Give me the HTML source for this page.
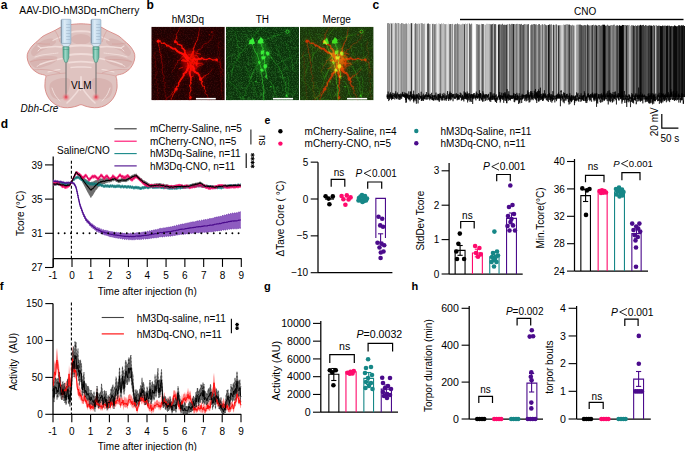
<!DOCTYPE html><html><head><meta charset="utf-8"><style>html,body{margin:0;padding:0;background:#fff;overflow:hidden}svg{display:block}text{font-family:"Liberation Sans", sans-serif}</style></head><body>
<svg width="685" height="451" viewBox="0 0 685 451">
<defs>
<radialGradient id="rglow"><stop offset="0" stop-color="#e8283c" stop-opacity="0.95"/><stop offset="0.35" stop-color="#ee5060" stop-opacity="0.6"/><stop offset="1" stop-color="#f0a0a0" stop-opacity="0"/></radialGradient>
<linearGradient id="barrel" x1="0" x2="1"><stop offset="0" stop-color="#a9c8e0"/><stop offset="0.35" stop-color="#dcebf6"/><stop offset="1" stop-color="#b4d0e6"/></linearGradient>
<linearGradient id="hub" x1="0" x2="1"><stop offset="0" stop-color="#4fa690"/><stop offset="0.4" stop-color="#9cd8c6"/><stop offset="1" stop-color="#56aa94"/></linearGradient>
<filter id="blur1" x="-20%" y="-20%" width="140%" height="140%"><feGaussianBlur stdDeviation="0.7"/></filter>
<filter id="blur2" x="-20%" y="-20%" width="140%" height="140%"><feGaussianBlur stdDeviation="1.4"/></filter>
<filter id="blur05"><feGaussianBlur stdDeviation="0.45"/></filter>
<clipPath id="cp1"><rect x="151.3" y="26.7" width="73.5" height="73.6"/></clipPath>
<clipPath id="cp2"><rect x="225.9" y="26.7" width="73.2" height="73.6"/></clipPath>
<clipPath id="cp3"><rect x="300.0" y="26.7" width="73.4" height="73.6"/></clipPath>
<clipPath id="cpc"><rect x="386" y="18" width="299" height="90"/></clipPath>
</defs>
<text x="0.8" y="8.7" font-size="12" text-anchor="start" font-weight="bold" font-style="normal" fill="#000">a</text>
<text x="146.6" y="8.7" font-size="12" text-anchor="start" font-weight="bold" font-style="normal" fill="#000">b</text>
<text x="372.6" y="8.7" font-size="12" text-anchor="start" font-weight="bold" font-style="normal" fill="#000">c</text>
<text x="0.8" y="127.6" font-size="12" text-anchor="start" font-weight="bold" font-style="normal" fill="#000">d</text>
<text x="264.4" y="124.0" font-size="10.5" text-anchor="start" font-weight="bold" font-style="normal" fill="#000">e</text>
<text x="-0.3" y="289.5" font-size="11.5" text-anchor="start" font-weight="bold" font-style="normal" fill="#000">f</text>
<text x="264.0" y="290.0" font-size="11" text-anchor="start" font-weight="bold" font-style="normal" fill="#000">g</text>
<text x="411.6" y="290.2" font-size="11" text-anchor="start" font-weight="bold" font-style="normal" fill="#000">h</text>
<text x="19.3" y="13.6" font-size="10.25" text-anchor="start" font-weight="normal" font-style="normal" fill="#000">AAV-DIO-hM3Dq-mCherry</text>
<g>
<path d="M81.00,23.80 C78.00,23.80 74.50,24.10 72.00,24.40 C69.50,24.70 68.00,25.07 66.00,25.60 C64.00,26.13 61.83,26.80 60.00,27.60 C58.17,28.40 56.83,29.47 55.00,30.40 C53.17,31.33 51.00,32.23 49.00,33.20 C47.00,34.17 44.83,34.97 43.00,36.20 C41.17,37.43 39.67,39.13 38.00,40.60 C36.33,42.07 34.42,43.52 33.00,45.00 C31.58,46.48 30.45,47.92 29.50,49.50 C28.55,51.08 27.62,52.75 27.30,54.50 C26.98,56.25 27.18,58.17 27.60,60.00 C28.02,61.83 28.82,63.83 29.80,65.50 C30.78,67.17 31.97,68.65 33.50,70.00 C35.03,71.35 37.00,72.67 39.00,73.60 C41.00,74.53 44.47,74.53 45.50,75.60 C46.53,76.67 45.28,77.93 45.20,80.00 C45.12,82.07 44.70,85.50 45.00,88.00 C45.30,90.50 46.00,92.83 47.00,95.00 C48.00,97.17 49.33,99.25 51.00,101.00 C52.67,102.75 54.83,104.40 57.00,105.50 C59.17,106.60 61.67,107.28 64.00,107.60 C66.33,107.92 68.83,107.67 71.00,107.40 C73.17,107.13 75.33,106.47 77.00,106.00 C78.67,105.53 79.67,104.60 81.00,104.60 C82.33,104.60 83.33,105.53 85.00,106.00 C86.67,106.47 88.83,107.13 91.00,107.40 C93.17,107.67 95.67,107.92 98.00,107.60 C100.33,107.28 102.83,106.60 105.00,105.50 C107.17,104.40 109.33,102.75 111.00,101.00 C112.67,99.25 114.00,97.17 115.00,95.00 C116.00,92.83 116.70,90.50 117.00,88.00 C117.30,85.50 116.88,82.07 116.80,80.00 C116.72,77.93 115.47,76.67 116.50,75.60 C117.53,74.53 121.00,74.53 123.00,73.60 C125.00,72.67 126.97,71.35 128.50,70.00 C130.03,68.65 131.22,67.17 132.20,65.50 C133.18,63.83 133.98,61.83 134.40,60.00 C134.82,58.17 135.02,56.25 134.70,54.50 C134.38,52.75 133.45,51.08 132.50,49.50 C131.55,47.92 130.42,46.48 129.00,45.00 C127.58,43.52 125.67,42.07 124.00,40.60 C122.33,39.13 120.83,37.43 119.00,36.20 C117.17,34.97 115.00,34.17 113.00,33.20 C111.00,32.23 108.83,31.33 107.00,30.40 C105.17,29.47 103.83,28.40 102.00,27.60 C100.17,26.80 98.00,26.13 96.00,25.60 C94.00,25.07 92.50,24.70 90.00,24.40 C87.50,24.10 84.00,23.80 81.00,23.80 Z" fill="#dfc3c0" stroke="#d7837e" stroke-width="0.85"/>
<g fill="#d8b5b2">
<ellipse cx="81" cy="39.3" rx="10" ry="5.2"/>
<path d="M31.00,52.00 C31.33,50.17 33.83,47.00 36.00,45.00 C38.17,43.00 41.33,41.08 44.00,40.00 C46.67,38.92 50.00,38.17 52.00,38.50 C54.00,38.83 56.33,40.58 56.00,42.00 C55.67,43.42 52.50,45.50 50.00,47.00 C47.50,48.50 43.67,49.50 41.00,51.00 C38.33,52.50 35.67,55.83 34.00,56.00 C32.33,56.17 30.67,53.83 31.00,52.00 Z"/>
<path d="M30.00,62.00 C30.17,60.33 34.17,59.00 37.00,58.00 C39.83,57.00 43.67,56.17 47.00,56.00 C50.33,55.83 55.67,56.00 57.00,57.00 C58.33,58.00 56.83,60.50 55.00,62.00 C53.17,63.50 49.17,65.00 46.00,66.00 C42.83,67.00 38.67,68.67 36.00,68.00 C33.33,67.33 29.83,63.67 30.00,62.00 Z"/>
<path d="M50.00,84.00 C50.83,82.00 52.83,81.00 55.00,80.00 C57.17,79.00 60.50,78.00 63.00,78.00 C65.50,78.00 69.17,77.67 70.00,80.00 C70.83,82.33 69.33,88.83 68.00,92.00 C66.67,95.17 64.33,98.00 62.00,99.00 C59.67,100.00 56.00,99.17 54.00,98.00 C52.00,96.83 50.67,94.33 50.00,92.00 C49.33,89.67 49.17,86.00 50.00,84.00 Z" fill="#d8b4b1"/>
<path d="M131.00,52.00 C130.67,50.17 128.17,47.00 126.00,45.00 C123.83,43.00 120.67,41.08 118.00,40.00 C115.33,38.92 112.00,38.17 110.00,38.50 C108.00,38.83 105.67,40.58 106.00,42.00 C106.33,43.42 109.50,45.50 112.00,47.00 C114.50,48.50 118.33,49.50 121.00,51.00 C123.67,52.50 126.33,55.83 128.00,56.00 C129.67,56.17 131.33,53.83 131.00,52.00 Z"/>
<path d="M132.00,62.00 C131.83,60.33 127.83,59.00 125.00,58.00 C122.17,57.00 118.33,56.17 115.00,56.00 C111.67,55.83 106.33,56.00 105.00,57.00 C103.67,58.00 105.17,60.50 107.00,62.00 C108.83,63.50 112.83,65.00 116.00,66.00 C119.17,67.00 123.33,68.67 126.00,68.00 C128.67,67.33 132.17,63.67 132.00,62.00 Z"/>
<path d="M112.00,84.00 C111.17,82.00 109.17,81.00 107.00,80.00 C104.83,79.00 101.50,78.00 99.00,78.00 C96.50,78.00 92.83,77.67 92.00,80.00 C91.17,82.33 92.67,88.83 94.00,92.00 C95.33,95.17 97.67,98.00 100.00,99.00 C102.33,100.00 106.00,99.17 108.00,98.00 C110.00,96.83 111.33,94.33 112.00,92.00 C112.67,89.67 112.83,86.00 112.00,84.00 Z" fill="#d8b4b1"/>
</g>
<g fill="none" stroke="#f0dcd9" stroke-linecap="round" stroke-linejoin="round">
<path d="M70.00,32.50 C71.00,32.32 73.33,31.58 76.00,31.40 C78.67,31.22 83.33,31.22 86.00,31.40 C88.67,31.58 91.00,32.32 92.00,32.50 " stroke-width="1.8"/>
<path d="M68.00,46.50 C69.17,46.35 71.83,45.75 75.00,45.60 C78.17,45.45 83.83,45.45 87.00,45.60 C90.17,45.75 92.83,46.35 94.00,46.50 " stroke-width="2.2"/>
<path d="M68.00,55.20 C69.17,55.03 71.83,54.37 75.00,54.20 C78.17,54.03 83.83,54.03 87.00,54.20 C90.17,54.37 92.83,55.03 94.00,55.20 " stroke-width="2.0"/>
<path d="M69.00,62.60 C70.17,62.47 73.17,61.93 76.00,61.80 C78.83,61.67 83.17,61.67 86.00,61.80 C88.83,61.93 91.83,62.47 93.00,62.60 " stroke-width="1.8"/>
<path d="M71.00,67.50 C72.00,67.42 74.67,67.08 77.00,67.00 C79.33,66.92 82.67,66.92 85.00,67.00 C87.33,67.08 90.00,67.42 91.00,67.50 " stroke-width="1.4"/>
<path d="M81.00,77.00 C81.00,78.17 81.08,81.83 81.00,84.00 C80.92,86.17 80.58,89.00 80.50,90.00 " stroke-width="1.8"/>
<path d="M81.00,86.00 C80.33,87.00 78.50,90.00 77.00,92.00 C75.50,94.00 73.67,96.17 72.00,98.00 C70.33,99.83 67.83,102.17 67.00,103.00 " stroke-width="1.5"/>
<path d="M81.00,86.00 C81.67,87.00 83.50,90.00 85.00,92.00 C86.50,94.00 88.33,96.17 90.00,98.00 C91.67,99.83 94.17,102.17 95.00,103.00 " stroke-width="1.5"/>
<path d="M41.00,48.00 C42.00,47.87 44.67,47.45 47.00,47.20 C49.33,46.95 52.50,46.53 55.00,46.50 C57.50,46.47 60.83,46.92 62.00,47.00 " stroke-width="1.6"/>
<path d="M41.00,48.00 C40.50,47.67 38.50,46.33 38.00,46.00 " stroke-width="1.2"/>
<path d="M41.00,48.00 C40.50,48.50 38.50,50.50 38.00,51.00 " stroke-width="1.0"/>
<path d="M40.00,64.50 C41.17,64.08 44.50,62.75 47.00,62.00 C49.50,61.25 52.50,60.58 55.00,60.00 C57.50,59.42 60.83,58.75 62.00,58.50 " stroke-width="1.4"/>
<path d="M40.00,64.50 C39.50,64.83 37.50,66.17 37.00,66.50 " stroke-width="1.0"/>
<path d="M35.00,57.00 C36.17,56.67 39.50,55.50 42.00,55.00 C44.50,54.50 47.33,54.33 50.00,54.00 C52.67,53.67 56.67,53.17 58.00,53.00 " stroke-width="1.0"/>
<path d="M53.00,40.50 C53.67,40.17 55.50,39.17 57.00,38.50 C58.50,37.83 61.17,36.83 62.00,36.50 " stroke-width="1.2"/>
<path d="M48.00,72.00 C49.00,71.75 52.00,70.92 54.00,70.50 C56.00,70.08 59.00,69.67 60.00,69.50 " stroke-width="1.2"/>
<path d="M52.00,88.00 C52.50,89.17 53.67,92.83 55.00,95.00 C56.33,97.17 59.17,100.00 60.00,101.00 " stroke-width="1.0"/>
<path d="M121.00,48.00 C120.00,47.87 117.33,47.45 115.00,47.20 C112.67,46.95 109.50,46.53 107.00,46.50 C104.50,46.47 101.17,46.92 100.00,47.00 " stroke-width="1.6"/>
<path d="M121.00,48.00 C121.50,47.67 123.50,46.33 124.00,46.00 " stroke-width="1.2"/>
<path d="M121.00,48.00 C121.50,48.50 123.50,50.50 124.00,51.00 " stroke-width="1.0"/>
<path d="M122.00,64.50 C120.83,64.08 117.50,62.75 115.00,62.00 C112.50,61.25 109.50,60.58 107.00,60.00 C104.50,59.42 101.17,58.75 100.00,58.50 " stroke-width="1.4"/>
<path d="M122.00,64.50 C122.50,64.83 124.50,66.17 125.00,66.50 " stroke-width="1.0"/>
<path d="M127.00,57.00 C125.83,56.67 122.50,55.50 120.00,55.00 C117.50,54.50 114.67,54.33 112.00,54.00 C109.33,53.67 105.33,53.17 104.00,53.00 " stroke-width="1.0"/>
<path d="M109.00,40.50 C108.33,40.17 106.50,39.17 105.00,38.50 C103.50,37.83 100.83,36.83 100.00,36.50 " stroke-width="1.2"/>
<path d="M114.00,72.00 C113.00,71.75 110.00,70.92 108.00,70.50 C106.00,70.08 103.00,69.67 102.00,69.50 " stroke-width="1.2"/>
<path d="M110.00,88.00 C109.50,89.17 108.33,92.83 107.00,95.00 C105.67,97.17 102.83,100.00 102.00,101.00 " stroke-width="1.0"/>
</g>
<g fill="none" stroke="#d39995" stroke-width="0.55">
<path d="M29.50,62.00 C30.92,61.67 34.92,60.42 38.00,60.00 C41.08,59.58 44.83,59.50 48.00,59.50 C51.17,59.50 55.50,59.92 57.00,60.00 "/>
<path d="M33.00,70.00 C34.50,69.92 38.83,69.42 42.00,69.50 C45.17,69.58 49.00,69.92 52.00,70.50 C55.00,71.08 58.67,72.58 60.00,73.00 "/>
<path d="M46.00,76.00 C47.67,75.67 52.67,74.50 56.00,74.00 C59.33,73.50 64.33,73.17 66.00,73.00 "/>
<path d="M36.00,43.00 C37.17,43.17 40.67,43.83 43.00,44.00 C45.33,44.17 48.83,44.00 50.00,44.00 "/>
<path d="M55.00,30.40 C55.50,31.33 57.17,34.07 58.00,36.00 C58.83,37.93 59.67,41.00 60.00,42.00 "/>
<path d="M132.50,62.00 C131.08,61.67 127.08,60.42 124.00,60.00 C120.92,59.58 117.17,59.50 114.00,59.50 C110.83,59.50 106.50,59.92 105.00,60.00 "/>
<path d="M129.00,70.00 C127.50,69.92 123.17,69.42 120.00,69.50 C116.83,69.58 113.00,69.92 110.00,70.50 C107.00,71.08 103.33,72.58 102.00,73.00 "/>
<path d="M116.00,76.00 C114.33,75.67 109.33,74.50 106.00,74.00 C102.67,73.50 97.67,73.17 96.00,73.00 "/>
<path d="M126.00,43.00 C124.83,43.17 121.33,43.83 119.00,44.00 C116.67,44.17 113.17,44.00 112.00,44.00 "/>
<path d="M107.00,30.40 C106.50,31.33 104.83,34.07 104.00,36.00 C103.17,37.93 102.33,41.00 102.00,42.00 "/>
</g>
</g>
<line x1="66.0" y1="61" x2="66.0" y2="97" stroke="#6e6e6e" stroke-width="1.0"/>
<circle cx="66.0" cy="97.2" r="4.4" fill="url(#rglow)"/>
<rect x="61.1" y="19.3" width="9.8" height="24.2" rx="0.8" fill="url(#barrel)" stroke="#8aa2b8" stroke-width="0.6"/>
<line x1="61.4" y1="20" x2="61.4" y2="43" stroke="#7b8a98" stroke-width="0.7"/>
<line x1="66.2" y1="24.5" x2="70.2" y2="24.5" stroke="#8aa2b8" stroke-width="0.4"/>
<line x1="66.2" y1="27.5" x2="70.2" y2="27.5" stroke="#8aa2b8" stroke-width="0.4"/>
<line x1="66.2" y1="30.5" x2="70.2" y2="30.5" stroke="#8aa2b8" stroke-width="0.4"/>
<line x1="66.2" y1="33.5" x2="70.2" y2="33.5" stroke="#8aa2b8" stroke-width="0.4"/>
<line x1="66.2" y1="36.5" x2="70.2" y2="36.5" stroke="#8aa2b8" stroke-width="0.4"/>
<line x1="66.2" y1="39.5" x2="70.2" y2="39.5" stroke="#8aa2b8" stroke-width="0.4"/>
<polygon points="61.1,43.4 70.9,43.4 68.3,46.6 63.7,46.6" fill="#d6e8f4" stroke="#8aa2b8" stroke-width="0.5"/>
<polygon points="62.9,46.8 69.1,46.8 68.9,57.5 67.2,62.2 64.8,62.2 63.1,57.5" fill="url(#hub)" stroke="#3a8874" stroke-width="0.5"/>
<line x1="63.0" y1="49.5" x2="69.0" y2="49.5" stroke="#3a8874" stroke-width="0.45"/>
<line x1="96.0" y1="61" x2="96.0" y2="97" stroke="#6e6e6e" stroke-width="1.0"/>
<circle cx="96.0" cy="97.2" r="4.4" fill="url(#rglow)"/>
<rect x="91.1" y="19.3" width="9.8" height="24.2" rx="0.8" fill="url(#barrel)" stroke="#8aa2b8" stroke-width="0.6"/>
<line x1="91.4" y1="20" x2="91.4" y2="43" stroke="#7b8a98" stroke-width="0.7"/>
<line x1="96.2" y1="24.5" x2="100.2" y2="24.5" stroke="#8aa2b8" stroke-width="0.4"/>
<line x1="96.2" y1="27.5" x2="100.2" y2="27.5" stroke="#8aa2b8" stroke-width="0.4"/>
<line x1="96.2" y1="30.5" x2="100.2" y2="30.5" stroke="#8aa2b8" stroke-width="0.4"/>
<line x1="96.2" y1="33.5" x2="100.2" y2="33.5" stroke="#8aa2b8" stroke-width="0.4"/>
<line x1="96.2" y1="36.5" x2="100.2" y2="36.5" stroke="#8aa2b8" stroke-width="0.4"/>
<line x1="96.2" y1="39.5" x2="100.2" y2="39.5" stroke="#8aa2b8" stroke-width="0.4"/>
<polygon points="91.1,43.4 100.9,43.4 98.3,46.6 93.7,46.6" fill="#d6e8f4" stroke="#8aa2b8" stroke-width="0.5"/>
<polygon points="92.9,46.8 99.1,46.8 98.9,57.5 97.2,62.2 94.8,62.2 93.1,57.5" fill="url(#hub)" stroke="#3a8874" stroke-width="0.5"/>
<line x1="93.0" y1="49.5" x2="99.0" y2="49.5" stroke="#3a8874" stroke-width="0.45"/>
<text x="81.3" y="88.5" font-size="10" text-anchor="middle" font-weight="normal" font-style="normal" fill="#000">VLM</text>
<text x="20.6" y="111.6" font-size="10" text-anchor="start" font-weight="normal" font-style="italic" fill="#000">Dbh-Cre</text>
<text x="187.9" y="23.2" font-size="10" text-anchor="middle" font-weight="normal" font-style="normal" fill="#000">hM3Dq</text>
<text x="262.4" y="23.2" font-size="10" text-anchor="middle" font-weight="normal" font-style="normal" fill="#000">TH</text>
<text x="336.6" y="23.2" font-size="10" text-anchor="middle" font-weight="normal" font-style="normal" fill="#000">Merge</text>
<defs>
<g id="redN"><line x1="36.4" y1="33.8" x2="35.0" y2="31.2" stroke="currentColor" stroke-opacity="1.00" stroke-width="2.40" stroke-linecap="round"/><line x1="35.0" y1="31.2" x2="34.8" y2="30.9" stroke="currentColor" stroke-opacity="0.99" stroke-width="2.33" stroke-linecap="round"/><line x1="34.8" y1="30.9" x2="32.9" y2="28.7" stroke="currentColor" stroke-opacity="0.98" stroke-width="2.26" stroke-linecap="round"/><line x1="32.9" y1="28.7" x2="32.9" y2="27.7" stroke="currentColor" stroke-opacity="0.97" stroke-width="2.19" stroke-linecap="round"/><line x1="32.9" y1="27.7" x2="31.2" y2="27.2" stroke="currentColor" stroke-opacity="0.96" stroke-width="2.12" stroke-linecap="round"/><line x1="31.2" y1="27.2" x2="29.4" y2="26.2" stroke="currentColor" stroke-opacity="0.95" stroke-width="2.05" stroke-linecap="round"/><line x1="29.4" y1="26.2" x2="28.0" y2="25.8" stroke="currentColor" stroke-opacity="0.94" stroke-width="1.98" stroke-linecap="round"/><line x1="28.0" y1="25.8" x2="26.0" y2="24.4" stroke="currentColor" stroke-opacity="0.93" stroke-width="1.91" stroke-linecap="round"/><line x1="26.0" y1="24.4" x2="24.5" y2="22.8" stroke="currentColor" stroke-opacity="0.92" stroke-width="1.84" stroke-linecap="round"/><line x1="24.5" y1="22.8" x2="23.8" y2="21.9" stroke="currentColor" stroke-opacity="0.91" stroke-width="1.77" stroke-linecap="round"/><line x1="23.8" y1="21.9" x2="21.7" y2="22.0" stroke="currentColor" stroke-opacity="0.90" stroke-width="1.70" stroke-linecap="round"/><line x1="21.7" y1="22.0" x2="19.7" y2="20.7" stroke="currentColor" stroke-opacity="0.89" stroke-width="1.63" stroke-linecap="round"/><line x1="19.7" y1="20.7" x2="19.9" y2="20.9" stroke="currentColor" stroke-opacity="0.88" stroke-width="1.56" stroke-linecap="round"/><line x1="19.9" y1="20.9" x2="16.7" y2="18.7" stroke="currentColor" stroke-opacity="0.87" stroke-width="1.49" stroke-linecap="round"/><line x1="16.7" y1="18.7" x2="15.6" y2="19.3" stroke="currentColor" stroke-opacity="0.86" stroke-width="1.42" stroke-linecap="round"/><line x1="15.6" y1="19.3" x2="15.2" y2="18.4" stroke="currentColor" stroke-opacity="0.85" stroke-width="1.35" stroke-linecap="round"/><line x1="15.2" y1="18.4" x2="12.8" y2="16.4" stroke="currentColor" stroke-opacity="0.84" stroke-width="1.28" stroke-linecap="round"/><line x1="12.8" y1="16.4" x2="12.1" y2="16.7" stroke="currentColor" stroke-opacity="0.83" stroke-width="1.21" stroke-linecap="round"/><line x1="12.1" y1="16.7" x2="10.2" y2="16.6" stroke="currentColor" stroke-opacity="0.82" stroke-width="1.14" stroke-linecap="round"/><line x1="10.2" y1="16.6" x2="8.8" y2="14.2" stroke="currentColor" stroke-opacity="0.81" stroke-width="1.07" stroke-linecap="round"/><line x1="8.8" y1="14.2" x2="7.0" y2="14.5" stroke="currentColor" stroke-opacity="0.80" stroke-width="1.00" stroke-linecap="round"/><line x1="37.6" y1="31.6" x2="36.5" y2="31.3" stroke="currentColor" stroke-opacity="1.00" stroke-width="2.00" stroke-linecap="round"/><line x1="36.5" y1="31.3" x2="34.8" y2="28.3" stroke="currentColor" stroke-opacity="0.98" stroke-width="1.93" stroke-linecap="round"/><line x1="34.8" y1="28.3" x2="34.0" y2="27.6" stroke="currentColor" stroke-opacity="0.96" stroke-width="1.85" stroke-linecap="round"/><line x1="34.0" y1="27.6" x2="33.6" y2="26.2" stroke="currentColor" stroke-opacity="0.95" stroke-width="1.78" stroke-linecap="round"/><line x1="33.6" y1="26.2" x2="33.4" y2="23.8" stroke="currentColor" stroke-opacity="0.93" stroke-width="1.71" stroke-linecap="round"/><line x1="33.4" y1="23.8" x2="32.2" y2="22.2" stroke="currentColor" stroke-opacity="0.91" stroke-width="1.64" stroke-linecap="round"/><line x1="32.2" y1="22.2" x2="31.0" y2="21.7" stroke="currentColor" stroke-opacity="0.89" stroke-width="1.56" stroke-linecap="round"/><line x1="31.0" y1="21.7" x2="30.3" y2="18.9" stroke="currentColor" stroke-opacity="0.87" stroke-width="1.49" stroke-linecap="round"/><line x1="30.3" y1="18.9" x2="28.2" y2="17.9" stroke="currentColor" stroke-opacity="0.85" stroke-width="1.42" stroke-linecap="round"/><line x1="28.2" y1="17.9" x2="26.1" y2="17.5" stroke="currentColor" stroke-opacity="0.84" stroke-width="1.35" stroke-linecap="round"/><line x1="26.1" y1="17.5" x2="25.7" y2="15.6" stroke="currentColor" stroke-opacity="0.82" stroke-width="1.27" stroke-linecap="round"/><line x1="25.7" y1="15.6" x2="24.0" y2="15.0" stroke="currentColor" stroke-opacity="0.80" stroke-width="1.20" stroke-linecap="round"/><line x1="41.4" y1="33.1" x2="42.9" y2="31.8" stroke="currentColor" stroke-opacity="1.00" stroke-width="2.00" stroke-linecap="round"/><line x1="42.9" y1="31.8" x2="44.2" y2="33.0" stroke="currentColor" stroke-opacity="0.98" stroke-width="1.91" stroke-linecap="round"/><line x1="44.2" y1="33.0" x2="47.7" y2="32.1" stroke="currentColor" stroke-opacity="0.95" stroke-width="1.82" stroke-linecap="round"/><line x1="47.7" y1="32.1" x2="49.6" y2="32.1" stroke="currentColor" stroke-opacity="0.93" stroke-width="1.73" stroke-linecap="round"/><line x1="49.6" y1="32.1" x2="50.4" y2="31.3" stroke="currentColor" stroke-opacity="0.91" stroke-width="1.64" stroke-linecap="round"/><line x1="50.4" y1="31.3" x2="52.7" y2="32.7" stroke="currentColor" stroke-opacity="0.89" stroke-width="1.55" stroke-linecap="round"/><line x1="52.7" y1="32.7" x2="55.5" y2="32.8" stroke="currentColor" stroke-opacity="0.86" stroke-width="1.45" stroke-linecap="round"/><line x1="55.5" y1="32.8" x2="57.7" y2="31.8" stroke="currentColor" stroke-opacity="0.84" stroke-width="1.36" stroke-linecap="round"/><line x1="57.7" y1="31.8" x2="58.5" y2="31.8" stroke="currentColor" stroke-opacity="0.82" stroke-width="1.27" stroke-linecap="round"/><line x1="58.5" y1="31.8" x2="61.6" y2="33.4" stroke="currentColor" stroke-opacity="0.80" stroke-width="1.18" stroke-linecap="round"/><line x1="61.6" y1="33.4" x2="63.0" y2="33.1" stroke="currentColor" stroke-opacity="0.77" stroke-width="1.09" stroke-linecap="round"/><line x1="63.0" y1="33.1" x2="65.3" y2="33.0" stroke="currentColor" stroke-opacity="0.75" stroke-width="1.00" stroke-linecap="round"/><line x1="39.4" y1="38.8" x2="41.7" y2="40.5" stroke="currentColor" stroke-opacity="1.00" stroke-width="2.40" stroke-linecap="round"/><line x1="41.7" y1="40.5" x2="42.6" y2="42.0" stroke="currentColor" stroke-opacity="0.98" stroke-width="2.30" stroke-linecap="round"/><line x1="42.6" y1="42.0" x2="42.1" y2="43.4" stroke="currentColor" stroke-opacity="0.96" stroke-width="2.20" stroke-linecap="round"/><line x1="42.1" y1="43.4" x2="43.7" y2="45.1" stroke="currentColor" stroke-opacity="0.94" stroke-width="2.10" stroke-linecap="round"/><line x1="43.7" y1="45.1" x2="45.5" y2="46.3" stroke="currentColor" stroke-opacity="0.91" stroke-width="2.00" stroke-linecap="round"/><line x1="45.5" y1="46.3" x2="46.6" y2="46.6" stroke="currentColor" stroke-opacity="0.89" stroke-width="1.90" stroke-linecap="round"/><line x1="46.6" y1="46.6" x2="47.6" y2="48.1" stroke="currentColor" stroke-opacity="0.87" stroke-width="1.80" stroke-linecap="round"/><line x1="47.6" y1="48.1" x2="48.9" y2="51.2" stroke="currentColor" stroke-opacity="0.85" stroke-width="1.70" stroke-linecap="round"/><line x1="48.9" y1="51.2" x2="48.8" y2="52.9" stroke="currentColor" stroke-opacity="0.83" stroke-width="1.60" stroke-linecap="round"/><line x1="48.8" y1="52.9" x2="49.8" y2="53.5" stroke="currentColor" stroke-opacity="0.81" stroke-width="1.50" stroke-linecap="round"/><line x1="49.8" y1="53.5" x2="51.0" y2="54.9" stroke="currentColor" stroke-opacity="0.79" stroke-width="1.40" stroke-linecap="round"/><line x1="51.0" y1="54.9" x2="50.1" y2="56.4" stroke="currentColor" stroke-opacity="0.76" stroke-width="1.30" stroke-linecap="round"/><line x1="50.1" y1="56.4" x2="51.4" y2="59.3" stroke="currentColor" stroke-opacity="0.74" stroke-width="1.20" stroke-linecap="round"/><line x1="51.4" y1="59.3" x2="53.2" y2="59.9" stroke="currentColor" stroke-opacity="0.72" stroke-width="1.10" stroke-linecap="round"/><line x1="53.2" y1="59.9" x2="53.0" y2="62.0" stroke="currentColor" stroke-opacity="0.70" stroke-width="1.00" stroke-linecap="round"/><line x1="37.3" y1="38.8" x2="37.2" y2="40.7" stroke="currentColor" stroke-opacity="1.00" stroke-width="2.20" stroke-linecap="round"/><line x1="37.2" y1="40.7" x2="36.5" y2="41.6" stroke="currentColor" stroke-opacity="0.98" stroke-width="2.13" stroke-linecap="round"/><line x1="36.5" y1="41.6" x2="35.8" y2="43.4" stroke="currentColor" stroke-opacity="0.95" stroke-width="2.05" stroke-linecap="round"/><line x1="35.8" y1="43.4" x2="34.8" y2="45.2" stroke="currentColor" stroke-opacity="0.93" stroke-width="1.98" stroke-linecap="round"/><line x1="34.8" y1="45.2" x2="32.3" y2="47.2" stroke="currentColor" stroke-opacity="0.91" stroke-width="1.91" stroke-linecap="round"/><line x1="32.3" y1="47.2" x2="32.4" y2="48.7" stroke="currentColor" stroke-opacity="0.88" stroke-width="1.83" stroke-linecap="round"/><line x1="32.4" y1="48.7" x2="31.2" y2="50.7" stroke="currentColor" stroke-opacity="0.86" stroke-width="1.76" stroke-linecap="round"/><line x1="31.2" y1="50.7" x2="29.8" y2="52.5" stroke="currentColor" stroke-opacity="0.83" stroke-width="1.68" stroke-linecap="round"/><line x1="29.8" y1="52.5" x2="28.6" y2="54.4" stroke="currentColor" stroke-opacity="0.81" stroke-width="1.61" stroke-linecap="round"/><line x1="28.6" y1="54.4" x2="27.3" y2="56.4" stroke="currentColor" stroke-opacity="0.79" stroke-width="1.54" stroke-linecap="round"/><line x1="27.3" y1="56.4" x2="27.4" y2="57.7" stroke="currentColor" stroke-opacity="0.76" stroke-width="1.46" stroke-linecap="round"/><line x1="27.4" y1="57.7" x2="26.9" y2="59.3" stroke="currentColor" stroke-opacity="0.74" stroke-width="1.39" stroke-linecap="round"/><line x1="26.9" y1="59.3" x2="25.4" y2="59.9" stroke="currentColor" stroke-opacity="0.72" stroke-width="1.32" stroke-linecap="round"/><line x1="25.4" y1="59.9" x2="25.1" y2="62.1" stroke="currentColor" stroke-opacity="0.69" stroke-width="1.24" stroke-linecap="round"/><line x1="25.1" y1="62.1" x2="23.5" y2="64.9" stroke="currentColor" stroke-opacity="0.67" stroke-width="1.17" stroke-linecap="round"/><line x1="23.5" y1="64.9" x2="23.3" y2="65.8" stroke="currentColor" stroke-opacity="0.64" stroke-width="1.09" stroke-linecap="round"/><line x1="23.3" y1="65.8" x2="21.7" y2="67.8" stroke="currentColor" stroke-opacity="0.62" stroke-width="1.02" stroke-linecap="round"/><line x1="21.7" y1="67.8" x2="21.2" y2="69.6" stroke="currentColor" stroke-opacity="0.60" stroke-width="0.95" stroke-linecap="round"/><line x1="21.2" y1="69.6" x2="20.0" y2="71.9" stroke="currentColor" stroke-opacity="0.57" stroke-width="0.87" stroke-linecap="round"/><line x1="20.0" y1="71.9" x2="20.0" y2="74.0" stroke="currentColor" stroke-opacity="0.55" stroke-width="0.80" stroke-linecap="round"/><line x1="39.8" y1="41.3" x2="39.7" y2="43.2" stroke="currentColor" stroke-opacity="0.90" stroke-width="1.60" stroke-linecap="round"/><line x1="39.7" y1="43.2" x2="38.6" y2="45.1" stroke="currentColor" stroke-opacity="0.88" stroke-width="1.55" stroke-linecap="round"/><line x1="38.6" y1="45.1" x2="38.1" y2="46.6" stroke="currentColor" stroke-opacity="0.85" stroke-width="1.50" stroke-linecap="round"/><line x1="38.1" y1="46.6" x2="39.0" y2="49.1" stroke="currentColor" stroke-opacity="0.82" stroke-width="1.45" stroke-linecap="round"/><line x1="39.0" y1="49.1" x2="39.6" y2="50.9" stroke="currentColor" stroke-opacity="0.80" stroke-width="1.40" stroke-linecap="round"/><line x1="39.6" y1="50.9" x2="39.4" y2="52.5" stroke="currentColor" stroke-opacity="0.78" stroke-width="1.35" stroke-linecap="round"/><line x1="39.4" y1="52.5" x2="39.3" y2="55.7" stroke="currentColor" stroke-opacity="0.75" stroke-width="1.30" stroke-linecap="round"/><line x1="39.3" y1="55.7" x2="39.7" y2="56.4" stroke="currentColor" stroke-opacity="0.72" stroke-width="1.25" stroke-linecap="round"/><line x1="39.7" y1="56.4" x2="38.3" y2="59.0" stroke="currentColor" stroke-opacity="0.70" stroke-width="1.20" stroke-linecap="round"/><line x1="38.3" y1="59.0" x2="39.2" y2="60.7" stroke="currentColor" stroke-opacity="0.68" stroke-width="1.15" stroke-linecap="round"/><line x1="39.2" y1="60.7" x2="39.6" y2="63.5" stroke="currentColor" stroke-opacity="0.65" stroke-width="1.10" stroke-linecap="round"/><line x1="39.6" y1="63.5" x2="39.3" y2="64.5" stroke="currentColor" stroke-opacity="0.62" stroke-width="1.05" stroke-linecap="round"/><line x1="39.3" y1="64.5" x2="38.5" y2="66.1" stroke="currentColor" stroke-opacity="0.60" stroke-width="1.00" stroke-linecap="round"/><line x1="38.5" y1="66.1" x2="38.5" y2="69.0" stroke="currentColor" stroke-opacity="0.57" stroke-width="0.95" stroke-linecap="round"/><line x1="38.5" y1="69.0" x2="39.6" y2="70.2" stroke="currentColor" stroke-opacity="0.55" stroke-width="0.90" stroke-linecap="round"/><line x1="39.6" y1="70.2" x2="38.6" y2="73.2" stroke="currentColor" stroke-opacity="0.53" stroke-width="0.85" stroke-linecap="round"/><line x1="38.6" y1="73.2" x2="38.5" y2="75.0" stroke="currentColor" stroke-opacity="0.50" stroke-width="0.80" stroke-linecap="round"/><line x1="39.4" y1="30.4" x2="40.7" y2="27.5" stroke="currentColor" stroke-opacity="0.80" stroke-width="1.40" stroke-linecap="round"/><line x1="40.7" y1="27.5" x2="41.6" y2="25.1" stroke="currentColor" stroke-opacity="0.77" stroke-width="1.34" stroke-linecap="round"/><line x1="41.6" y1="25.1" x2="42.5" y2="24.5" stroke="currentColor" stroke-opacity="0.74" stroke-width="1.29" stroke-linecap="round"/><line x1="42.5" y1="24.5" x2="42.0" y2="21.9" stroke="currentColor" stroke-opacity="0.70" stroke-width="1.23" stroke-linecap="round"/><line x1="42.0" y1="21.9" x2="42.7" y2="20.8" stroke="currentColor" stroke-opacity="0.67" stroke-width="1.17" stroke-linecap="round"/><line x1="42.7" y1="20.8" x2="44.0" y2="17.2" stroke="currentColor" stroke-opacity="0.64" stroke-width="1.11" stroke-linecap="round"/><line x1="44.0" y1="17.2" x2="44.2" y2="16.6" stroke="currentColor" stroke-opacity="0.61" stroke-width="1.06" stroke-linecap="round"/><line x1="44.2" y1="16.6" x2="45.3" y2="14.5" stroke="currentColor" stroke-opacity="0.57" stroke-width="1.00" stroke-linecap="round"/><line x1="45.3" y1="14.5" x2="46.3" y2="12.9" stroke="currentColor" stroke-opacity="0.54" stroke-width="0.94" stroke-linecap="round"/><line x1="46.3" y1="12.9" x2="46.5" y2="10.8" stroke="currentColor" stroke-opacity="0.51" stroke-width="0.89" stroke-linecap="round"/><line x1="46.5" y1="10.8" x2="47.4" y2="8.2" stroke="currentColor" stroke-opacity="0.48" stroke-width="0.83" stroke-linecap="round"/><line x1="47.4" y1="8.2" x2="47.4" y2="6.0" stroke="currentColor" stroke-opacity="0.45" stroke-width="0.77" stroke-linecap="round"/><line x1="47.4" y1="6.0" x2="47.9" y2="4.1" stroke="currentColor" stroke-opacity="0.41" stroke-width="0.71" stroke-linecap="round"/><line x1="47.9" y1="4.1" x2="48.4" y2="2.4" stroke="currentColor" stroke-opacity="0.38" stroke-width="0.66" stroke-linecap="round"/><line x1="48.4" y1="2.4" x2="48.0" y2="0.0" stroke="currentColor" stroke-opacity="0.35" stroke-width="0.60" stroke-linecap="round"/><line x1="24.0" y1="14.6" x2="23.9" y2="13.6" stroke="currentColor" stroke-opacity="0.60" stroke-width="1.00" stroke-linecap="round"/><line x1="23.9" y1="13.6" x2="25.1" y2="11.7" stroke="currentColor" stroke-opacity="0.56" stroke-width="0.95" stroke-linecap="round"/><line x1="25.1" y1="11.7" x2="25.2" y2="9.6" stroke="currentColor" stroke-opacity="0.53" stroke-width="0.90" stroke-linecap="round"/><line x1="25.2" y1="9.6" x2="24.9" y2="7.9" stroke="currentColor" stroke-opacity="0.49" stroke-width="0.85" stroke-linecap="round"/><line x1="24.9" y1="7.9" x2="25.9" y2="6.3" stroke="currentColor" stroke-opacity="0.45" stroke-width="0.80" stroke-linecap="round"/><line x1="25.9" y1="6.3" x2="27.1" y2="4.3" stroke="currentColor" stroke-opacity="0.41" stroke-width="0.75" stroke-linecap="round"/><line x1="27.1" y1="4.3" x2="27.2" y2="3.7" stroke="currentColor" stroke-opacity="0.38" stroke-width="0.70" stroke-linecap="round"/><line x1="27.2" y1="3.7" x2="28.7" y2="0.9" stroke="currentColor" stroke-opacity="0.34" stroke-width="0.65" stroke-linecap="round"/><line x1="28.7" y1="0.9" x2="29.0" y2="0.0" stroke="currentColor" stroke-opacity="0.30" stroke-width="0.60" stroke-linecap="round"/><line x1="6.8" y1="14.6" x2="7.1" y2="15.8" stroke="currentColor" stroke-opacity="0.45" stroke-width="0.90" stroke-linecap="round"/><line x1="7.1" y1="15.8" x2="7.4" y2="19.0" stroke="currentColor" stroke-opacity="0.44" stroke-width="0.89" stroke-linecap="round"/><line x1="7.4" y1="19.0" x2="7.9" y2="20.5" stroke="currentColor" stroke-opacity="0.44" stroke-width="0.88" stroke-linecap="round"/><line x1="7.9" y1="20.5" x2="8.6" y2="22.5" stroke="currentColor" stroke-opacity="0.43" stroke-width="0.88" stroke-linecap="round"/><line x1="8.6" y1="22.5" x2="8.2" y2="22.7" stroke="currentColor" stroke-opacity="0.42" stroke-width="0.87" stroke-linecap="round"/><line x1="8.2" y1="22.7" x2="8.5" y2="25.7" stroke="currentColor" stroke-opacity="0.42" stroke-width="0.86" stroke-linecap="round"/><line x1="8.5" y1="25.7" x2="9.8" y2="27.6" stroke="currentColor" stroke-opacity="0.41" stroke-width="0.85" stroke-linecap="round"/><line x1="9.8" y1="27.6" x2="9.5" y2="28.8" stroke="currentColor" stroke-opacity="0.40" stroke-width="0.84" stroke-linecap="round"/><line x1="9.5" y1="28.8" x2="10.1" y2="30.2" stroke="currentColor" stroke-opacity="0.39" stroke-width="0.83" stroke-linecap="round"/><line x1="10.1" y1="30.2" x2="9.7" y2="31.1" stroke="currentColor" stroke-opacity="0.39" stroke-width="0.82" stroke-linecap="round"/><line x1="9.7" y1="31.1" x2="10.3" y2="32.4" stroke="currentColor" stroke-opacity="0.38" stroke-width="0.82" stroke-linecap="round"/><line x1="10.3" y1="32.4" x2="10.3" y2="35.1" stroke="currentColor" stroke-opacity="0.37" stroke-width="0.81" stroke-linecap="round"/><line x1="10.3" y1="35.1" x2="10.6" y2="35.8" stroke="currentColor" stroke-opacity="0.37" stroke-width="0.80" stroke-linecap="round"/><line x1="10.6" y1="35.8" x2="10.9" y2="37.3" stroke="currentColor" stroke-opacity="0.36" stroke-width="0.79" stroke-linecap="round"/><line x1="10.9" y1="37.3" x2="11.4" y2="38.7" stroke="currentColor" stroke-opacity="0.35" stroke-width="0.78" stroke-linecap="round"/><line x1="11.4" y1="38.7" x2="11.2" y2="41.3" stroke="currentColor" stroke-opacity="0.35" stroke-width="0.78" stroke-linecap="round"/><line x1="11.2" y1="41.3" x2="10.7" y2="43.1" stroke="currentColor" stroke-opacity="0.34" stroke-width="0.77" stroke-linecap="round"/><line x1="10.7" y1="43.1" x2="11.1" y2="44.3" stroke="currentColor" stroke-opacity="0.33" stroke-width="0.76" stroke-linecap="round"/><line x1="11.1" y1="44.3" x2="11.2" y2="45.8" stroke="currentColor" stroke-opacity="0.33" stroke-width="0.75" stroke-linecap="round"/><line x1="11.2" y1="45.8" x2="11.6" y2="47.4" stroke="currentColor" stroke-opacity="0.32" stroke-width="0.74" stroke-linecap="round"/><line x1="11.6" y1="47.4" x2="12.8" y2="49.1" stroke="currentColor" stroke-opacity="0.31" stroke-width="0.73" stroke-linecap="round"/><line x1="12.8" y1="49.1" x2="13.0" y2="51.6" stroke="currentColor" stroke-opacity="0.30" stroke-width="0.72" stroke-linecap="round"/><line x1="13.0" y1="51.6" x2="12.2" y2="51.9" stroke="currentColor" stroke-opacity="0.30" stroke-width="0.72" stroke-linecap="round"/><line x1="12.2" y1="51.9" x2="12.0" y2="54.4" stroke="currentColor" stroke-opacity="0.29" stroke-width="0.71" stroke-linecap="round"/><line x1="12.0" y1="54.4" x2="13.9" y2="55.7" stroke="currentColor" stroke-opacity="0.28" stroke-width="0.70" stroke-linecap="round"/><line x1="13.9" y1="55.7" x2="13.4" y2="58.2" stroke="currentColor" stroke-opacity="0.28" stroke-width="0.69" stroke-linecap="round"/><line x1="13.4" y1="58.2" x2="13.6" y2="59.8" stroke="currentColor" stroke-opacity="0.27" stroke-width="0.68" stroke-linecap="round"/><line x1="13.6" y1="59.8" x2="14.3" y2="60.5" stroke="currentColor" stroke-opacity="0.26" stroke-width="0.68" stroke-linecap="round"/><line x1="14.3" y1="60.5" x2="12.8" y2="62.0" stroke="currentColor" stroke-opacity="0.26" stroke-width="0.67" stroke-linecap="round"/><line x1="12.8" y1="62.0" x2="13.2" y2="64.6" stroke="currentColor" stroke-opacity="0.25" stroke-width="0.66" stroke-linecap="round"/><line x1="13.2" y1="64.6" x2="14.1" y2="65.5" stroke="currentColor" stroke-opacity="0.24" stroke-width="0.65" stroke-linecap="round"/><line x1="14.1" y1="65.5" x2="14.5" y2="68.1" stroke="currentColor" stroke-opacity="0.23" stroke-width="0.64" stroke-linecap="round"/><line x1="14.5" y1="68.1" x2="13.7" y2="69.5" stroke="currentColor" stroke-opacity="0.23" stroke-width="0.63" stroke-linecap="round"/><line x1="13.7" y1="69.5" x2="14.9" y2="70.3" stroke="currentColor" stroke-opacity="0.22" stroke-width="0.62" stroke-linecap="round"/><line x1="14.9" y1="70.3" x2="15.2" y2="73.5" stroke="currentColor" stroke-opacity="0.21" stroke-width="0.62" stroke-linecap="round"/><line x1="15.2" y1="73.5" x2="14.1" y2="73.5" stroke="currentColor" stroke-opacity="0.21" stroke-width="0.61" stroke-linecap="round"/><line x1="14.1" y1="73.5" x2="15.0" y2="76.0" stroke="currentColor" stroke-opacity="0.20" stroke-width="0.60" stroke-linecap="round"/><line x1="49.0" y1="52.6" x2="51.7" y2="51.0" stroke="currentColor" stroke-opacity="0.60" stroke-width="1.10" stroke-linecap="round"/><line x1="51.7" y1="51.0" x2="52.8" y2="49.3" stroke="currentColor" stroke-opacity="0.56" stroke-width="1.04" stroke-linecap="round"/><line x1="52.8" y1="49.3" x2="54.3" y2="49.2" stroke="currentColor" stroke-opacity="0.53" stroke-width="0.98" stroke-linecap="round"/><line x1="54.3" y1="49.2" x2="54.6" y2="48.5" stroke="currentColor" stroke-opacity="0.49" stroke-width="0.91" stroke-linecap="round"/><line x1="54.6" y1="48.5" x2="57.3" y2="47.2" stroke="currentColor" stroke-opacity="0.45" stroke-width="0.85" stroke-linecap="round"/><line x1="57.3" y1="47.2" x2="57.3" y2="46.9" stroke="currentColor" stroke-opacity="0.41" stroke-width="0.79" stroke-linecap="round"/><line x1="57.3" y1="46.9" x2="59.8" y2="44.4" stroke="currentColor" stroke-opacity="0.38" stroke-width="0.72" stroke-linecap="round"/><line x1="59.8" y1="44.4" x2="60.5" y2="43.1" stroke="currentColor" stroke-opacity="0.34" stroke-width="0.66" stroke-linecap="round"/><line x1="60.5" y1="43.1" x2="62.0" y2="42.0" stroke="currentColor" stroke-opacity="0.30" stroke-width="0.60" stroke-linecap="round"/><line x1="53.0" y1="61.7" x2="54.3" y2="64.2" stroke="currentColor" stroke-opacity="0.50" stroke-width="1.00" stroke-linecap="round"/><line x1="54.3" y1="64.2" x2="53.6" y2="66.2" stroke="currentColor" stroke-opacity="0.47" stroke-width="0.94" stroke-linecap="round"/><line x1="53.6" y1="66.2" x2="55.2" y2="67.6" stroke="currentColor" stroke-opacity="0.44" stroke-width="0.89" stroke-linecap="round"/><line x1="55.2" y1="67.6" x2="56.0" y2="68.6" stroke="currentColor" stroke-opacity="0.41" stroke-width="0.83" stroke-linecap="round"/><line x1="56.0" y1="68.6" x2="56.8" y2="71.2" stroke="currentColor" stroke-opacity="0.39" stroke-width="0.77" stroke-linecap="round"/><line x1="56.8" y1="71.2" x2="56.6" y2="72.6" stroke="currentColor" stroke-opacity="0.36" stroke-width="0.71" stroke-linecap="round"/><line x1="56.6" y1="72.6" x2="57.6" y2="74.0" stroke="currentColor" stroke-opacity="0.33" stroke-width="0.66" stroke-linecap="round"/><line x1="57.6" y1="74.0" x2="58.0" y2="76.0" stroke="currentColor" stroke-opacity="0.30" stroke-width="0.60" stroke-linecap="round"/><line x1="65.2" y1="33.4" x2="66.2" y2="35.1" stroke="currentColor" stroke-opacity="0.40" stroke-width="0.80" stroke-linecap="round"/><line x1="66.2" y1="35.1" x2="68.6" y2="35.3" stroke="currentColor" stroke-opacity="0.38" stroke-width="0.77" stroke-linecap="round"/><line x1="68.6" y1="35.3" x2="69.4" y2="37.5" stroke="currentColor" stroke-opacity="0.36" stroke-width="0.73" stroke-linecap="round"/><line x1="69.4" y1="37.5" x2="69.3" y2="40.2" stroke="currentColor" stroke-opacity="0.33" stroke-width="0.70" stroke-linecap="round"/><line x1="69.3" y1="40.2" x2="69.8" y2="41.2" stroke="currentColor" stroke-opacity="0.31" stroke-width="0.67" stroke-linecap="round"/><line x1="69.8" y1="41.2" x2="71.0" y2="43.0" stroke="currentColor" stroke-opacity="0.29" stroke-width="0.63" stroke-linecap="round"/><line x1="71.0" y1="43.0" x2="70.3" y2="45.7" stroke="currentColor" stroke-opacity="0.27" stroke-width="0.60" stroke-linecap="round"/><line x1="70.3" y1="45.7" x2="70.9" y2="47.5" stroke="currentColor" stroke-opacity="0.24" stroke-width="0.57" stroke-linecap="round"/><line x1="70.9" y1="47.5" x2="72.0" y2="48.0" stroke="currentColor" stroke-opacity="0.22" stroke-width="0.53" stroke-linecap="round"/><line x1="72.0" y1="48.0" x2="72.0" y2="50.0" stroke="currentColor" stroke-opacity="0.20" stroke-width="0.50" stroke-linecap="round"/><line x1="32.1" y1="28.8" x2="31.0" y2="29.6" stroke="currentColor" stroke-opacity="0.50" stroke-width="1.00" stroke-linecap="round"/><line x1="31.0" y1="29.6" x2="30.5" y2="31.0" stroke="currentColor" stroke-opacity="0.48" stroke-width="0.96" stroke-linecap="round"/><line x1="30.5" y1="31.0" x2="29.6" y2="32.0" stroke="currentColor" stroke-opacity="0.45" stroke-width="0.93" stroke-linecap="round"/><line x1="29.6" y1="32.0" x2="28.0" y2="33.5" stroke="currentColor" stroke-opacity="0.43" stroke-width="0.89" stroke-linecap="round"/><line x1="28.0" y1="33.5" x2="26.3" y2="34.0" stroke="currentColor" stroke-opacity="0.41" stroke-width="0.85" stroke-linecap="round"/><line x1="26.3" y1="34.0" x2="26.3" y2="35.7" stroke="currentColor" stroke-opacity="0.39" stroke-width="0.82" stroke-linecap="round"/><line x1="26.3" y1="35.7" x2="25.1" y2="37.5" stroke="currentColor" stroke-opacity="0.36" stroke-width="0.78" stroke-linecap="round"/><line x1="25.1" y1="37.5" x2="24.1" y2="38.9" stroke="currentColor" stroke-opacity="0.34" stroke-width="0.75" stroke-linecap="round"/><line x1="24.1" y1="38.9" x2="23.7" y2="40.4" stroke="currentColor" stroke-opacity="0.32" stroke-width="0.71" stroke-linecap="round"/><line x1="23.7" y1="40.4" x2="22.9" y2="42.1" stroke="currentColor" stroke-opacity="0.30" stroke-width="0.67" stroke-linecap="round"/><line x1="22.9" y1="42.1" x2="21.3" y2="43.6" stroke="currentColor" stroke-opacity="0.27" stroke-width="0.64" stroke-linecap="round"/><line x1="21.3" y1="43.6" x2="21.0" y2="46.0" stroke="currentColor" stroke-opacity="0.25" stroke-width="0.60" stroke-linecap="round"/><line x1="44.4" y1="25.3" x2="46.3" y2="25.2" stroke="currentColor" stroke-opacity="0.45" stroke-width="0.90" stroke-linecap="round"/><line x1="46.3" y1="25.2" x2="46.9" y2="23.0" stroke="currentColor" stroke-opacity="0.44" stroke-width="0.87" stroke-linecap="round"/><line x1="46.9" y1="23.0" x2="48.7" y2="22.7" stroke="currentColor" stroke-opacity="0.42" stroke-width="0.84" stroke-linecap="round"/><line x1="48.7" y1="22.7" x2="50.9" y2="21.0" stroke="currentColor" stroke-opacity="0.41" stroke-width="0.81" stroke-linecap="round"/><line x1="50.9" y1="21.0" x2="50.9" y2="19.3" stroke="currentColor" stroke-opacity="0.39" stroke-width="0.79" stroke-linecap="round"/><line x1="50.9" y1="19.3" x2="51.9" y2="18.5" stroke="currentColor" stroke-opacity="0.38" stroke-width="0.76" stroke-linecap="round"/><line x1="51.9" y1="18.5" x2="53.2" y2="17.1" stroke="currentColor" stroke-opacity="0.36" stroke-width="0.73" stroke-linecap="round"/><line x1="53.2" y1="17.1" x2="55.1" y2="16.6" stroke="currentColor" stroke-opacity="0.35" stroke-width="0.70" stroke-linecap="round"/><line x1="55.1" y1="16.6" x2="57.1" y2="15.8" stroke="currentColor" stroke-opacity="0.34" stroke-width="0.67" stroke-linecap="round"/><line x1="57.1" y1="15.8" x2="57.9" y2="13.8" stroke="currentColor" stroke-opacity="0.32" stroke-width="0.64" stroke-linecap="round"/><line x1="57.9" y1="13.8" x2="59.4" y2="13.2" stroke="currentColor" stroke-opacity="0.31" stroke-width="0.61" stroke-linecap="round"/><line x1="59.4" y1="13.2" x2="60.7" y2="12.1" stroke="currentColor" stroke-opacity="0.29" stroke-width="0.59" stroke-linecap="round"/><line x1="60.7" y1="12.1" x2="60.9" y2="10.6" stroke="currentColor" stroke-opacity="0.28" stroke-width="0.56" stroke-linecap="round"/><line x1="60.9" y1="10.6" x2="61.4" y2="8.5" stroke="currentColor" stroke-opacity="0.26" stroke-width="0.53" stroke-linecap="round"/><line x1="61.4" y1="8.5" x2="63.0" y2="8.0" stroke="currentColor" stroke-opacity="0.25" stroke-width="0.50" stroke-linecap="round"/><line x1="3.8" y1="25.0" x2="3.7" y2="26.4" stroke="currentColor" stroke-opacity="0.22" stroke-width="0.70" stroke-linecap="round"/><line x1="3.7" y1="26.4" x2="2.5" y2="28.5" stroke="currentColor" stroke-opacity="0.22" stroke-width="0.70" stroke-linecap="round"/><line x1="2.5" y1="28.5" x2="2.6" y2="29.2" stroke="currentColor" stroke-opacity="0.22" stroke-width="0.69" stroke-linecap="round"/><line x1="2.6" y1="29.2" x2="3.6" y2="31.1" stroke="currentColor" stroke-opacity="0.22" stroke-width="0.69" stroke-linecap="round"/><line x1="3.6" y1="31.1" x2="4.5" y2="32.4" stroke="currentColor" stroke-opacity="0.21" stroke-width="0.69" stroke-linecap="round"/><line x1="4.5" y1="32.4" x2="4.2" y2="34.9" stroke="currentColor" stroke-opacity="0.21" stroke-width="0.68" stroke-linecap="round"/><line x1="4.2" y1="34.9" x2="4.4" y2="35.9" stroke="currentColor" stroke-opacity="0.21" stroke-width="0.68" stroke-linecap="round"/><line x1="4.4" y1="35.9" x2="4.0" y2="37.9" stroke="currentColor" stroke-opacity="0.21" stroke-width="0.67" stroke-linecap="round"/><line x1="4.0" y1="37.9" x2="4.0" y2="40.4" stroke="currentColor" stroke-opacity="0.21" stroke-width="0.67" stroke-linecap="round"/><line x1="4.0" y1="40.4" x2="5.2" y2="41.1" stroke="currentColor" stroke-opacity="0.21" stroke-width="0.67" stroke-linecap="round"/><line x1="5.2" y1="41.1" x2="4.6" y2="43.3" stroke="currentColor" stroke-opacity="0.21" stroke-width="0.66" stroke-linecap="round"/><line x1="4.6" y1="43.3" x2="5.0" y2="45.7" stroke="currentColor" stroke-opacity="0.20" stroke-width="0.66" stroke-linecap="round"/><line x1="5.0" y1="45.7" x2="4.2" y2="46.1" stroke="currentColor" stroke-opacity="0.20" stroke-width="0.66" stroke-linecap="round"/><line x1="4.2" y1="46.1" x2="5.1" y2="47.7" stroke="currentColor" stroke-opacity="0.20" stroke-width="0.65" stroke-linecap="round"/><line x1="5.1" y1="47.7" x2="4.4" y2="49.2" stroke="currentColor" stroke-opacity="0.20" stroke-width="0.65" stroke-linecap="round"/><line x1="4.4" y1="49.2" x2="4.2" y2="51.6" stroke="currentColor" stroke-opacity="0.20" stroke-width="0.65" stroke-linecap="round"/><line x1="4.2" y1="51.6" x2="5.5" y2="53.1" stroke="currentColor" stroke-opacity="0.20" stroke-width="0.64" stroke-linecap="round"/><line x1="5.5" y1="53.1" x2="4.9" y2="55.5" stroke="currentColor" stroke-opacity="0.20" stroke-width="0.64" stroke-linecap="round"/><line x1="4.9" y1="55.5" x2="5.9" y2="56.8" stroke="currentColor" stroke-opacity="0.19" stroke-width="0.64" stroke-linecap="round"/><line x1="5.9" y1="56.8" x2="6.1" y2="59.3" stroke="currentColor" stroke-opacity="0.19" stroke-width="0.63" stroke-linecap="round"/><line x1="6.1" y1="59.3" x2="6.4" y2="60.5" stroke="currentColor" stroke-opacity="0.19" stroke-width="0.63" stroke-linecap="round"/><line x1="6.4" y1="60.5" x2="6.3" y2="62.8" stroke="currentColor" stroke-opacity="0.19" stroke-width="0.62" stroke-linecap="round"/><line x1="6.3" y1="62.8" x2="6.0" y2="63.8" stroke="currentColor" stroke-opacity="0.19" stroke-width="0.62" stroke-linecap="round"/><line x1="6.0" y1="63.8" x2="6.6" y2="66.2" stroke="currentColor" stroke-opacity="0.19" stroke-width="0.62" stroke-linecap="round"/><line x1="6.6" y1="66.2" x2="7.0" y2="66.4" stroke="currentColor" stroke-opacity="0.19" stroke-width="0.61" stroke-linecap="round"/><line x1="7.0" y1="66.4" x2="6.0" y2="68.5" stroke="currentColor" stroke-opacity="0.18" stroke-width="0.61" stroke-linecap="round"/><line x1="6.0" y1="68.5" x2="7.2" y2="70.7" stroke="currentColor" stroke-opacity="0.18" stroke-width="0.61" stroke-linecap="round"/><line x1="7.2" y1="70.7" x2="6.5" y2="71.6" stroke="currentColor" stroke-opacity="0.18" stroke-width="0.60" stroke-linecap="round"/><line x1="6.5" y1="71.6" x2="7.0" y2="74.0" stroke="currentColor" stroke-opacity="0.18" stroke-width="0.60" stroke-linecap="round"/><line x1="67.3" y1="14.4" x2="67.9" y2="15.8" stroke="currentColor" stroke-opacity="0.20" stroke-width="0.70" stroke-linecap="round"/><line x1="67.9" y1="15.8" x2="67.2" y2="16.7" stroke="currentColor" stroke-opacity="0.20" stroke-width="0.70" stroke-linecap="round"/><line x1="67.2" y1="16.7" x2="66.5" y2="19.1" stroke="currentColor" stroke-opacity="0.20" stroke-width="0.69" stroke-linecap="round"/><line x1="66.5" y1="19.1" x2="67.2" y2="20.6" stroke="currentColor" stroke-opacity="0.20" stroke-width="0.69" stroke-linecap="round"/><line x1="67.2" y1="20.6" x2="66.9" y2="23.6" stroke="currentColor" stroke-opacity="0.19" stroke-width="0.69" stroke-linecap="round"/><line x1="66.9" y1="23.6" x2="68.4" y2="24.6" stroke="currentColor" stroke-opacity="0.19" stroke-width="0.69" stroke-linecap="round"/><line x1="68.4" y1="24.6" x2="68.7" y2="27.1" stroke="currentColor" stroke-opacity="0.19" stroke-width="0.68" stroke-linecap="round"/><line x1="68.7" y1="27.1" x2="68.3" y2="27.6" stroke="currentColor" stroke-opacity="0.19" stroke-width="0.68" stroke-linecap="round"/><line x1="68.3" y1="27.6" x2="67.3" y2="30.2" stroke="currentColor" stroke-opacity="0.19" stroke-width="0.68" stroke-linecap="round"/><line x1="67.3" y1="30.2" x2="68.2" y2="31.8" stroke="currentColor" stroke-opacity="0.19" stroke-width="0.67" stroke-linecap="round"/><line x1="68.2" y1="31.8" x2="69.1" y2="32.7" stroke="currentColor" stroke-opacity="0.19" stroke-width="0.67" stroke-linecap="round"/><line x1="69.1" y1="32.7" x2="68.7" y2="35.2" stroke="currentColor" stroke-opacity="0.18" stroke-width="0.67" stroke-linecap="round"/><line x1="68.7" y1="35.2" x2="68.6" y2="36.0" stroke="currentColor" stroke-opacity="0.18" stroke-width="0.67" stroke-linecap="round"/><line x1="68.6" y1="36.0" x2="68.5" y2="38.2" stroke="currentColor" stroke-opacity="0.18" stroke-width="0.66" stroke-linecap="round"/><line x1="68.5" y1="38.2" x2="69.2" y2="40.9" stroke="currentColor" stroke-opacity="0.18" stroke-width="0.66" stroke-linecap="round"/><line x1="69.2" y1="40.9" x2="68.7" y2="42.3" stroke="currentColor" stroke-opacity="0.18" stroke-width="0.66" stroke-linecap="round"/><line x1="68.7" y1="42.3" x2="68.7" y2="44.4" stroke="currentColor" stroke-opacity="0.18" stroke-width="0.65" stroke-linecap="round"/><line x1="68.7" y1="44.4" x2="69.8" y2="45.3" stroke="currentColor" stroke-opacity="0.18" stroke-width="0.65" stroke-linecap="round"/><line x1="69.8" y1="45.3" x2="69.2" y2="46.5" stroke="currentColor" stroke-opacity="0.17" stroke-width="0.65" stroke-linecap="round"/><line x1="69.2" y1="46.5" x2="69.1" y2="49.2" stroke="currentColor" stroke-opacity="0.17" stroke-width="0.65" stroke-linecap="round"/><line x1="69.1" y1="49.2" x2="69.3" y2="50.0" stroke="currentColor" stroke-opacity="0.17" stroke-width="0.64" stroke-linecap="round"/><line x1="69.3" y1="50.0" x2="70.5" y2="51.9" stroke="currentColor" stroke-opacity="0.17" stroke-width="0.64" stroke-linecap="round"/><line x1="70.5" y1="51.9" x2="69.8" y2="53.0" stroke="currentColor" stroke-opacity="0.17" stroke-width="0.64" stroke-linecap="round"/><line x1="69.8" y1="53.0" x2="69.2" y2="54.6" stroke="currentColor" stroke-opacity="0.17" stroke-width="0.63" stroke-linecap="round"/><line x1="69.2" y1="54.6" x2="70.4" y2="56.6" stroke="currentColor" stroke-opacity="0.17" stroke-width="0.63" stroke-linecap="round"/><line x1="70.4" y1="56.6" x2="70.5" y2="57.5" stroke="currentColor" stroke-opacity="0.16" stroke-width="0.63" stroke-linecap="round"/><line x1="70.5" y1="57.5" x2="70.2" y2="60.4" stroke="currentColor" stroke-opacity="0.16" stroke-width="0.63" stroke-linecap="round"/><line x1="70.2" y1="60.4" x2="70.1" y2="61.6" stroke="currentColor" stroke-opacity="0.16" stroke-width="0.62" stroke-linecap="round"/><line x1="70.1" y1="61.6" x2="69.6" y2="63.7" stroke="currentColor" stroke-opacity="0.16" stroke-width="0.62" stroke-linecap="round"/><line x1="69.6" y1="63.7" x2="70.6" y2="63.9" stroke="currentColor" stroke-opacity="0.16" stroke-width="0.62" stroke-linecap="round"/><line x1="70.6" y1="63.9" x2="69.9" y2="66.1" stroke="currentColor" stroke-opacity="0.16" stroke-width="0.61" stroke-linecap="round"/><line x1="69.9" y1="66.1" x2="70.7" y2="66.9" stroke="currentColor" stroke-opacity="0.16" stroke-width="0.61" stroke-linecap="round"/><line x1="70.7" y1="66.9" x2="71.6" y2="69.9" stroke="currentColor" stroke-opacity="0.15" stroke-width="0.61" stroke-linecap="round"/><line x1="71.6" y1="69.9" x2="70.7" y2="70.1" stroke="currentColor" stroke-opacity="0.15" stroke-width="0.61" stroke-linecap="round"/><line x1="70.7" y1="70.1" x2="71.5" y2="72.4" stroke="currentColor" stroke-opacity="0.15" stroke-width="0.60" stroke-linecap="round"/><line x1="71.5" y1="72.4" x2="71.0" y2="74.0" stroke="currentColor" stroke-opacity="0.15" stroke-width="0.60" stroke-linecap="round"/><line x1="25.2" y1="62.4" x2="23.1" y2="64.2" stroke="currentColor" stroke-opacity="0.50" stroke-width="1.00" stroke-linecap="round"/><line x1="23.1" y1="64.2" x2="23.1" y2="64.3" stroke="currentColor" stroke-opacity="0.47" stroke-width="0.95" stroke-linecap="round"/><line x1="23.1" y1="64.3" x2="21.1" y2="65.8" stroke="currentColor" stroke-opacity="0.44" stroke-width="0.90" stroke-linecap="round"/><line x1="21.1" y1="65.8" x2="20.4" y2="67.3" stroke="currentColor" stroke-opacity="0.41" stroke-width="0.85" stroke-linecap="round"/><line x1="20.4" y1="67.3" x2="19.0" y2="69.3" stroke="currentColor" stroke-opacity="0.38" stroke-width="0.80" stroke-linecap="round"/><line x1="19.0" y1="69.3" x2="16.6" y2="70.5" stroke="currentColor" stroke-opacity="0.34" stroke-width="0.75" stroke-linecap="round"/><line x1="16.6" y1="70.5" x2="15.5" y2="72.1" stroke="currentColor" stroke-opacity="0.31" stroke-width="0.70" stroke-linecap="round"/><line x1="15.5" y1="72.1" x2="14.3" y2="73.2" stroke="currentColor" stroke-opacity="0.28" stroke-width="0.65" stroke-linecap="round"/><line x1="14.3" y1="73.2" x2="13.0" y2="74.0" stroke="currentColor" stroke-opacity="0.25" stroke-width="0.60" stroke-linecap="round"/><line x1="37.8" y1="34.6" x2="40.0" y2="37.3" stroke="currentColor" stroke-opacity="0.80" stroke-width="1.32" stroke-linecap="round"/><line x1="40.6" y1="34.1" x2="41.2" y2="36.7" stroke="currentColor" stroke-opacity="0.73" stroke-width="0.95" stroke-linecap="round"/><line x1="43.4" y1="35.5" x2="41.1" y2="39.9" stroke="currentColor" stroke-opacity="0.77" stroke-width="0.95" stroke-linecap="round"/><line x1="42.0" y1="34.7" x2="37.4" y2="38.0" stroke="currentColor" stroke-opacity="0.57" stroke-width="1.04" stroke-linecap="round"/><line x1="41.8" y1="35.1" x2="44.6" y2="36.0" stroke="currentColor" stroke-opacity="0.77" stroke-width="1.39" stroke-linecap="round"/><line x1="42.3" y1="24.5" x2="41.5" y2="31.3" stroke="currentColor" stroke-opacity="0.75" stroke-width="1.06" stroke-linecap="round"/><line x1="44.6" y1="28.6" x2="40.0" y2="30.8" stroke="currentColor" stroke-opacity="0.52" stroke-width="1.29" stroke-linecap="round"/><line x1="38.3" y1="41.5" x2="41.7" y2="42.4" stroke="currentColor" stroke-opacity="0.63" stroke-width="0.87" stroke-linecap="round"/><line x1="36.2" y1="31.1" x2="37.5" y2="34.3" stroke="currentColor" stroke-opacity="0.92" stroke-width="0.99" stroke-linecap="round"/><line x1="33.6" y1="28.9" x2="38.5" y2="31.9" stroke="currentColor" stroke-opacity="0.67" stroke-width="0.91" stroke-linecap="round"/><line x1="46.0" y1="33.7" x2="45.0" y2="39.2" stroke="currentColor" stroke-opacity="0.85" stroke-width="1.39" stroke-linecap="round"/><line x1="38.6" y1="37.0" x2="40.7" y2="40.1" stroke="currentColor" stroke-opacity="0.92" stroke-width="0.95" stroke-linecap="round"/><line x1="43.1" y1="31.5" x2="41.1" y2="35.2" stroke="currentColor" stroke-opacity="0.71" stroke-width="1.44" stroke-linecap="round"/><line x1="39.6" y1="39.7" x2="38.9" y2="43.3" stroke="currentColor" stroke-opacity="0.90" stroke-width="1.21" stroke-linecap="round"/><line x1="39.5" y1="39.5" x2="34.7" y2="39.5" stroke="currentColor" stroke-opacity="0.52" stroke-width="0.86" stroke-linecap="round"/><line x1="45.8" y1="41.0" x2="42.3" y2="43.7" stroke="currentColor" stroke-opacity="0.67" stroke-width="0.84" stroke-linecap="round"/><line x1="47.8" y1="36.5" x2="41.5" y2="37.1" stroke="currentColor" stroke-opacity="0.82" stroke-width="0.81" stroke-linecap="round"/><line x1="35.5" y1="28.2" x2="39.1" y2="32.2" stroke="currentColor" stroke-opacity="0.70" stroke-width="0.88" stroke-linecap="round"/><line x1="31.2" y1="40.6" x2="27.8" y2="42.0" stroke="currentColor" stroke-opacity="0.58" stroke-width="1.15" stroke-linecap="round"/><line x1="45.2" y1="28.5" x2="48.3" y2="32.8" stroke="currentColor" stroke-opacity="0.57" stroke-width="1.23" stroke-linecap="round"/><line x1="41.8" y1="28.0" x2="38.0" y2="31.1" stroke="currentColor" stroke-opacity="0.65" stroke-width="0.80" stroke-linecap="round"/><line x1="52.0" y1="37.5" x2="46.2" y2="39.8" stroke="currentColor" stroke-opacity="0.53" stroke-width="1.02" stroke-linecap="round"/><line x1="44.6" y1="26.3" x2="49.1" y2="27.5" stroke="currentColor" stroke-opacity="0.84" stroke-width="0.85" stroke-linecap="round"/><line x1="39.5" y1="31.4" x2="39.9" y2="36.3" stroke="currentColor" stroke-opacity="0.89" stroke-width="0.99" stroke-linecap="round"/><line x1="37.3" y1="36.1" x2="36.6" y2="41.8" stroke="currentColor" stroke-opacity="0.64" stroke-width="0.94" stroke-linecap="round"/><line x1="45.1" y1="34.4" x2="46.0" y2="39.1" stroke="currentColor" stroke-opacity="0.60" stroke-width="0.88" stroke-linecap="round"/><line x1="35.2" y1="42.6" x2="37.9" y2="45.0" stroke="currentColor" stroke-opacity="0.78" stroke-width="0.85" stroke-linecap="round"/><line x1="42.0" y1="49.3" x2="39.4" y2="50.5" stroke="currentColor" stroke-opacity="0.80" stroke-width="0.97" stroke-linecap="round"/><line x1="42.5" y1="39.6" x2="37.5" y2="40.6" stroke="currentColor" stroke-opacity="0.85" stroke-width="1.13" stroke-linecap="round"/><line x1="38.3" y1="32.7" x2="42.6" y2="34.0" stroke="currentColor" stroke-opacity="0.71" stroke-width="1.10" stroke-linecap="round"/><line x1="40.1" y1="28.0" x2="37.2" y2="28.2" stroke="currentColor" stroke-opacity="0.65" stroke-width="1.08" stroke-linecap="round"/><line x1="39.7" y1="32.3" x2="43.4" y2="34.8" stroke="currentColor" stroke-opacity="0.63" stroke-width="1.10" stroke-linecap="round"/><line x1="38.9" y1="47.5" x2="40.1" y2="53.7" stroke="currentColor" stroke-opacity="0.52" stroke-width="1.19" stroke-linecap="round"/><line x1="50.8" y1="36.6" x2="44.2" y2="37.3" stroke="currentColor" stroke-opacity="0.57" stroke-width="1.39" stroke-linecap="round"/><line x1="36.2" y1="36.1" x2="37.0" y2="38.7" stroke="currentColor" stroke-opacity="0.94" stroke-width="1.07" stroke-linecap="round"/><line x1="38.5" y1="45.3" x2="39.1" y2="49.6" stroke="currentColor" stroke-opacity="0.95" stroke-width="1.47" stroke-linecap="round"/><line x1="31.5" y1="32.8" x2="34.9" y2="34.6" stroke="currentColor" stroke-opacity="0.76" stroke-width="1.48" stroke-linecap="round"/><line x1="30.2" y1="33.9" x2="35.3" y2="34.8" stroke="currentColor" stroke-opacity="0.88" stroke-width="1.15" stroke-linecap="round"/><circle cx="7" cy="14.5" r="1.6" fill="currentColor" fill-opacity="1.0"/><circle cx="24" cy="15" r="1.5" fill="currentColor" fill-opacity="0.9"/><circle cx="65.3" cy="33" r="1.5" fill="currentColor" fill-opacity="0.9"/><circle cx="49.3" cy="52.3" r="1.8" fill="currentColor" fill-opacity="0.9"/><circle cx="24.8" cy="62.4" r="1.7" fill="currentColor" fill-opacity="0.9"/><circle cx="39" cy="71" r="1.4" fill="currentColor" fill-opacity="0.8"/><circle cx="58" cy="8" r="0.8" fill="currentColor" fill-opacity="0.4"/><circle cx="60.5" cy="5.5" r="1.1" fill="currentColor" fill-opacity="0.35"/></g>
<g id="greenN"><path d="M25.7,15.8 L26.6,18.1 L27.0,18.6 L27.5,20.3 L28.1,22.1 L28.7,23.3 L29.1,25.2 L30.3,26.2 L31.3,27.5 L31.8,29.7 L32.4,30.9 L32.7,32.9 L33.6,34.0 L32.8,35.6 L33.9,37.6 L34.6,38.7 L34.6,40.3 L35.3,41.9 L35.4,43.2 L35.4,45.8 L35.4,47.0 L36.0,48.8 L36.4,50.4 L36.1,51.4 L36.7,53.5 L37.0,54.2 L36.3,56.6 L37.5,58.6 L37.5,59.5 L36.9,61.4 L38.0,62.7 L38.0,64.9 L37.5,66.4 L37.8,67.5 L37.6,69.4 L38.1,71.4 L37.6,72.2 L38.4,74.5 L38.0,76.0" fill="none" stroke="currentColor" stroke-opacity="0.6" stroke-width="0.9" stroke-linecap="round" stroke-linejoin="round"/><path d="M34.7,15.5 L35.1,16.5 L35.7,17.7 L35.9,19.9 L37.5,21.2 L36.8,22.4 L37.3,24.1 L37.9,25.4 L37.7,27.4 L37.6,28.4 L38.0,29.7 L38.1,31.6 L38.6,32.8 L38.8,34.9 L38.2,36.6 L39.0,38.5 L38.5,40.1 L39.2,42.0 L39.2,43.4 L39.9,44.3 L40.2,46.1 L40.5,47.8 L40.7,49.4 L40.9,51.0 L41.0,52.0" fill="none" stroke="currentColor" stroke-opacity="0.7" stroke-width="1.0" stroke-linecap="round" stroke-linejoin="round"/><path d="M25.2,14.8 L23.7,16.3 L22.8,17.0 L21.0,19.0 L19.6,19.6 L19.0,21.8 L18.0,22.9 L17.4,23.3 L16.4,24.8 L15.4,26.3 L13.8,27.0 L13.6,28.6 L12.6,30.9 L11.3,32.6 L10.8,33.9 L9.3,35.3 L8.2,36.5 L7.9,38.2 L7.8,39.7 L7.6,41.7 L6.3,42.5 L5.8,44.9 L6.0,46.0" fill="none" stroke="currentColor" stroke-opacity="0.35" stroke-width="0.6" stroke-linecap="round" stroke-linejoin="round"/><path d="M42.1,27.5 L42.9,27.7 L44.9,30.0 L45.5,30.6 L46.6,32.5 L47.8,33.5 L48.5,35.5 L49.6,36.4 L51.2,38.3 L52.3,39.3 L52.9,40.4 L53.3,41.7 L54.2,43.5 L55.5,44.4 L55.4,46.3 L56.7,48.2 L56.3,49.4 L57.5,51.2 L57.8,51.9 L58.0,53.1 L59.2,55.1 L59.4,57.0 L59.7,57.8 L60.3,59.7 L59.7,61.7 L59.8,63.7 L60.1,64.7 L61.1,66.5 L60.4,68.8 L61.0,70.0" fill="none" stroke="currentColor" stroke-opacity="0.45" stroke-width="0.7" stroke-linecap="round" stroke-linejoin="round"/><path d="M24.4,15.4 L25.6,12.9 L26.7,11.3 L28.2,9.4 L28.4,9.0 L29.7,7.1 L30.6,5.5 L32.3,4.4 L33.3,2.6 L34.0,1.0" fill="none" stroke="currentColor" stroke-opacity="0.35" stroke-width="0.6" stroke-linecap="round" stroke-linejoin="round"/><path d="M35.3,14.0 L36.3,13.5 L39.0,12.5 L40.6,12.9 L42.0,11.9 L44.1,11.0 L45.0,10.9 L46.7,10.5 L48.5,9.5 L49.1,9.5 L50.7,8.5 L53.0,8.3 L54.2,8.2 L56.0,7.0" fill="none" stroke="currentColor" stroke-opacity="0.35" stroke-width="0.6" stroke-linecap="round" stroke-linejoin="round"/><path d="M37.0,31.9 L36.1,32.9 L35.2,35.1 L34.2,36.3 L33.3,37.0 L31.9,38.3 L30.8,39.9 L30.1,40.8 L29.2,42.9 L28.3,43.6 L28.2,44.8 L27.2,46.2 L25.5,48.3 L25.9,49.6 L25.1,51.1 L24.3,52.0 L23.8,54.2 L23.8,55.9 L23.3,57.6 L22.5,58.2 L21.9,59.5 L21.4,60.9 L20.1,63.0 L19.8,64.3 L19.5,66.0 L19.2,67.8 L18.6,68.9 L17.8,69.8 L17.0,72.0" fill="none" stroke="currentColor" stroke-opacity="0.4" stroke-width="0.6" stroke-linecap="round" stroke-linejoin="round"/><path d="M9.5,4.4 L9.1,5.3 L9.9,7.1 L9.8,8.4 L10.8,10.7 L10.5,11.9 L11.2,13.4 L11.6,15.3 L11.6,17.1 L11.8,19.3 L12.7,20.7 L12.2,21.8 L12.6,24.1 L13.0,25.4 L12.9,27.3 L12.4,28.7 L12.6,30.2 L12.1,32.1 L12.0,34.0" fill="none" stroke="currentColor" stroke-opacity="0.3" stroke-width="0.5" stroke-linecap="round" stroke-linejoin="round"/><path d="M50.2,20.0 L51.0,21.1 L51.5,23.3 L51.8,24.6 L52.9,26.0 L53.7,27.8 L54.2,29.9 L55.2,31.1 L56.6,32.8 L57.6,34.8 L57.5,36.4 L58.3,37.0 L60.1,39.6 L60.5,40.9 L61.5,42.3 L62.0,44.0" fill="none" stroke="currentColor" stroke-opacity="0.3" stroke-width="0.5" stroke-linecap="round" stroke-linejoin="round"/><path d="M44.5,54.4 L45.4,56.8 L46.3,58.2 L47.3,58.7 L47.8,60.3 L48.1,62.0 L48.4,63.3 L48.8,64.8 L49.1,66.5 L49.5,68.0 L51.0,69.3 L51.3,71.4 L51.9,72.2 L52.0,74.0" fill="none" stroke="currentColor" stroke-opacity="0.4" stroke-width="0.6" stroke-linecap="round" stroke-linejoin="round"/><path d="M3.6,54.6 L5.4,56.6 L6.7,57.1 L8.1,58.7 L9.3,60.3 L9.9,61.7 L11.1,62.6 L12.1,64.0 L13.2,64.4 L13.5,65.9 L14.8,67.2 L15.5,69.0 L16.8,70.4 L18.0,72.0" fill="none" stroke="currentColor" stroke-opacity="0.3" stroke-width="0.5" stroke-linecap="round" stroke-linejoin="round"/><path d="M59.5,15.4 L60.0,17.1 L61.4,18.5 L61.5,20.0 L62.1,22.0 L63.0,23.3 L63.4,25.2 L63.3,26.6 L63.6,27.8 L64.0,30.5 L64.8,31.9 L65.5,32.9 L65.7,34.9 L66.3,36.7 L66.3,38.2 L66.7,39.9 L67.1,41.8 L68.0,43.5 L68.0,45.0" fill="none" stroke="currentColor" stroke-opacity="0.25" stroke-width="0.5" stroke-linecap="round" stroke-linejoin="round"/><path d="M61.5,49.5 L62.4,51.3 L62.7,53.4 L63.1,55.2 L62.6,56.5 L62.6,57.8 L63.4,59.8 L62.5,61.3 L62.9,62.6 L62.1,64.7 L62.4,66.2 L62.1,67.8 L61.7,69.0 L61.4,70.4 L61.0,72.0" fill="none" stroke="currentColor" stroke-opacity="0.4" stroke-width="0.6" stroke-linecap="round" stroke-linejoin="round"/><path d="M19.8,39.8 L20.2,41.1 L21.7,42.8 L21.4,43.9 L21.8,46.1 L22.4,47.5 L23.8,49.0 L23.4,49.8 L24.9,51.0 L25.0,52.5 L26.1,54.6 L26.7,55.3 L26.8,57.0 L27.6,58.3 L27.9,59.7 L28.8,61.6 L29.0,63.1 L29.9,65.0 L30.4,66.5 L31.0,68.9 L31.0,70.0" fill="none" stroke="currentColor" stroke-opacity="0.3" stroke-width="0.5" stroke-linecap="round" stroke-linejoin="round"/><polygon points="23.3,15.7 23.5,13.8 25.3,12.7 28.0,13.0 28.4,15.8 26.7,18.0 24.6,16.8" fill="currentColor" fill-opacity="1.0"/><polygon points="34.6,17.1 32.1,16.3 32.1,13.7 33.9,12.8 36.0,11.4 37.7,13.6 36.2,15.6" fill="currentColor" fill-opacity="1.0"/><polygon points="36.6,23.8 38.8,23.9 37.9,25.9 37.2,27.3 35.0,28.0 34.9,25.7 35.0,24.1" fill="currentColor" fill-opacity="1.0"/><polygon points="36.1,32.7 35.5,31.6 35.4,29.6 37.3,29.6 40.1,29.8 39.0,32.4 37.4,32.9" fill="currentColor" fill-opacity="1.0"/><polygon points="43.7,26.0 43.4,28.0 42.0,29.3 40.7,28.0 39.9,27.0 40.0,25.1 42.0,24.8" fill="currentColor" fill-opacity="0.95"/><polygon points="40.5,41.6 38.4,41.7 37.6,40.2 37.5,39.0 38.4,37.8 40.6,37.3 41.2,39.5" fill="currentColor" fill-opacity="0.95"/><polygon points="36.0,41.9 37.2,42.9 37.9,43.9 37.2,45.1 35.9,44.9 34.6,44.4 34.3,42.6" fill="currentColor" fill-opacity="0.9"/><polygon points="32.5,36.3 31.8,34.8 33.4,34.4 34.2,35.4 35.0,36.3 34.1,37.0 33.1,37.0" fill="currentColor" fill-opacity="0.8"/><polygon points="59.6,69.5 59.9,68.6 60.5,68.0 61.5,68.0 61.4,69.0 61.7,70.3 60.5,69.7" fill="currentColor" fill-opacity="0.8"/><polygon points="38.9,49.8 39.2,48.6 40.4,48.9 41.0,49.7 40.9,50.6 40.1,51.3 38.8,51.1" fill="currentColor" fill-opacity="0.6"/><polygon points="30.0,55.6 29.1,55.7 29.2,54.8 29.5,54.0 30.5,54.1 31.1,54.8 30.9,55.7" fill="currentColor" fill-opacity="0.5"/><polygon points="44.7,60.5 44.0,60.2 44.1,59.2 45.0,59.3 46.0,59.3 45.9,60.3 45.4,61.0" fill="currentColor" fill-opacity="0.5"/><polygon points="22.5,17.5 27,10.5 29,17" fill="currentColor"/><polygon points="31.5,16.5 35,10 38,16.5" fill="currentColor"/><circle cx="61.5" cy="5" r="1.6" fill="none" stroke="currentColor" stroke-opacity="0.7" stroke-width="0.9"/></g>
<g id="texN"><line x1="46.7" y1="60.1" x2="55.0" y2="61.7" stroke="currentColor" stroke-opacity="0.29" stroke-width="0.65"/><line x1="21.7" y1="3.2" x2="24.4" y2="5.2" stroke="currentColor" stroke-opacity="0.43" stroke-width="0.65"/><line x1="38.1" y1="73.2" x2="37.5" y2="77.9" stroke="currentColor" stroke-opacity="0.38" stroke-width="0.65"/><line x1="14.1" y1="26.4" x2="7.1" y2="32.2" stroke="currentColor" stroke-opacity="0.25" stroke-width="0.65"/><line x1="9.2" y1="27.2" x2="1.5" y2="30.0" stroke="currentColor" stroke-opacity="0.42" stroke-width="0.65"/><line x1="28.6" y1="72.1" x2="28.7" y2="78.5" stroke="currentColor" stroke-opacity="0.43" stroke-width="0.65"/><line x1="38.4" y1="59.3" x2="36.1" y2="62.0" stroke="currentColor" stroke-opacity="0.33" stroke-width="0.65"/><line x1="60.9" y1="40.4" x2="62.7" y2="43.4" stroke="currentColor" stroke-opacity="0.35" stroke-width="0.65"/><line x1="22.7" y1="44.6" x2="24.5" y2="52.2" stroke="currentColor" stroke-opacity="0.26" stroke-width="0.65"/><line x1="3.1" y1="64.4" x2="7.6" y2="73.3" stroke="currentColor" stroke-opacity="0.23" stroke-width="0.65"/><line x1="72.5" y1="70.1" x2="79.8" y2="71.9" stroke="currentColor" stroke-opacity="0.26" stroke-width="0.65"/><line x1="59.3" y1="50.3" x2="55.3" y2="50.9" stroke="currentColor" stroke-opacity="0.33" stroke-width="0.65"/><line x1="57.8" y1="2.6" x2="66.1" y2="4.3" stroke="currentColor" stroke-opacity="0.26" stroke-width="0.65"/><line x1="28.3" y1="42.0" x2="25.8" y2="49.3" stroke="currentColor" stroke-opacity="0.43" stroke-width="0.65"/><line x1="27.5" y1="56.5" x2="26.0" y2="63.0" stroke="currentColor" stroke-opacity="0.27" stroke-width="0.65"/><line x1="48.1" y1="18.5" x2="55.7" y2="21.3" stroke="currentColor" stroke-opacity="0.30" stroke-width="0.65"/><line x1="28.6" y1="41.6" x2="31.9" y2="45.1" stroke="currentColor" stroke-opacity="0.28" stroke-width="0.65"/><line x1="73.7" y1="21.1" x2="67.5" y2="22.8" stroke="currentColor" stroke-opacity="0.19" stroke-width="0.65"/><line x1="63.1" y1="33.5" x2="57.3" y2="35.4" stroke="currentColor" stroke-opacity="0.18" stroke-width="0.65"/><line x1="50.5" y1="62.6" x2="53.4" y2="67.2" stroke="currentColor" stroke-opacity="0.17" stroke-width="0.65"/><line x1="40.1" y1="66.0" x2="33.0" y2="69.6" stroke="currentColor" stroke-opacity="0.43" stroke-width="0.65"/><line x1="47.2" y1="58.7" x2="47.1" y2="62.6" stroke="currentColor" stroke-opacity="0.21" stroke-width="0.65"/><line x1="10.3" y1="58.5" x2="17.1" y2="59.1" stroke="currentColor" stroke-opacity="0.26" stroke-width="0.65"/><line x1="59.5" y1="40.8" x2="58.2" y2="44.2" stroke="currentColor" stroke-opacity="0.24" stroke-width="0.65"/><line x1="74.0" y1="53.2" x2="73.3" y2="61.6" stroke="currentColor" stroke-opacity="0.40" stroke-width="0.65"/><line x1="5.5" y1="72.0" x2="2.8" y2="77.5" stroke="currentColor" stroke-opacity="0.35" stroke-width="0.65"/><line x1="25.5" y1="65.0" x2="19.7" y2="69.7" stroke="currentColor" stroke-opacity="0.20" stroke-width="0.65"/><line x1="71.5" y1="32.0" x2="68.2" y2="33.0" stroke="currentColor" stroke-opacity="0.19" stroke-width="0.65"/><line x1="11.3" y1="12.2" x2="15.5" y2="18.9" stroke="currentColor" stroke-opacity="0.25" stroke-width="0.65"/><line x1="69.6" y1="66.2" x2="65.4" y2="68.4" stroke="currentColor" stroke-opacity="0.34" stroke-width="0.65"/><line x1="40.8" y1="9.3" x2="44.7" y2="14.7" stroke="currentColor" stroke-opacity="0.30" stroke-width="0.65"/><line x1="12.5" y1="69.7" x2="19.2" y2="73.2" stroke="currentColor" stroke-opacity="0.37" stroke-width="0.65"/><line x1="44.8" y1="62.3" x2="43.0" y2="70.9" stroke="currentColor" stroke-opacity="0.16" stroke-width="0.65"/><line x1="3.4" y1="47.5" x2="1.6" y2="54.8" stroke="currentColor" stroke-opacity="0.38" stroke-width="0.65"/><line x1="30.8" y1="47.3" x2="30.9" y2="54.7" stroke="currentColor" stroke-opacity="0.24" stroke-width="0.65"/><line x1="70.8" y1="35.7" x2="64.4" y2="40.2" stroke="currentColor" stroke-opacity="0.24" stroke-width="0.65"/><line x1="5.4" y1="4.4" x2="6.6" y2="10.7" stroke="currentColor" stroke-opacity="0.21" stroke-width="0.65"/><line x1="44.9" y1="23.1" x2="39.7" y2="29.4" stroke="currentColor" stroke-opacity="0.41" stroke-width="0.65"/><line x1="72.2" y1="9.7" x2="74.9" y2="16.0" stroke="currentColor" stroke-opacity="0.25" stroke-width="0.65"/><line x1="34.5" y1="19.8" x2="37.1" y2="22.4" stroke="currentColor" stroke-opacity="0.24" stroke-width="0.65"/><line x1="28.4" y1="45.5" x2="34.9" y2="51.9" stroke="currentColor" stroke-opacity="0.20" stroke-width="0.65"/><line x1="24.2" y1="42.7" x2="28.9" y2="49.7" stroke="currentColor" stroke-opacity="0.30" stroke-width="0.65"/><line x1="38.1" y1="36.9" x2="39.9" y2="39.5" stroke="currentColor" stroke-opacity="0.43" stroke-width="0.65"/><line x1="37.4" y1="71.5" x2="41.7" y2="75.0" stroke="currentColor" stroke-opacity="0.17" stroke-width="0.65"/><line x1="36.6" y1="65.3" x2="33.7" y2="70.9" stroke="currentColor" stroke-opacity="0.31" stroke-width="0.65"/><line x1="62.7" y1="31.9" x2="55.1" y2="34.8" stroke="currentColor" stroke-opacity="0.38" stroke-width="0.65"/><line x1="27.1" y1="29.6" x2="26.1" y2="33.9" stroke="currentColor" stroke-opacity="0.32" stroke-width="0.65"/><line x1="5.4" y1="37.3" x2="1.8" y2="40.7" stroke="currentColor" stroke-opacity="0.45" stroke-width="0.65"/><line x1="50.3" y1="8.8" x2="44.6" y2="9.2" stroke="currentColor" stroke-opacity="0.39" stroke-width="0.65"/><line x1="25.1" y1="69.5" x2="21.9" y2="72.5" stroke="currentColor" stroke-opacity="0.30" stroke-width="0.65"/><line x1="37.0" y1="3.4" x2="41.9" y2="5.6" stroke="currentColor" stroke-opacity="0.29" stroke-width="0.65"/><line x1="33.8" y1="44.9" x2="33.6" y2="50.2" stroke="currentColor" stroke-opacity="0.33" stroke-width="0.65"/><line x1="12.0" y1="73.3" x2="8.5" y2="77.0" stroke="currentColor" stroke-opacity="0.25" stroke-width="0.65"/><line x1="61.3" y1="39.4" x2="58.2" y2="43.4" stroke="currentColor" stroke-opacity="0.39" stroke-width="0.65"/><line x1="27.3" y1="49.9" x2="20.2" y2="50.3" stroke="currentColor" stroke-opacity="0.39" stroke-width="0.65"/><line x1="53.7" y1="50.9" x2="60.0" y2="51.4" stroke="currentColor" stroke-opacity="0.44" stroke-width="0.65"/><line x1="57.9" y1="57.4" x2="56.0" y2="65.2" stroke="currentColor" stroke-opacity="0.33" stroke-width="0.65"/><line x1="12.6" y1="46.5" x2="9.4" y2="54.8" stroke="currentColor" stroke-opacity="0.19" stroke-width="0.65"/><line x1="50.4" y1="2.3" x2="46.7" y2="2.9" stroke="currentColor" stroke-opacity="0.16" stroke-width="0.65"/><line x1="23.2" y1="11.2" x2="19.9" y2="16.1" stroke="currentColor" stroke-opacity="0.38" stroke-width="0.65"/><line x1="68.1" y1="64.6" x2="65.8" y2="67.1" stroke="currentColor" stroke-opacity="0.19" stroke-width="0.65"/><line x1="15.3" y1="24.1" x2="12.1" y2="29.9" stroke="currentColor" stroke-opacity="0.24" stroke-width="0.65"/><line x1="12.8" y1="67.5" x2="15.4" y2="72.3" stroke="currentColor" stroke-opacity="0.38" stroke-width="0.65"/><line x1="53.3" y1="47.6" x2="49.2" y2="53.6" stroke="currentColor" stroke-opacity="0.21" stroke-width="0.65"/><line x1="18.2" y1="41.3" x2="25.7" y2="47.7" stroke="currentColor" stroke-opacity="0.24" stroke-width="0.65"/><line x1="21.4" y1="15.3" x2="18.3" y2="19.5" stroke="currentColor" stroke-opacity="0.25" stroke-width="0.65"/><line x1="69.1" y1="58.9" x2="71.6" y2="61.8" stroke="currentColor" stroke-opacity="0.35" stroke-width="0.65"/><line x1="28.1" y1="72.5" x2="19.9" y2="77.8" stroke="currentColor" stroke-opacity="0.39" stroke-width="0.65"/><line x1="21.5" y1="21.3" x2="18.1" y2="25.5" stroke="currentColor" stroke-opacity="0.28" stroke-width="0.65"/><line x1="19.0" y1="35.5" x2="24.4" y2="39.5" stroke="currentColor" stroke-opacity="0.43" stroke-width="0.65"/><line x1="51.5" y1="10.2" x2="49.0" y2="16.8" stroke="currentColor" stroke-opacity="0.22" stroke-width="0.65"/><line x1="49.6" y1="39.3" x2="48.2" y2="42.4" stroke="currentColor" stroke-opacity="0.27" stroke-width="0.65"/><line x1="53.1" y1="7.4" x2="50.8" y2="9.4" stroke="currentColor" stroke-opacity="0.32" stroke-width="0.65"/><line x1="68.8" y1="30.1" x2="59.8" y2="32.0" stroke="currentColor" stroke-opacity="0.29" stroke-width="0.65"/><line x1="14.8" y1="71.3" x2="18.8" y2="77.7" stroke="currentColor" stroke-opacity="0.42" stroke-width="0.65"/><line x1="6.6" y1="42.5" x2="5.7" y2="50.5" stroke="currentColor" stroke-opacity="0.43" stroke-width="0.65"/><line x1="67.6" y1="13.0" x2="63.6" y2="14.5" stroke="currentColor" stroke-opacity="0.43" stroke-width="0.65"/><line x1="73.8" y1="29.4" x2="73.9" y2="38.9" stroke="currentColor" stroke-opacity="0.44" stroke-width="0.65"/><line x1="68.5" y1="64.9" x2="75.5" y2="65.1" stroke="currentColor" stroke-opacity="0.18" stroke-width="0.65"/><line x1="72.7" y1="21.1" x2="65.9" y2="21.3" stroke="currentColor" stroke-opacity="0.30" stroke-width="0.65"/><line x1="69.5" y1="63.0" x2="69.9" y2="67.3" stroke="currentColor" stroke-opacity="0.18" stroke-width="0.65"/><line x1="12.0" y1="34.0" x2="15.0" y2="37.1" stroke="currentColor" stroke-opacity="0.37" stroke-width="0.65"/><line x1="58.5" y1="42.0" x2="55.5" y2="44.9" stroke="currentColor" stroke-opacity="0.41" stroke-width="0.65"/><line x1="66.4" y1="61.2" x2="66.2" y2="64.8" stroke="currentColor" stroke-opacity="0.35" stroke-width="0.65"/><line x1="13.7" y1="10.4" x2="16.2" y2="14.4" stroke="currentColor" stroke-opacity="0.23" stroke-width="0.65"/><line x1="17.4" y1="55.8" x2="12.4" y2="56.5" stroke="currentColor" stroke-opacity="0.37" stroke-width="0.65"/><line x1="0.8" y1="48.4" x2="-1.1" y2="51.2" stroke="currentColor" stroke-opacity="0.19" stroke-width="0.65"/><line x1="22.7" y1="30.0" x2="22.6" y2="39.3" stroke="currentColor" stroke-opacity="0.36" stroke-width="0.65"/><line x1="23.0" y1="8.7" x2="18.1" y2="10.0" stroke="currentColor" stroke-opacity="0.33" stroke-width="0.65"/><line x1="16.2" y1="9.9" x2="23.5" y2="13.7" stroke="currentColor" stroke-opacity="0.33" stroke-width="0.65"/><line x1="30.8" y1="40.6" x2="31.4" y2="47.4" stroke="currentColor" stroke-opacity="0.35" stroke-width="0.65"/><line x1="16.2" y1="18.3" x2="9.6" y2="24.7" stroke="currentColor" stroke-opacity="0.17" stroke-width="0.65"/><line x1="33.1" y1="52.1" x2="39.8" y2="53.8" stroke="currentColor" stroke-opacity="0.17" stroke-width="0.65"/><line x1="40.5" y1="37.4" x2="39.6" y2="41.3" stroke="currentColor" stroke-opacity="0.25" stroke-width="0.65"/><line x1="38.5" y1="8.6" x2="44.2" y2="12.9" stroke="currentColor" stroke-opacity="0.18" stroke-width="0.65"/><line x1="37.8" y1="59.8" x2="38.7" y2="66.4" stroke="currentColor" stroke-opacity="0.29" stroke-width="0.65"/><line x1="4.3" y1="34.2" x2="-2.4" y2="38.8" stroke="currentColor" stroke-opacity="0.27" stroke-width="0.65"/><line x1="60.4" y1="55.2" x2="59.6" y2="58.4" stroke="currentColor" stroke-opacity="0.25" stroke-width="0.65"/><line x1="4.7" y1="73.6" x2="1.3" y2="74.3" stroke="currentColor" stroke-opacity="0.43" stroke-width="0.65"/><line x1="2.3" y1="30.3" x2="-3.9" y2="35.8" stroke="currentColor" stroke-opacity="0.44" stroke-width="0.65"/><line x1="47.8" y1="31.1" x2="42.1" y2="31.2" stroke="currentColor" stroke-opacity="0.41" stroke-width="0.65"/><line x1="67.1" y1="27.8" x2="63.0" y2="34.2" stroke="currentColor" stroke-opacity="0.31" stroke-width="0.65"/><line x1="48.4" y1="25.7" x2="54.1" y2="29.3" stroke="currentColor" stroke-opacity="0.31" stroke-width="0.65"/><line x1="53.9" y1="16.5" x2="57.0" y2="16.5" stroke="currentColor" stroke-opacity="0.24" stroke-width="0.65"/><line x1="49.8" y1="40.3" x2="49.0" y2="49.0" stroke="currentColor" stroke-opacity="0.22" stroke-width="0.65"/><line x1="25.6" y1="20.4" x2="17.7" y2="22.0" stroke="currentColor" stroke-opacity="0.18" stroke-width="0.65"/><line x1="59.9" y1="31.0" x2="53.1" y2="37.2" stroke="currentColor" stroke-opacity="0.15" stroke-width="0.65"/><line x1="15.3" y1="7.5" x2="22.4" y2="8.2" stroke="currentColor" stroke-opacity="0.36" stroke-width="0.65"/><line x1="3.6" y1="54.8" x2="5.0" y2="59.2" stroke="currentColor" stroke-opacity="0.22" stroke-width="0.65"/><line x1="63.9" y1="4.2" x2="63.9" y2="9.2" stroke="currentColor" stroke-opacity="0.39" stroke-width="0.65"/><line x1="54.1" y1="23.6" x2="51.8" y2="30.9" stroke="currentColor" stroke-opacity="0.25" stroke-width="0.65"/><line x1="22.3" y1="10.6" x2="20.1" y2="14.6" stroke="currentColor" stroke-opacity="0.24" stroke-width="0.65"/><line x1="4.5" y1="70.2" x2="-4.2" y2="73.7" stroke="currentColor" stroke-opacity="0.34" stroke-width="0.65"/><line x1="31.6" y1="36.7" x2="22.1" y2="37.5" stroke="currentColor" stroke-opacity="0.35" stroke-width="0.65"/><line x1="58.1" y1="23.6" x2="59.2" y2="27.5" stroke="currentColor" stroke-opacity="0.26" stroke-width="0.65"/><line x1="55.8" y1="35.0" x2="51.3" y2="37.4" stroke="currentColor" stroke-opacity="0.36" stroke-width="0.65"/><line x1="59.6" y1="67.7" x2="57.7" y2="77.3" stroke="currentColor" stroke-opacity="0.32" stroke-width="0.65"/><line x1="9.9" y1="18.0" x2="16.0" y2="22.5" stroke="currentColor" stroke-opacity="0.43" stroke-width="0.65"/><line x1="62.7" y1="6.8" x2="59.9" y2="10.1" stroke="currentColor" stroke-opacity="0.23" stroke-width="0.65"/><line x1="49.9" y1="44.6" x2="45.9" y2="46.3" stroke="currentColor" stroke-opacity="0.38" stroke-width="0.65"/><line x1="53.6" y1="41.4" x2="54.2" y2="50.4" stroke="currentColor" stroke-opacity="0.25" stroke-width="0.65"/><line x1="70.8" y1="1.1" x2="61.3" y2="3.0" stroke="currentColor" stroke-opacity="0.19" stroke-width="0.65"/><line x1="74.0" y1="35.4" x2="79.2" y2="40.4" stroke="currentColor" stroke-opacity="0.21" stroke-width="0.65"/><line x1="67.7" y1="40.9" x2="63.4" y2="44.5" stroke="currentColor" stroke-opacity="0.31" stroke-width="0.65"/><line x1="26.6" y1="19.4" x2="26.3" y2="25.8" stroke="currentColor" stroke-opacity="0.18" stroke-width="0.65"/><line x1="72.6" y1="34.7" x2="64.4" y2="39.3" stroke="currentColor" stroke-opacity="0.26" stroke-width="0.65"/><line x1="30.6" y1="41.6" x2="33.7" y2="44.2" stroke="currentColor" stroke-opacity="0.23" stroke-width="0.65"/><line x1="69.2" y1="42.9" x2="70.2" y2="46.8" stroke="currentColor" stroke-opacity="0.25" stroke-width="0.65"/><line x1="28.1" y1="61.7" x2="28.1" y2="69.3" stroke="currentColor" stroke-opacity="0.36" stroke-width="0.65"/><line x1="19.0" y1="60.8" x2="11.6" y2="61.6" stroke="currentColor" stroke-opacity="0.30" stroke-width="0.65"/><line x1="12.4" y1="58.8" x2="19.4" y2="62.9" stroke="currentColor" stroke-opacity="0.30" stroke-width="0.65"/><line x1="67.9" y1="40.1" x2="66.4" y2="43.2" stroke="currentColor" stroke-opacity="0.16" stroke-width="0.65"/><line x1="62.7" y1="69.9" x2="58.4" y2="77.2" stroke="currentColor" stroke-opacity="0.27" stroke-width="0.65"/><line x1="62.3" y1="17.1" x2="60.5" y2="19.6" stroke="currentColor" stroke-opacity="0.30" stroke-width="0.65"/><line x1="27.6" y1="45.7" x2="24.0" y2="52.1" stroke="currentColor" stroke-opacity="0.29" stroke-width="0.65"/><line x1="36.1" y1="0.5" x2="35.6" y2="3.5" stroke="currentColor" stroke-opacity="0.31" stroke-width="0.65"/><line x1="20.3" y1="72.3" x2="29.0" y2="72.8" stroke="currentColor" stroke-opacity="0.35" stroke-width="0.65"/><line x1="59.7" y1="67.3" x2="63.1" y2="68.5" stroke="currentColor" stroke-opacity="0.19" stroke-width="0.65"/><line x1="14.2" y1="39.0" x2="10.1" y2="41.6" stroke="currentColor" stroke-opacity="0.27" stroke-width="0.65"/><line x1="27.6" y1="30.0" x2="25.6" y2="39.8" stroke="currentColor" stroke-opacity="0.22" stroke-width="0.65"/><line x1="50.6" y1="62.7" x2="46.4" y2="70.7" stroke="currentColor" stroke-opacity="0.38" stroke-width="0.65"/><line x1="6.9" y1="28.1" x2="6.4" y2="31.4" stroke="currentColor" stroke-opacity="0.15" stroke-width="0.65"/><line x1="12.7" y1="37.0" x2="14.4" y2="45.3" stroke="currentColor" stroke-opacity="0.32" stroke-width="0.65"/><line x1="63.5" y1="7.1" x2="63.2" y2="10.3" stroke="currentColor" stroke-opacity="0.21" stroke-width="0.65"/><line x1="64.2" y1="65.7" x2="64.5" y2="69.0" stroke="currentColor" stroke-opacity="0.17" stroke-width="0.65"/><line x1="68.5" y1="66.5" x2="67.9" y2="69.7" stroke="currentColor" stroke-opacity="0.43" stroke-width="0.65"/><line x1="23.3" y1="71.1" x2="21.0" y2="79.1" stroke="currentColor" stroke-opacity="0.36" stroke-width="0.65"/><line x1="29.5" y1="5.7" x2="33.6" y2="8.0" stroke="currentColor" stroke-opacity="0.40" stroke-width="0.65"/><line x1="28.8" y1="66.3" x2="33.0" y2="73.5" stroke="currentColor" stroke-opacity="0.19" stroke-width="0.65"/><line x1="73.1" y1="53.6" x2="73.1" y2="63.4" stroke="currentColor" stroke-opacity="0.17" stroke-width="0.65"/><line x1="32.3" y1="62.1" x2="36.4" y2="69.4" stroke="currentColor" stroke-opacity="0.44" stroke-width="0.65"/><line x1="29.4" y1="57.2" x2="34.2" y2="57.7" stroke="currentColor" stroke-opacity="0.45" stroke-width="0.65"/><line x1="36.3" y1="26.3" x2="30.4" y2="27.4" stroke="currentColor" stroke-opacity="0.35" stroke-width="0.65"/><line x1="48.9" y1="6.3" x2="45.8" y2="14.3" stroke="currentColor" stroke-opacity="0.36" stroke-width="0.65"/><line x1="6.1" y1="11.4" x2="1.5" y2="17.3" stroke="currentColor" stroke-opacity="0.37" stroke-width="0.65"/><line x1="23.4" y1="7.9" x2="28.6" y2="8.0" stroke="currentColor" stroke-opacity="0.26" stroke-width="0.65"/><line x1="20.0" y1="9.8" x2="25.1" y2="13.2" stroke="currentColor" stroke-opacity="0.32" stroke-width="0.65"/><line x1="30.2" y1="1.9" x2="31.8" y2="5.2" stroke="currentColor" stroke-opacity="0.33" stroke-width="0.65"/><line x1="24.0" y1="28.5" x2="27.5" y2="33.0" stroke="currentColor" stroke-opacity="0.18" stroke-width="0.65"/><line x1="66.7" y1="67.0" x2="59.7" y2="67.5" stroke="currentColor" stroke-opacity="0.20" stroke-width="0.65"/></g>
<g id="redG"><ellipse cx="39" cy="37" rx="9" ry="13" fill="currentColor" fill-opacity="0.3"/><polygon points="32.5,25 40.7,22 45.5,28.3 47,36.3 44.2,43.3 38.7,46.5 33.2,43 30.5,35.3 31,29" fill="currentColor" fill-opacity="0.45"/></g>
<g id="greenG"><ellipse cx="36" cy="30" rx="8" ry="16" fill="currentColor" fill-opacity="0.35"/></g>
<filter id="blur3" x="-30%" y="-30%" width="160%" height="160%"><feGaussianBlur stdDeviation="2.2"/></filter>
<filter id="turbG" x="0" y="0" width="1" height="1" filterUnits="objectBoundingBox"><feTurbulence type="fractalNoise" baseFrequency="0.8" numOctaves="2" seed="5" result="t"/><feColorMatrix in="t" type="matrix" values="0 0 0 0 0.12  0 0 0 0 0.55  0 0 0 0 0.12  0 0 0 -2.2 1.25"/></filter>
<filter id="turbR" x="0" y="0" width="1" height="1" filterUnits="objectBoundingBox"><feTurbulence type="fractalNoise" baseFrequency="0.7" numOctaves="2" seed="8" result="t"/><feColorMatrix in="t" type="matrix" values="0 0 0 0 0.35  0 0 0 0 0.02  0 0 0 0 0.02  0 0 0 -2.0 1.1"/></filter>
</defs>
<g clip-path="url(#cp1)">
<rect x="151.3" y="26.7" width="74" height="73.6" fill="#1e0202"/>
<rect x="151.3" y="26.7" width="74" height="73.6" fill="#000" filter="url(#turbR)" opacity="0.35"/>
<g filter="url(#blur1)" transform="translate(151.3,26.7)" opacity="1"><use href="#texN" color="#501010"/></g>
<g filter="url(#blur2)" transform="translate(151.3,26.7)" opacity="1"><use href="#redG" color="#c00808"/></g>
<g filter="url(#blur3)" transform="translate(151.3,26.7)" opacity="0.5"><use href="#redN" color="#ff1008"/></g>
<g filter="url(#blur1)" transform="translate(151.3,26.7)" opacity="1"><use href="#redN" color="#ff1208"/></g>
</g>
<g clip-path="url(#cp2)">
<rect x="225.9" y="26.7" width="74" height="73.6" fill="#0b320b"/>
<rect x="225.9" y="26.7" width="74" height="73.6" fill="#000" filter="url(#turbG)" opacity="0.4"/>
<g filter="url(#blur05)" transform="translate(225.9,26.7)" opacity="1"><use href="#texN" color="#38b038"/></g>
<g filter="url(#blur2)" transform="translate(225.9,26.7)" opacity="1"><use href="#greenG" color="#20a020"/></g>
<g filter="url(#blur3)" transform="translate(225.9,26.7)" opacity="0.4"><use href="#greenN" color="#38f038"/></g>
<g filter="url(#blur05)" transform="translate(225.9,26.7)" opacity="1"><use href="#greenN" color="#38f038"/></g>
</g>
<g clip-path="url(#cp3)">
<rect x="300.0" y="26.7" width="74" height="73.6" fill="#1a360a"/>
<rect x="300.0" y="26.7" width="74" height="73.6" fill="#000" filter="url(#turbG)" opacity="0.3"/>
<g style="isolation:isolate">
<g filter="url(#blur05)" transform="translate(300.0,26.7)" opacity="1"><use href="#texN" color="#40a020"/></g>
<g filter="url(#blur2)" transform="translate(300.0,26.7)" opacity="1"><use href="#greenG" color="#30a010"/></g>
<g filter="url(#blur05)" transform="translate(300.0,26.7)" opacity="1"><use href="#greenN" color="#40e020"/></g>
<g filter="url(#blur2)" transform="translate(300.0,26.7)" opacity="0.9" style="mix-blend-mode:screen"><use href="#redG" color="#a03000"/></g>
<g filter="url(#blur3)" transform="translate(300.0,26.7)" opacity="0.3" style="mix-blend-mode:screen"><use href="#redN" color="#ff3000"/></g>
<g filter="url(#blur1)" transform="translate(300.0,26.7)" opacity="0.8" style="mix-blend-mode:screen"><use href="#redN" color="#f03000"/></g>
</g></g>
<rect x="224.8" y="26.7" width="1.1" height="73.6" fill="#fff"/>
<rect x="299.0" y="26.7" width="1.0" height="73.6" fill="#fff"/>
<rect x="195.9" y="97.9" width="19.9" height="1.6" fill="#fff"/>
<rect x="272.9" y="97.9" width="20.2" height="1.6" fill="#fff"/>
<rect x="347.0" y="97.9" width="20.1" height="1.6" fill="#fff"/>
<g clip-path="url(#cpc)">
<rect x="387" y="23.19" width="1" height="73.81" fill="rgb(140,140,140)"/>
<rect x="388" y="22.99" width="1" height="74.01" fill="rgb(150,150,150)"/>
<rect x="389" y="23.60" width="1" height="73.40" fill="rgb(140,140,140)"/>
<rect x="390" y="22.91" width="1" height="74.09" fill="rgb(200,200,200)"/>
<rect x="391" y="23.48" width="1" height="73.52" fill="rgb(100,100,100)"/>
<rect x="392" y="23.28" width="1" height="73.72" fill="rgb(180,180,180)"/>
<rect x="393" y="22.92" width="1" height="74.08" fill="rgb(215,215,215)"/>
<rect x="394" y="23.47" width="1" height="73.53" fill="rgb(200,200,200)"/>
<rect x="395" y="22.91" width="1" height="74.09" fill="rgb(140,140,140)"/>
<rect x="396" y="23.39" width="1" height="73.61" fill="rgb(150,150,150)"/>
<rect x="397" y="22.96" width="1" height="74.04" fill="rgb(190,190,190)"/>
<rect x="398" y="23.00" width="1" height="74.00" fill="rgb(150,150,150)"/>
<rect x="399" y="23.41" width="1" height="73.59" fill="rgb(190,190,190)"/>
<rect x="400" y="23.90" width="1" height="73.10" fill="rgb(170,170,170)"/>
<rect x="401" y="23.06" width="1" height="73.94" fill="rgb(140,140,140)"/>
<rect x="402" y="23.19" width="1" height="73.81" fill="rgb(160,160,160)"/>
<rect x="403" y="23.68" width="1" height="73.32" fill="rgb(150,150,150)"/>
<rect x="404" y="24.07" width="1" height="72.93" fill="rgb(150,150,150)"/>
<rect x="405" y="23.64" width="1" height="73.36" fill="rgb(150,150,150)"/>
<rect x="406" y="23.43" width="1" height="73.57" fill="rgb(140,140,140)"/>
<rect x="407" y="24.13" width="1" height="72.87" fill="rgb(200,200,200)"/>
<rect x="408" y="23.03" width="1" height="73.97" fill="rgb(210,210,210)"/>
<rect x="409" y="24.01" width="1" height="72.99" fill="rgb(205,205,205)"/>
<rect x="410" y="23.33" width="1" height="73.67" fill="rgb(180,180,180)"/>
<rect x="411" y="23.17" width="1" height="73.83" fill="rgb(60,60,60)"/>
<rect x="412" y="23.14" width="1" height="73.86" fill="rgb(200,200,200)"/>
<rect x="413" y="23.38" width="1" height="73.62" fill="rgb(235,235,235)"/>
<rect x="414" y="24.00" width="1" height="73.00" fill="rgb(180,180,180)"/>
<rect x="415" y="23.24" width="1" height="73.76" fill="rgb(110,110,110)"/>
<rect x="416" y="23.73" width="1" height="73.27" fill="rgb(150,150,150)"/>
<rect x="417" y="23.81" width="1" height="73.19" fill="rgb(160,160,160)"/>
<rect x="418" y="23.50" width="1" height="73.50" fill="rgb(190,190,190)"/>
<rect x="419" y="23.72" width="1" height="73.28" fill="rgb(150,150,150)"/>
<rect x="420" y="23.14" width="1" height="73.86" fill="rgb(210,210,210)"/>
<rect x="421" y="23.15" width="1" height="73.85" fill="rgb(150,150,150)"/>
<rect x="422" y="23.33" width="1" height="73.67" fill="rgb(150,150,150)"/>
<rect x="423" y="23.91" width="1" height="73.09" fill="rgb(160,160,160)"/>
<rect x="424" y="23.61" width="1" height="73.39" fill="rgb(170,170,170)"/>
<rect x="425" y="23.48" width="1" height="73.52" fill="rgb(235,235,235)"/>
<rect x="426" y="23.82" width="1" height="73.18" fill="rgb(235,235,235)"/>
<rect x="427" y="23.67" width="1" height="73.33" fill="rgb(90,90,90)"/>
<rect x="428" y="23.49" width="1" height="73.51" fill="rgb(80,80,80)"/>
<rect x="429" y="24.09" width="1" height="72.91" fill="rgb(150,150,150)"/>
<rect x="430" y="23.99" width="1" height="73.01" fill="rgb(200,200,200)"/>
<rect x="431" y="23.45" width="1" height="73.55" fill="rgb(245,245,245)"/>
<rect x="432" y="23.85" width="1" height="73.15" fill="rgb(120,120,120)"/>
<rect x="433" y="23.80" width="1" height="73.20" fill="rgb(160,160,160)"/>
<rect x="434" y="24.23" width="1" height="72.77" fill="rgb(120,120,120)"/>
<rect x="435" y="24.06" width="1" height="72.94" fill="rgb(150,150,150)"/>
<rect x="436" y="23.54" width="1" height="73.46" fill="rgb(200,200,200)"/>
<rect x="437" y="24.38" width="1" height="72.62" fill="rgb(230,230,230)"/>
<rect x="438" y="23.35" width="1" height="73.65" fill="rgb(220,220,220)"/>
<rect x="439" y="23.72" width="1" height="73.28" fill="rgb(180,180,180)"/>
<rect x="440" y="24.14" width="1" height="72.86" fill="rgb(120,120,120)"/>
<rect x="441" y="23.42" width="1" height="73.58" fill="rgb(170,170,170)"/>
<rect x="442" y="23.83" width="1" height="73.17" fill="rgb(190,190,190)"/>
<rect x="443" y="23.30" width="1" height="73.70" fill="rgb(190,190,190)"/>
<rect x="444" y="24.06" width="1" height="72.94" fill="rgb(170,170,170)"/>
<rect x="445" y="24.19" width="1" height="72.81" fill="rgb(150,150,150)"/>
<rect x="446" y="23.96" width="1" height="73.04" fill="rgb(200,200,200)"/>
<rect x="447" y="24.34" width="1" height="72.66" fill="rgb(220,220,220)"/>
<rect x="448" y="23.67" width="1" height="73.33" fill="rgb(210,210,210)"/>
<rect x="449" y="24.14" width="1" height="72.86" fill="rgb(130,130,130)"/>
<rect x="450" y="24.02" width="1" height="72.98" fill="rgb(110,110,110)"/>
<rect x="451" y="24.01" width="1" height="72.99" fill="rgb(180,180,180)"/>
<rect x="452" y="23.87" width="1" height="73.13" fill="rgb(150,150,150)"/>
<rect x="453" y="24.34" width="1" height="72.66" fill="rgb(230,230,230)"/>
<rect x="454" y="24.48" width="1" height="72.52" fill="rgb(130,130,130)"/>
<rect x="455" y="23.92" width="1" height="73.08" fill="rgb(130,130,130)"/>
<rect x="456" y="24.15" width="1" height="72.85" fill="rgb(150,150,150)"/>
<rect x="457" y="23.44" width="1" height="73.56" fill="rgb(120,120,120)"/>
<rect x="458" y="24.22" width="1" height="72.78" fill="rgb(140,140,140)"/>
<rect x="459" y="24.16" width="1" height="72.84" fill="rgb(170,170,170)"/>
<rect x="460" y="24.58" width="1" height="72.42" fill="rgb(170,170,170)"/>
<rect x="461" y="24.38" width="1" height="72.62" fill="rgb(170,170,170)"/>
<rect x="462" y="23.75" width="1" height="73.25" fill="rgb(170,170,170)"/>
<rect x="463" y="23.88" width="1" height="73.12" fill="rgb(170,170,170)"/>
<rect x="464" y="24.22" width="1" height="72.78" fill="rgb(70,70,70)"/>
<rect x="465" y="23.46" width="1" height="73.54" fill="rgb(190,190,190)"/>
<rect x="466" y="23.99" width="1" height="73.01" fill="rgb(170,170,170)"/>
<rect x="467" y="23.65" width="1" height="73.35" fill="rgb(170,170,170)"/>
<rect x="468" y="23.60" width="1" height="73.40" fill="rgb(230,230,230)"/>
<rect x="469" y="23.53" width="1" height="73.47" fill="rgb(100,100,100)"/>
<rect x="470" y="24.39" width="1" height="72.61" fill="rgb(110,110,110)"/>
<rect x="471" y="23.63" width="1" height="73.37" fill="rgb(130,130,130)"/>
<rect x="472" y="23.78" width="1" height="73.22" fill="rgb(230,230,230)"/>
<rect x="473" y="23.96" width="1" height="73.04" fill="rgb(255,255,255)"/>
<rect x="474" y="24.55" width="1" height="72.45" fill="rgb(255,255,255)"/>
<rect x="475" y="23.61" width="1" height="73.39" fill="rgb(240,240,240)"/>
<rect x="476" y="24.06" width="1" height="72.94" fill="rgb(150,150,150)"/>
<rect x="477" y="24.19" width="1" height="72.81" fill="rgb(130,130,130)"/>
<rect x="478" y="24.60" width="1" height="72.40" fill="rgb(110,110,110)"/>
<rect x="479" y="24.53" width="1" height="72.47" fill="rgb(130,130,130)"/>
<rect x="480" y="24.59" width="1" height="72.41" fill="rgb(210,210,210)"/>
<rect x="481" y="23.89" width="1" height="73.11" fill="rgb(150,150,150)"/>
<rect x="482" y="24.07" width="1" height="72.93" fill="rgb(90,90,90)"/>
<rect x="483" y="24.01" width="1" height="72.99" fill="rgb(120,120,120)"/>
<rect x="484" y="24.64" width="1" height="72.36" fill="rgb(210,210,210)"/>
<rect x="485" y="24.74" width="1" height="72.26" fill="rgb(180,180,180)"/>
<rect x="486" y="23.78" width="1" height="73.22" fill="rgb(190,190,190)"/>
<rect x="487" y="23.82" width="1" height="73.18" fill="rgb(190,190,190)"/>
<rect x="488" y="23.89" width="1" height="73.11" fill="rgb(190,190,190)"/>
<rect x="489" y="23.90" width="1" height="73.10" fill="rgb(170,170,170)"/>
<rect x="490" y="24.21" width="1" height="72.79" fill="rgb(120,120,120)"/>
<rect x="491" y="24.35" width="1" height="72.65" fill="rgb(70,70,70)"/>
<rect x="492" y="23.96" width="1" height="73.04" fill="rgb(100,100,100)"/>
<rect x="493" y="23.66" width="1" height="73.34" fill="rgb(170,170,170)"/>
<rect x="494" y="24.17" width="1" height="72.83" fill="rgb(80,80,80)"/>
<rect x="495" y="24.12" width="1" height="72.88" fill="rgb(90,90,90)"/>
<rect x="496" y="24.36" width="1" height="72.64" fill="rgb(210,210,210)"/>
<rect x="497" y="24.83" width="1" height="72.17" fill="rgb(230,230,230)"/>
<rect x="498" y="24.53" width="1" height="72.47" fill="rgb(40,40,40)"/>
<rect x="499" y="24.32" width="1" height="72.68" fill="rgb(70,70,70)"/>
<rect x="500" y="24.45" width="1" height="72.55" fill="rgb(120,120,120)"/>
<rect x="501" y="24.53" width="1" height="72.47" fill="rgb(100,100,100)"/>
<rect x="502" y="23.79" width="1" height="73.21" fill="rgb(100,100,100)"/>
<rect x="503" y="24.82" width="1" height="72.18" fill="rgb(90,90,90)"/>
<rect x="504" y="24.68" width="1" height="72.32" fill="rgb(90,90,90)"/>
<rect x="505" y="24.80" width="1" height="72.20" fill="rgb(100,100,100)"/>
<rect x="506" y="24.72" width="1" height="72.28" fill="rgb(60,60,60)"/>
<rect x="507" y="24.24" width="1" height="72.76" fill="rgb(140,140,140)"/>
<rect x="508" y="24.26" width="1" height="72.74" fill="rgb(200,200,200)"/>
<rect x="509" y="23.91" width="1" height="73.09" fill="rgb(120,120,120)"/>
<rect x="510" y="24.56" width="1" height="72.44" fill="rgb(130,130,130)"/>
<rect x="511" y="23.88" width="1" height="73.12" fill="rgb(120,120,120)"/>
<rect x="512" y="23.89" width="1" height="73.11" fill="rgb(110,110,110)"/>
<rect x="513" y="24.07" width="1" height="72.93" fill="rgb(40,40,40)"/>
<rect x="514" y="24.02" width="1" height="72.98" fill="rgb(140,140,140)"/>
<rect x="515" y="24.24" width="1" height="72.76" fill="rgb(150,150,150)"/>
<rect x="516" y="23.91" width="1" height="73.09" fill="rgb(120,120,120)"/>
<rect x="517" y="23.85" width="1" height="73.15" fill="rgb(150,150,150)"/>
<rect x="518" y="24.04" width="1" height="72.96" fill="rgb(170,170,170)"/>
<rect x="519" y="23.99" width="1" height="73.01" fill="rgb(120,120,120)"/>
<rect x="520" y="24.31" width="1" height="72.69" fill="rgb(80,80,80)"/>
<rect x="521" y="23.91" width="1" height="73.09" fill="rgb(110,110,110)"/>
<rect x="522" y="24.94" width="1" height="72.06" fill="rgb(100,100,100)"/>
<rect x="523" y="24.64" width="1" height="72.36" fill="rgb(80,80,80)"/>
<rect x="524" y="24.09" width="1" height="72.91" fill="rgb(120,120,120)"/>
<rect x="525" y="24.22" width="1" height="72.78" fill="rgb(150,150,150)"/>
<rect x="526" y="24.34" width="1" height="72.66" fill="rgb(150,150,150)"/>
<rect x="527" y="24.37" width="1" height="72.63" fill="rgb(100,100,100)"/>
<rect x="528" y="24.09" width="1" height="72.91" fill="rgb(90,90,90)"/>
<rect x="529" y="24.97" width="1" height="72.03" fill="rgb(250,250,250)"/>
<rect x="530" y="25.15" width="1" height="71.85" fill="rgb(150,150,150)"/>
<rect x="531" y="24.52" width="1" height="72.48" fill="rgb(100,100,100)"/>
<rect x="532" y="24.55" width="1" height="72.45" fill="rgb(110,110,110)"/>
<rect x="533" y="24.08" width="1" height="72.92" fill="rgb(130,130,130)"/>
<rect x="534" y="24.11" width="1" height="72.89" fill="rgb(90,90,90)"/>
<rect x="535" y="24.41" width="1" height="72.59" fill="rgb(100,100,100)"/>
<rect x="536" y="24.32" width="1" height="72.68" fill="rgb(140,140,140)"/>
<rect x="537" y="25.01" width="1" height="71.99" fill="rgb(160,160,160)"/>
<rect x="538" y="24.21" width="1" height="72.79" fill="rgb(110,110,110)"/>
<rect x="539" y="24.06" width="1" height="72.94" fill="rgb(100,100,100)"/>
<rect x="540" y="25.18" width="1" height="71.82" fill="rgb(140,140,140)"/>
<rect x="541" y="24.68" width="1" height="72.32" fill="rgb(170,170,170)"/>
<rect x="542" y="24.23" width="1" height="72.77" fill="rgb(110,110,110)"/>
<rect x="543" y="24.71" width="1" height="72.29" fill="rgb(170,170,170)"/>
<rect x="544" y="24.10" width="1" height="72.90" fill="rgb(140,140,140)"/>
<rect x="545" y="24.71" width="1" height="72.29" fill="rgb(100,100,100)"/>
<rect x="546" y="25.26" width="1" height="71.74" fill="rgb(100,100,100)"/>
<rect x="547" y="25.13" width="1" height="71.87" fill="rgb(150,150,150)"/>
<rect x="548" y="24.94" width="1" height="72.06" fill="rgb(20,20,20)"/>
<rect x="549" y="24.42" width="1" height="72.58" fill="rgb(60,60,60)"/>
<rect x="550" y="24.56" width="1" height="72.44" fill="rgb(120,120,120)"/>
<rect x="551" y="24.33" width="1" height="72.67" fill="rgb(130,130,130)"/>
<rect x="552" y="25.06" width="1" height="71.94" fill="rgb(200,200,200)"/>
<rect x="553" y="24.78" width="1" height="72.22" fill="rgb(60,60,60)"/>
<rect x="554" y="25.08" width="1" height="71.92" fill="rgb(150,150,150)"/>
<rect x="555" y="24.55" width="1" height="72.45" fill="rgb(160,160,160)"/>
<rect x="556" y="24.43" width="1" height="72.57" fill="rgb(100,100,100)"/>
<rect x="557" y="25.15" width="1" height="71.85" fill="rgb(190,190,190)"/>
<rect x="558" y="25.36" width="1" height="71.64" fill="rgb(50,50,50)"/>
<rect x="559" y="25.21" width="1" height="71.79" fill="rgb(120,120,120)"/>
<rect x="560" y="25.17" width="1" height="71.83" fill="rgb(170,170,170)"/>
<rect x="561" y="25.19" width="1" height="71.81" fill="rgb(200,200,200)"/>
<rect x="562" y="25.10" width="1" height="71.90" fill="rgb(210,210,210)"/>
<rect x="563" y="24.49" width="1" height="72.51" fill="rgb(180,180,180)"/>
<rect x="564" y="24.85" width="1" height="72.15" fill="rgb(120,120,120)"/>
<rect x="565" y="24.67" width="1" height="72.33" fill="rgb(110,110,110)"/>
<rect x="566" y="24.28" width="1" height="72.72" fill="rgb(150,150,150)"/>
<rect x="567" y="24.29" width="1" height="72.71" fill="rgb(140,140,140)"/>
<rect x="568" y="24.60" width="1" height="72.40" fill="rgb(100,100,100)"/>
<rect x="569" y="24.58" width="1" height="72.42" fill="rgb(60,60,60)"/>
<rect x="570" y="25.11" width="1" height="71.89" fill="rgb(130,130,130)"/>
<rect x="571" y="25.43" width="1" height="71.57" fill="rgb(110,110,110)"/>
<rect x="572" y="24.83" width="1" height="72.17" fill="rgb(140,140,140)"/>
<rect x="573" y="25.43" width="1" height="71.57" fill="rgb(120,120,120)"/>
<rect x="574" y="25.50" width="1" height="71.50" fill="rgb(180,180,180)"/>
<rect x="575" y="25.47" width="1" height="71.53" fill="rgb(230,230,230)"/>
<rect x="576" y="24.76" width="1" height="72.24" fill="rgb(170,170,170)"/>
<rect x="577" y="24.60" width="1" height="72.40" fill="rgb(160,160,160)"/>
<rect x="578" y="24.62" width="1" height="72.38" fill="rgb(140,140,140)"/>
<rect x="579" y="24.59" width="1" height="72.41" fill="rgb(90,90,90)"/>
<rect x="580" y="24.60" width="1" height="72.40" fill="rgb(80,80,80)"/>
<rect x="581" y="25.12" width="1" height="71.88" fill="rgb(70,70,70)"/>
<rect x="582" y="25.46" width="1" height="71.54" fill="rgb(90,90,90)"/>
<rect x="583" y="25.39" width="1" height="71.61" fill="rgb(90,90,90)"/>
<rect x="584" y="24.97" width="1" height="72.03" fill="rgb(100,100,100)"/>
<rect x="585" y="25.18" width="1" height="71.82" fill="rgb(80,80,80)"/>
<rect x="586" y="25.37" width="1" height="71.63" fill="rgb(130,130,130)"/>
<rect x="587" y="24.52" width="1" height="72.48" fill="rgb(50,50,50)"/>
<rect x="588" y="25.22" width="1" height="71.78" fill="rgb(80,80,80)"/>
<rect x="589" y="25.52" width="1" height="71.48" fill="rgb(110,110,110)"/>
<rect x="590" y="25.38" width="1" height="71.62" fill="rgb(140,140,140)"/>
<rect x="591" y="25.35" width="1" height="71.65" fill="rgb(100,100,100)"/>
<rect x="592" y="25.03" width="1" height="71.97" fill="rgb(60,60,60)"/>
<rect x="593" y="24.68" width="1" height="72.32" fill="rgb(130,130,130)"/>
<rect x="594" y="25.42" width="1" height="71.58" fill="rgb(100,100,100)"/>
<rect x="595" y="24.88" width="1" height="72.12" fill="rgb(90,90,90)"/>
<rect x="596" y="25.45" width="1" height="71.55" fill="rgb(30,30,30)"/>
<rect x="597" y="25.66" width="1" height="71.34" fill="rgb(110,110,110)"/>
<rect x="598" y="24.98" width="1" height="72.02" fill="rgb(120,120,120)"/>
<rect x="599" y="24.99" width="1" height="72.01" fill="rgb(100,100,100)"/>
<rect x="600" y="25.66" width="1" height="71.34" fill="rgb(90,90,90)"/>
<rect x="601" y="25.40" width="1" height="71.60" fill="rgb(90,90,90)"/>
<rect x="602" y="24.74" width="1" height="72.26" fill="rgb(70,70,70)"/>
<rect x="603" y="24.70" width="1" height="72.30" fill="rgb(10,10,10)"/>
<rect x="604" y="24.73" width="1" height="72.27" fill="rgb(5,5,5)"/>
<rect x="605" y="25.65" width="1" height="71.35" fill="rgb(50,50,50)"/>
<rect x="606" y="25.54" width="1" height="71.46" fill="rgb(100,100,100)"/>
<rect x="607" y="24.75" width="1" height="72.25" fill="rgb(100,100,100)"/>
<rect x="608" y="25.58" width="1" height="71.42" fill="rgb(70,70,70)"/>
<rect x="609" y="25.77" width="1" height="71.23" fill="rgb(60,60,60)"/>
<rect x="610" y="25.39" width="1" height="71.61" fill="rgb(100,100,100)"/>
<rect x="611" y="25.03" width="1" height="71.97" fill="rgb(140,140,140)"/>
<rect x="612" y="25.28" width="1" height="71.72" fill="rgb(120,120,120)"/>
<rect x="613" y="24.78" width="1" height="72.22" fill="rgb(110,110,110)"/>
<rect x="614" y="24.65" width="1" height="72.35" fill="rgb(130,130,130)"/>
<rect x="615" y="25.81" width="1" height="71.19" fill="rgb(130,130,130)"/>
<rect x="616" y="25.43" width="1" height="71.57" fill="rgb(80,80,80)"/>
<rect x="617" y="25.29" width="1" height="71.71" fill="rgb(60,60,60)"/>
<rect x="618" y="25.79" width="1" height="71.21" fill="rgb(90,90,90)"/>
<rect x="619" y="25.20" width="1" height="71.80" fill="rgb(10,10,10)"/>
<rect x="620" y="25.73" width="1" height="71.27" fill="rgb(5,5,5)"/>
<rect x="621" y="25.68" width="1" height="71.32" fill="rgb(5,5,5)"/>
<rect x="622" y="24.95" width="1" height="72.05" fill="rgb(5,5,5)"/>
<rect x="623" y="25.01" width="1" height="71.99" fill="rgb(30,30,30)"/>
<rect x="624" y="25.07" width="1" height="71.93" fill="rgb(130,130,130)"/>
<rect x="625" y="25.01" width="1" height="71.99" fill="rgb(120,120,120)"/>
<rect x="626" y="25.44" width="1" height="71.56" fill="rgb(40,40,40)"/>
<rect x="627" y="25.05" width="1" height="71.95" fill="rgb(110,110,110)"/>
<rect x="628" y="25.25" width="1" height="71.75" fill="rgb(130,130,130)"/>
<rect x="629" y="24.91" width="1" height="72.09" fill="rgb(180,180,180)"/>
<rect x="630" y="25.86" width="1" height="71.14" fill="rgb(170,170,170)"/>
<rect x="631" y="25.20" width="1" height="71.80" fill="rgb(120,120,120)"/>
<rect x="632" y="25.33" width="1" height="71.67" fill="rgb(100,100,100)"/>
<rect x="633" y="25.49" width="1" height="71.51" fill="rgb(40,40,40)"/>
<rect x="634" y="25.88" width="1" height="71.12" fill="rgb(70,70,70)"/>
<rect x="635" y="25.31" width="1" height="71.69" fill="rgb(110,110,110)"/>
<rect x="636" y="25.91" width="1" height="71.09" fill="rgb(60,60,60)"/>
<rect x="637" y="25.42" width="1" height="71.58" fill="rgb(60,60,60)"/>
<rect x="638" y="25.47" width="1" height="71.53" fill="rgb(100,100,100)"/>
<rect x="639" y="25.46" width="1" height="71.54" fill="rgb(40,40,40)"/>
<rect x="640" y="24.87" width="1" height="72.13" fill="rgb(10,10,10)"/>
<rect x="641" y="25.38" width="1" height="71.62" fill="rgb(30,30,30)"/>
<rect x="642" y="25.08" width="1" height="71.92" fill="rgb(60,60,60)"/>
<rect x="643" y="24.87" width="1" height="72.13" fill="rgb(60,60,60)"/>
<rect x="644" y="25.84" width="1" height="71.16" fill="rgb(70,70,70)"/>
<rect x="645" y="25.09" width="1" height="71.91" fill="rgb(70,70,70)"/>
<rect x="646" y="25.46" width="1" height="71.54" fill="rgb(80,80,80)"/>
<rect x="647" y="25.77" width="1" height="71.23" fill="rgb(80,80,80)"/>
<rect x="648" y="25.58" width="1" height="71.42" fill="rgb(50,50,50)"/>
<rect x="649" y="25.31" width="1" height="71.69" fill="rgb(60,60,60)"/>
<rect x="650" y="25.55" width="1" height="71.45" fill="rgb(30,30,30)"/>
<rect x="651" y="25.60" width="1" height="71.40" fill="rgb(10,10,10)"/>
<rect x="652" y="25.88" width="1" height="71.12" fill="rgb(80,80,80)"/>
<rect x="653" y="25.08" width="1" height="71.92" fill="rgb(100,100,100)"/>
<rect x="654" y="25.63" width="1" height="71.37" fill="rgb(60,60,60)"/>
<rect x="655" y="25.26" width="1" height="71.74" fill="rgb(190,190,190)"/>
<rect x="656" y="25.31" width="1" height="71.69" fill="rgb(110,110,110)"/>
<rect x="657" y="25.91" width="1" height="71.09" fill="rgb(60,60,60)"/>
<rect x="658" y="25.60" width="1" height="71.40" fill="rgb(60,60,60)"/>
<rect x="659" y="25.67" width="1" height="71.33" fill="rgb(70,70,70)"/>
<rect x="660" y="25.92" width="1" height="71.08" fill="rgb(10,10,10)"/>
<rect x="661" y="26.11" width="1" height="70.89" fill="rgb(10,10,10)"/>
<rect x="662" y="25.55" width="1" height="71.45" fill="rgb(20,20,20)"/>
<rect x="663" y="25.77" width="1" height="71.23" fill="rgb(60,60,60)"/>
<rect x="664" y="25.65" width="1" height="71.35" fill="rgb(60,60,60)"/>
<rect x="665" y="25.66" width="1" height="71.34" fill="rgb(70,70,70)"/>
<rect x="666" y="25.89" width="1" height="71.11" fill="rgb(10,10,10)"/>
<rect x="667" y="25.61" width="1" height="71.39" fill="rgb(10,10,10)"/>
<rect x="668" y="25.71" width="1" height="71.29" fill="rgb(70,70,70)"/>
<rect x="669" y="25.65" width="1" height="71.35" fill="rgb(40,40,40)"/>
<rect x="670" y="26.22" width="1" height="70.78" fill="rgb(10,10,10)"/>
<rect x="671" y="25.93" width="1" height="71.07" fill="rgb(50,50,50)"/>
<rect x="672" y="26.15" width="1" height="70.85" fill="rgb(70,70,70)"/>
<rect x="673" y="26.24" width="1" height="70.76" fill="rgb(20,20,20)"/>
<rect x="674" y="25.43" width="1" height="71.57" fill="rgb(10,10,10)"/>
<rect x="675" y="25.80" width="1" height="71.20" fill="rgb(10,10,10)"/>
<rect x="676" y="26.27" width="1" height="70.73" fill="rgb(10,10,10)"/>
<rect x="677" y="26.15" width="1" height="70.85" fill="rgb(40,40,40)"/>
<rect x="678" y="25.32" width="1" height="71.68" fill="rgb(30,30,30)"/>
<rect x="679" y="25.31" width="1" height="71.69" fill="rgb(20,20,20)"/>
<rect x="680" y="25.70" width="1" height="71.30" fill="rgb(40,40,40)"/>
<rect x="681" y="25.26" width="1" height="71.74" fill="rgb(20,20,20)"/>
<rect x="682" y="25.47" width="1" height="71.53" fill="rgb(10,10,10)"/>
<rect x="683" y="25.28" width="1" height="71.72" fill="rgb(30,30,30)"/>
<rect x="684" y="26.00" width="1" height="71.00" fill="rgb(20,20,20)"/>
<polyline points="387.00,95.45 387.13,97.39 387.26,94.22 387.39,98.71 387.52,95.45 387.65,95.59 387.78,98.32 387.91,99.05 388.04,96.88 388.17,91.55 388.30,94.20 388.43,95.97 388.56,97.47 388.69,101.07 388.82,99.33 388.95,95.35 389.08,98.34 389.21,94.48 389.34,97.50 389.47,99.89 389.60,96.52 389.73,94.37 389.86,93.49 389.99,94.26 390.12,96.89 390.25,97.44 390.38,97.47 390.51,92.35 390.64,95.57 390.77,98.93 390.90,94.44 391.03,97.47 391.16,95.79 391.29,94.06 391.42,94.54 391.55,100.11 391.68,96.11 391.81,97.86 391.94,95.98 392.07,98.55 392.20,97.52 392.33,95.34 392.46,95.38 392.59,99.12 392.72,92.78 392.85,99.00 392.98,97.05 393.11,98.87 393.24,96.96 393.37,94.78 393.50,95.80 393.63,95.87 393.76,96.38 393.89,93.64 394.02,92.98 394.15,95.28 394.28,96.82 394.41,95.95 394.54,93.98 394.67,97.78 394.80,99.54 394.93,95.59 395.06,97.34 395.19,97.44 395.32,96.45 395.45,97.19 395.58,98.04 395.71,91.32 395.84,96.12 395.97,93.45 396.10,93.94 396.23,98.65 396.36,94.60 396.49,96.34 396.62,96.13 396.75,99.20 396.88,96.03 397.01,94.67 397.14,96.53 397.27,98.23 397.40,94.17 397.53,92.60 397.66,94.88 397.79,94.63 397.92,94.17 398.05,94.41 398.18,96.09 398.31,99.34 398.44,95.26 398.57,94.78 398.70,96.27 398.83,95.04 398.96,94.38 399.09,96.98 399.22,99.77 399.35,94.15 399.48,97.46 399.61,96.55 399.74,95.95 399.87,95.20 400.00,99.90 400.13,96.20 400.26,96.07 400.39,98.28 400.52,93.66 400.65,94.81 400.78,96.51 400.91,97.37 401.04,98.81 401.17,95.83 401.30,94.13 401.43,94.77 401.56,96.10 401.69,98.57 401.82,96.18 401.95,94.75 402.08,94.01 402.21,93.28 402.34,92.67 402.47,95.39 402.60,96.11 402.73,91.89 402.86,96.18 402.99,96.58 403.12,94.38 403.25,95.14 403.38,95.43 403.51,94.86 403.64,97.08 403.77,94.24 403.90,96.13 404.03,95.63 404.16,96.16 404.29,96.13 404.42,94.59 404.55,97.76 404.68,95.24 404.81,92.40 404.94,95.73 405.07,97.08 405.20,95.85 405.33,96.37 405.46,95.52 405.59,99.82 405.72,93.21 405.85,102.75 405.98,95.48 406.11,99.93 406.24,93.57 406.37,96.35 406.50,102.31 406.63,94.32 406.76,96.77 406.89,96.43 407.02,97.83 407.15,93.51 407.28,96.52 407.41,94.40 407.54,97.78 407.67,96.44 407.80,96.55 407.93,98.71 408.06,96.82 408.19,94.80 408.32,97.76 408.45,98.18 408.58,99.12 408.71,97.84 408.84,91.36 408.97,98.94 409.10,100.10 409.23,95.22 409.36,98.01 409.49,99.17 409.62,97.71 409.75,95.25 409.88,94.88 410.01,96.29 410.14,101.26 410.27,95.18 410.40,95.77 410.53,91.52 410.66,96.44 410.79,96.79 410.92,91.68 411.05,95.77 411.18,100.05 411.31,96.01 411.44,97.33 411.57,98.13 411.70,94.96 411.83,96.38 411.96,98.94 412.09,96.74 412.22,96.37 412.35,98.44 412.48,96.05 412.61,97.61 412.74,95.07 412.87,93.90 413.00,94.70 413.13,98.45 413.26,94.44 413.39,100.79 413.52,98.21 413.65,90.71 413.78,102.39 413.91,95.55 414.04,100.74 414.17,98.63 414.30,97.23 414.43,94.54 414.56,99.32 414.69,96.84 414.82,96.34 414.95,99.90 415.08,98.64 415.21,97.38 415.34,96.62 415.47,98.99 415.60,98.23 415.73,94.66 415.86,96.94 415.99,101.16 416.12,97.03 416.25,97.06 416.38,103.72 416.51,94.54 416.64,95.32 416.77,98.37 416.90,95.33 417.03,97.41 417.16,94.00 417.29,95.67 417.42,98.44 417.55,96.60 417.68,95.11 417.81,96.61 417.94,97.09 418.07,103.41 418.20,96.23 418.33,98.13 418.46,99.25 418.59,96.62 418.72,93.02 418.85,98.85 418.98,98.68 419.11,99.13 419.24,98.27 419.37,99.93 419.50,97.38 419.63,94.49 419.76,94.81 419.89,97.05 420.02,97.70 420.15,96.14 420.28,97.61 420.41,96.11 420.54,96.84 420.67,98.87 420.80,97.44 420.93,96.38 421.06,97.82 421.19,91.76 421.32,100.72 421.45,95.75 421.58,96.06 421.71,100.74 421.84,97.92 421.97,99.79 422.10,100.77 422.23,100.01 422.36,97.01 422.49,96.76 422.62,95.32 422.75,100.06 422.88,97.06 423.01,98.68 423.14,97.63 423.27,93.67 423.40,96.95 423.53,100.95 423.66,98.81 423.79,96.92 423.92,98.88 424.05,94.86 424.18,99.26 424.31,96.64 424.44,96.21 424.57,98.31 424.70,97.32 424.83,95.59 424.96,98.76 425.09,99.16 425.22,95.10 425.35,96.76 425.48,96.91 425.61,94.25 425.74,97.64 425.87,99.52 426.00,99.28 426.13,96.59 426.26,96.08 426.39,92.10 426.52,96.41 426.65,97.36 426.78,94.90 426.91,99.56 427.04,97.74 427.17,99.43 427.30,98.39 427.43,95.23 427.56,97.00 427.69,95.53 427.82,97.54 427.95,96.30 428.08,95.98 428.21,94.92 428.34,95.89 428.47,96.90 428.60,97.10 428.73,93.45 428.86,99.18 428.99,94.79 429.12,96.71 429.25,95.23 429.38,96.43 429.51,96.64 429.64,99.28 429.77,100.28 429.90,96.48 430.03,95.86 430.16,98.36 430.29,94.05 430.42,98.44 430.55,96.34 430.68,97.46 430.81,96.96 430.94,99.09 431.07,98.44 431.20,97.56 431.33,97.71 431.46,94.67 431.59,92.85 431.72,98.25 431.85,97.37 431.98,99.98 432.11,99.35 432.24,96.79 432.37,100.14 432.50,95.02 432.63,99.61 432.76,96.67 432.89,96.97 433.02,95.82 433.15,98.29 433.28,100.01 433.41,100.71 433.54,98.39 433.67,100.17 433.80,97.27 433.93,95.18 434.06,96.06 434.19,99.08 434.32,95.27 434.45,97.08 434.58,95.98 434.71,99.16 434.84,99.11 434.97,100.40 435.10,96.68 435.23,94.91 435.36,97.02 435.49,99.90 435.62,99.44 435.75,99.38 435.88,92.91 436.01,92.61 436.14,99.28 436.27,96.64 436.40,96.44 436.53,97.92 436.66,97.40 436.79,100.18 436.92,100.00 437.05,99.11 437.18,95.32 437.31,97.72 437.44,100.22 437.57,98.68 437.70,98.52 437.83,98.64 437.96,93.80 438.09,95.98 438.22,99.71 438.35,94.02 438.48,95.73 438.61,97.56 438.74,100.19 438.87,94.05 439.00,100.73 439.13,95.55 439.26,101.92 439.39,95.93 439.52,94.73 439.65,97.08 439.78,96.44 439.91,97.97 440.04,93.13 440.17,97.39 440.30,96.25 440.43,97.73 440.56,94.56 440.69,97.92 440.82,96.28 440.95,99.59 441.08,96.23 441.21,98.07 441.34,100.50 441.47,97.58 441.60,98.52 441.73,98.16 441.86,98.31 441.99,96.37 442.12,97.48 442.25,97.32 442.38,93.77 442.51,96.60 442.64,100.42 442.77,96.77 442.90,100.23 443.03,95.80 443.16,97.02 443.29,95.75 443.42,95.32 443.55,98.03 443.68,95.19 443.81,95.72 443.94,92.90 444.07,94.90 444.20,96.68 444.33,99.02 444.46,100.39 444.59,96.31 444.72,97.63 444.85,98.06 444.98,94.27 445.11,95.46 445.24,97.34 445.37,98.97 445.50,97.90 445.63,97.83 445.76,99.84 445.89,97.13 446.02,95.84 446.15,100.94 446.28,97.69 446.41,98.92 446.54,95.96 446.67,98.85 446.80,94.98 446.93,95.15 447.06,99.14 447.19,95.91 447.32,92.92 447.45,93.60 447.58,91.07 447.71,93.46 447.84,95.69 447.97,97.13 448.10,98.10 448.23,94.08 448.36,98.40 448.49,100.90 448.62,97.36 448.75,96.64 448.88,99.18 449.01,94.75 449.14,96.58 449.27,96.99 449.40,98.97 449.53,96.52 449.66,93.43 449.79,99.02 449.92,91.56 450.05,100.50 450.18,95.19 450.31,92.85 450.44,98.49 450.57,96.12 450.70,95.59 450.83,100.09 450.96,99.58 451.09,95.31 451.22,99.21 451.35,92.96 451.48,94.22 451.61,95.87 451.74,95.46 451.87,95.91 452.00,97.20 452.13,94.95 452.26,94.04 452.39,97.59 452.52,95.98 452.65,95.82 452.78,94.25 452.91,97.63 453.04,101.22 453.17,95.16 453.30,96.70 453.43,94.70 453.56,95.32 453.69,93.89 453.82,96.36 453.95,97.99 454.08,96.38 454.21,97.92 454.34,98.95 454.47,98.50 454.60,96.84 454.73,98.31 454.86,96.19 454.99,93.85 455.12,94.94 455.25,97.46 455.38,98.45 455.51,98.94 455.64,97.09 455.77,96.60 455.90,98.03 456.03,94.82 456.16,95.25 456.29,93.19 456.42,94.03 456.55,97.13 456.68,96.07 456.81,95.97 456.94,97.59 457.07,94.60 457.20,100.30 457.33,96.70 457.46,97.33 457.59,99.32 457.72,97.71 457.85,93.96 457.98,99.59 458.11,94.60 458.24,95.59 458.37,98.29 458.50,96.03 458.63,99.49 458.76,97.05 458.89,99.12 459.02,95.67 459.15,97.52 459.28,99.53 459.41,95.67 459.54,95.19 459.67,96.00 459.80,95.02 459.93,95.54 460.06,97.28 460.19,92.58 460.32,93.69 460.45,93.40 460.58,97.52 460.71,96.85 460.84,95.81 460.97,97.60 461.10,95.64 461.23,93.54 461.36,100.61 461.49,97.26 461.62,96.68 461.75,98.46 461.88,100.11 462.01,98.85 462.14,98.16 462.27,99.42 462.40,95.90 462.53,95.19 462.66,98.31 462.79,94.74 462.92,99.46 463.05,96.48 463.18,96.60 463.31,99.74 463.44,97.84 463.57,96.75 463.70,96.56 463.83,101.39 463.96,95.43 464.09,91.42 464.22,93.98 464.35,96.09 464.48,97.85 464.61,98.87 464.74,93.44 464.87,98.94 465.00,98.85 465.13,98.69 465.26,92.73 465.39,98.80 465.52,92.64 465.65,94.56 465.78,97.84 465.91,95.81 466.04,96.72 466.17,99.23 466.30,94.60 466.43,96.80 466.56,93.63 466.69,99.43 466.82,95.01 466.95,96.51 467.08,99.27 467.21,91.57 467.34,96.79 467.47,93.84 467.60,102.45 467.73,95.00 467.86,94.25 467.99,96.28 468.12,100.61 468.25,99.74 468.38,93.41 468.51,97.57 468.64,96.96 468.77,97.64 468.90,98.48 469.03,96.05 469.16,99.86 469.29,95.99 469.42,93.21 469.55,95.11 469.68,95.96 469.81,95.15 469.94,96.92 470.07,101.98 470.20,96.66 470.33,100.84 470.46,98.28 470.59,94.83 470.72,98.04 470.85,94.20 470.98,95.25 471.11,97.66 471.24,98.05 471.37,95.48 471.50,94.10 471.63,95.17 471.76,101.97 471.89,99.15 472.02,94.92 472.15,94.03 472.28,99.24 472.41,97.89 472.54,94.72 472.67,104.00 472.80,95.31 472.93,97.32 473.06,96.50 473.19,94.14 473.32,97.74 473.45,97.42 473.58,93.28 473.71,99.18 473.84,95.13 473.97,98.11 474.10,97.72 474.23,96.25 474.36,94.42 474.49,93.18 474.62,96.59 474.75,95.76 474.88,98.24 475.01,98.00 475.14,95.85 475.27,95.19 475.40,98.62 475.53,96.49 475.66,96.56 475.79,96.48 475.92,100.39 476.05,93.70 476.18,97.65 476.31,91.64 476.44,96.93 476.57,96.54 476.70,98.05 476.83,96.15 476.96,96.58 477.09,97.43 477.22,93.24 477.35,97.54 477.48,95.94 477.61,98.76 477.74,96.23 477.87,96.76 478.00,97.79 478.13,98.32 478.26,96.35 478.39,95.60 478.52,94.02 478.65,97.67 478.78,94.89 478.91,96.48 479.04,95.00 479.17,94.23 479.30,100.89 479.43,96.28 479.56,90.22 479.69,94.48 479.82,100.48 479.95,93.21 480.08,98.06 480.21,97.37 480.34,94.89 480.47,93.17 480.60,98.49 480.73,93.45 480.86,95.41 480.99,93.93 481.12,95.75 481.25,96.16 481.38,99.37 481.51,97.71 481.64,99.82 481.77,99.24 481.90,96.33 482.03,94.94 482.16,100.86 482.29,97.16 482.42,96.11 482.55,101.75 482.68,98.30 482.81,91.31 482.94,92.17 483.07,98.51 483.20,95.66 483.33,97.03 483.46,95.88 483.59,93.45 483.72,96.70 483.85,101.45 483.98,94.72 484.11,98.68 484.24,97.29 484.37,94.95 484.50,95.45 484.63,98.35 484.76,96.37 484.89,96.60 485.02,96.71 485.15,94.01 485.28,97.05 485.41,100.97 485.54,94.93 485.67,97.62 485.80,97.16 485.93,97.07 486.06,98.30 486.19,99.58 486.32,94.15 486.45,95.73 486.58,95.79 486.71,94.66 486.84,97.52 486.97,95.76 487.10,100.36 487.23,98.85 487.36,95.53 487.49,96.06 487.62,96.91 487.75,95.37 487.88,97.91 488.01,95.15 488.14,94.45 488.27,96.54 488.40,95.82 488.53,93.88 488.66,99.68 488.79,97.48 488.92,97.67 489.05,99.60 489.18,98.20 489.31,98.76 489.44,100.23 489.57,101.28 489.70,100.77 489.83,96.87 489.96,100.38 490.09,99.52 490.22,92.26 490.35,99.56 490.48,99.22 490.61,96.66 490.74,101.96 490.87,98.23 491.00,92.40 491.13,95.34 491.26,98.56 491.39,96.92 491.52,97.05 491.65,99.00 491.78,100.02 491.91,99.56 492.04,95.75 492.17,99.94 492.30,98.01 492.43,97.07 492.56,95.51 492.69,99.24 492.82,97.52 492.95,93.66 493.08,95.03 493.21,99.68 493.34,95.77 493.47,97.56 493.60,97.46 493.73,97.57 493.86,97.44 493.99,98.46 494.12,99.41 494.25,93.35 494.38,99.08 494.51,95.89 494.64,100.24 494.77,97.59 494.90,96.02 495.03,98.81 495.16,98.38 495.29,101.48 495.42,98.44 495.55,99.49 495.68,101.72 495.81,95.19 495.94,101.53 496.07,99.04 496.20,94.31 496.33,96.20 496.46,99.06 496.59,102.99 496.72,97.93 496.85,98.95 496.98,97.77 497.11,98.84 497.24,97.87 497.37,97.43 497.50,100.33 497.63,99.11 497.76,98.74 497.89,96.30 498.02,97.96 498.15,97.56 498.28,96.43 498.41,96.20 498.54,95.23 498.67,96.59 498.80,96.64 498.93,96.85 499.06,95.86 499.19,99.99 499.32,95.14 499.45,99.23 499.58,96.64 499.71,92.09 499.84,98.07 499.97,98.88 500.10,97.08 500.23,102.50 500.36,96.56 500.49,94.90 500.62,101.15 500.75,96.69 500.88,97.43 501.01,95.78 501.14,96.10 501.27,98.98 501.40,99.02 501.53,97.32 501.66,97.00 501.79,92.72 501.92,97.89 502.05,95.78 502.18,97.40 502.31,99.46 502.44,95.85 502.57,97.58 502.70,99.69 502.83,98.71 502.96,95.72 503.09,98.31 503.22,98.79 503.35,95.01 503.48,93.20 503.61,101.95 503.74,102.77 503.87,98.06 504.00,94.07 504.13,98.41 504.26,100.50 504.39,96.53 504.52,96.48 504.65,95.22 504.78,92.47 504.91,95.55 505.04,98.59 505.17,92.46 505.30,92.75 505.43,97.88 505.56,98.18 505.69,94.12 505.82,100.97 505.95,95.43 506.08,100.40 506.21,97.55 506.34,96.66 506.47,98.97 506.60,103.03 506.73,97.09 506.86,103.28 506.99,95.69 507.12,89.20 507.25,97.81 507.38,96.02 507.51,98.37 507.64,97.07 507.77,95.18 507.90,99.46 508.03,95.77 508.16,93.86 508.29,100.75 508.42,99.76 508.55,97.08 508.68,97.52 508.81,91.24 508.94,98.86 509.07,97.48 509.20,94.66 509.33,97.82 509.46,100.09 509.59,97.62 509.72,95.45 509.85,96.25 509.98,98.90 510.11,99.53 510.24,98.30 510.37,100.51 510.50,98.98 510.63,95.62 510.76,99.15 510.89,96.68 511.02,95.41 511.15,97.43 511.28,95.75 511.41,98.44 511.54,97.39 511.67,98.83 511.80,96.44 511.93,97.32 512.06,98.96 512.19,95.86 512.32,95.22 512.45,98.88 512.58,98.92 512.71,98.96 512.84,95.90 512.97,97.67 513.10,97.79 513.23,97.95 513.36,95.55 513.49,98.11 513.62,93.14 513.75,98.51 513.88,96.11 514.01,93.51 514.14,101.81 514.27,96.34 514.40,95.99 514.53,96.19 514.66,102.23 514.79,97.45 514.92,99.30 515.05,97.58 515.18,94.20 515.31,100.43 515.44,96.47 515.57,93.99 515.70,100.03 515.83,96.00 515.96,97.85 516.09,98.24 516.22,98.92 516.35,98.34 516.48,98.30 516.61,100.17 516.74,96.06 516.87,92.85 517.00,99.80 517.13,95.71 517.26,100.33 517.39,96.62 517.52,94.78 517.65,99.75 517.78,95.61 517.91,95.76 518.04,97.29 518.17,98.89 518.30,96.94 518.43,100.17 518.56,103.98 518.69,96.59 518.82,95.88 518.95,97.49 519.08,94.57 519.21,93.31 519.34,97.37 519.47,102.45 519.60,98.44 519.73,97.15 519.86,103.33 519.99,98.69 520.12,95.93 520.25,99.34 520.38,100.11 520.51,97.81 520.64,98.37 520.77,99.20 520.90,98.25 521.03,96.77 521.16,96.68 521.29,95.49 521.42,95.56 521.55,97.44 521.68,103.02 521.81,97.19 521.94,99.85 522.07,96.62 522.20,93.85 522.33,99.17 522.46,95.16 522.59,95.94 522.72,98.89 522.85,96.78 522.98,94.98 523.11,95.51 523.24,96.26 523.37,98.27 523.50,94.79 523.63,95.95 523.76,95.89 523.89,95.01 524.02,98.44 524.15,95.90 524.28,96.02 524.41,95.19 524.54,97.10 524.67,100.89 524.80,99.69 524.93,99.79 525.06,97.08 525.19,97.35 525.32,95.81 525.45,95.96 525.58,94.70 525.71,99.51 525.84,94.82 525.97,98.23 526.10,101.42 526.23,95.49 526.36,98.37 526.49,94.21 526.62,96.74 526.75,98.41 526.88,100.24 527.01,100.89 527.14,97.48 527.27,94.98 527.40,97.75 527.53,98.19 527.66,95.28 527.79,90.45 527.92,95.31 528.05,93.17 528.18,100.16 528.31,99.19 528.44,95.25 528.57,96.37 528.70,97.89 528.83,97.76 528.96,92.09 529.09,102.53 529.22,95.08 529.35,98.13 529.48,98.66 529.61,95.49 529.74,96.94 529.87,102.10 530.00,94.42 530.13,96.13 530.26,94.28 530.39,94.26 530.52,92.73 530.65,91.10 530.78,94.33 530.91,100.30 531.04,92.61 531.17,96.60 531.30,92.73 531.43,97.59 531.56,95.74 531.69,99.29 531.82,91.08 531.95,98.25 532.08,95.23 532.21,95.62 532.34,95.88 532.47,99.25 532.60,97.51 532.73,93.04 532.86,93.09 532.99,94.41 533.12,100.21 533.25,96.81 533.38,98.24 533.51,97.45 533.64,97.11 533.77,95.89 533.90,95.98 534.03,95.34 534.16,96.25 534.29,90.79 534.42,94.02 534.55,98.56 534.68,94.11 534.81,95.33 534.94,98.06 535.07,97.02 535.20,97.10 535.33,99.10 535.46,88.99 535.59,98.11 535.72,99.66 535.85,94.45 535.98,92.52 536.11,95.03 536.24,92.45 536.37,100.57 536.50,92.66 536.63,98.96 536.76,103.02 536.89,94.80 537.02,96.28 537.15,95.51 537.28,91.52 537.41,94.89 537.54,98.22 537.67,93.42 537.80,98.09 537.93,91.01 538.06,97.75 538.19,100.84 538.32,97.06 538.45,96.06 538.58,89.46 538.71,101.69 538.84,95.56 538.97,98.89 539.10,101.12 539.23,94.87 539.36,97.04 539.49,90.95 539.62,94.00 539.75,98.21 539.88,96.88 540.01,99.96 540.14,97.38 540.27,100.17 540.40,87.68 540.53,97.61 540.66,96.12 540.79,93.99 540.92,95.72 541.05,94.27 541.18,98.87 541.31,97.30 541.44,96.54 541.57,99.76 541.70,96.46 541.83,97.55 541.96,96.36 542.09,93.69 542.22,97.57 542.35,98.92 542.48,95.83 542.61,100.87 542.74,95.40 542.87,101.03 543.00,99.61 543.13,99.13 543.26,93.16 543.39,100.17 543.52,96.21 543.65,94.04 543.78,98.00 543.91,93.92 544.04,96.54 544.17,95.43 544.30,95.62 544.43,90.26 544.56,96.12 544.69,98.54 544.82,95.16 544.95,96.60 545.08,94.39 545.21,98.32 545.34,95.75 545.47,93.53 545.60,95.83 545.73,97.59 545.86,97.98 545.99,94.91 546.12,97.67 546.25,99.82 546.38,96.32 546.51,96.02 546.64,98.08 546.77,98.00 546.90,100.10 547.03,99.31 547.16,98.79 547.29,100.95 547.42,96.47 547.55,94.35 547.68,99.08 547.81,98.65 547.94,96.54 548.07,97.91 548.20,96.26 548.33,102.00 548.46,99.11 548.59,99.50 548.72,94.04 548.85,98.05 548.98,98.61 549.11,97.61 549.24,95.86 549.37,96.35 549.50,92.90 549.63,100.06 549.76,99.87 549.89,96.38 550.02,94.95 550.15,97.26 550.28,96.36 550.41,100.10 550.54,96.76 550.67,101.64 550.80,96.50 550.93,94.09 551.06,99.17 551.19,96.63 551.32,97.25 551.45,97.82 551.58,99.16 551.71,94.51 551.84,102.64 551.97,99.02 552.10,96.60 552.23,100.87 552.36,94.80 552.49,97.98 552.62,100.75 552.75,97.05 552.88,91.11 553.01,96.64 553.14,99.24 553.27,98.06 553.40,98.37 553.53,99.72 553.66,96.15 553.79,95.32 553.92,95.32 554.05,99.40 554.18,98.57 554.31,95.94 554.44,97.26 554.57,96.79 554.70,97.17 554.83,102.40 554.96,100.70 555.09,97.64 555.22,97.95 555.35,99.32 555.48,97.61 555.61,95.64 555.74,97.20 555.87,97.97 556.00,98.45 556.13,99.25 556.26,96.14 556.39,94.91 556.52,101.14 556.65,95.41 556.78,99.49 556.91,94.74 557.04,98.33 557.17,98.61 557.30,96.91 557.43,93.78 557.56,96.46 557.69,96.19 557.82,98.21 557.95,94.74 558.08,98.34 558.21,96.47 558.34,98.23 558.47,98.56 558.60,92.49 558.73,97.15 558.86,98.10 558.99,97.24 559.12,95.37 559.25,97.92 559.38,94.11 559.51,98.56 559.64,95.18 559.77,97.13 559.90,97.79 560.03,98.38 560.16,94.70 560.29,94.56 560.42,106.22 560.55,95.78 560.68,100.67 560.81,97.19 560.94,90.90 561.07,92.09 561.20,90.27 561.33,98.17 561.46,97.76 561.59,97.61 561.72,96.09 561.85,93.94 561.98,100.48 562.11,94.63 562.24,98.29 562.37,96.33 562.50,96.01 562.63,98.99 562.76,96.14 562.89,99.71 563.02,100.04 563.15,102.23 563.28,98.16 563.41,95.96 563.54,92.46 563.67,96.78 563.80,101.25 563.93,100.70 564.06,99.44 564.19,103.26 564.32,92.96 564.45,96.91 564.58,94.67 564.71,97.80 564.84,92.95 564.97,98.14 565.10,100.61 565.23,95.91 565.36,96.82 565.49,95.56 565.62,96.38 565.75,99.14 565.88,96.59 566.01,100.52 566.14,100.47 566.27,95.83 566.40,94.39 566.53,94.14 566.66,97.74 566.79,94.38 566.92,98.79 567.05,98.06 567.18,93.77 567.31,94.18 567.44,95.09 567.57,95.80 567.70,99.16 567.83,96.50 567.96,96.24 568.09,97.14 568.22,100.52 568.35,101.67 568.48,100.40 568.61,102.11 568.74,95.80 568.87,98.06 569.00,104.57 569.13,95.16 569.26,100.10 569.39,99.46 569.52,96.79 569.65,98.76 569.78,93.25 569.91,103.84 570.04,99.04 570.17,99.23 570.30,98.58 570.43,100.56 570.56,96.77 570.69,99.99 570.82,98.04 570.95,101.33 571.08,95.67 571.21,100.32 571.34,95.51 571.47,102.19 571.60,96.75 571.73,101.34 571.86,95.08 571.99,100.82 572.12,100.27 572.25,98.68 572.38,97.90 572.51,96.50 572.64,97.10 572.77,98.92 572.90,99.86 573.03,96.36 573.16,99.95 573.29,95.48 573.42,95.67 573.55,95.97 573.68,98.73 573.81,98.52 573.94,96.69 574.07,98.48 574.20,96.67 574.33,100.47 574.46,105.15 574.59,98.92 574.72,102.91 574.85,96.53 574.98,99.31 575.11,100.76 575.24,95.70 575.37,98.57 575.50,95.61 575.63,100.61 575.76,98.70 575.89,100.40 576.02,100.13 576.15,98.96 576.28,101.24 576.41,100.32 576.54,92.41 576.67,94.96 576.80,97.00 576.93,99.50 577.06,98.13 577.19,100.41 577.32,95.92 577.45,94.84 577.58,94.17 577.71,97.38 577.84,93.98 577.97,92.89 578.10,94.29 578.23,100.48 578.36,97.61 578.49,101.54 578.62,99.68 578.75,98.75 578.88,96.99 579.01,98.81 579.14,97.13 579.27,98.17 579.40,98.93 579.53,97.53 579.66,98.71 579.79,97.51 579.92,95.02 580.05,97.94 580.18,101.80 580.31,98.07 580.44,98.68 580.57,97.11 580.70,96.74 580.83,96.51 580.96,99.29 581.09,93.34 581.22,94.79 581.35,95.11 581.48,101.30 581.61,96.32 581.74,99.34 581.87,97.82 582.00,98.75 582.13,96.80 582.26,95.47 582.39,97.28 582.52,99.33 582.65,96.19 582.78,96.82 582.91,100.31 583.04,95.85 583.17,99.77 583.30,98.94 583.43,100.92 583.56,100.17 583.69,95.10 583.82,98.55 583.95,94.94 584.08,100.91 584.21,96.08 584.34,91.29 584.47,92.62 584.60,95.41 584.73,95.75 584.86,93.24 584.99,99.47 585.12,100.84 585.25,100.38 585.38,98.57 585.51,97.29 585.64,101.07 585.77,95.53 585.90,102.78 586.03,97.12 586.16,99.20 586.29,97.80 586.42,98.07 586.55,96.97 586.68,99.37 586.81,103.04 586.94,97.37 587.07,96.13 587.20,101.18 587.33,97.73 587.46,96.62 587.59,93.75 587.72,93.86 587.85,95.61 587.98,97.76 588.11,94.00 588.24,97.14 588.37,94.43 588.50,93.34 588.63,94.32 588.76,97.05 588.89,94.95 589.02,99.27 589.15,99.93 589.28,95.99 589.41,98.78 589.54,95.09 589.67,98.06 589.80,99.00 589.93,101.19 590.06,97.03 590.19,97.49 590.32,95.53 590.45,100.06 590.58,94.10 590.71,96.65 590.84,96.74 590.97,94.61 591.10,93.91 591.23,96.44 591.36,99.89 591.49,100.04 591.62,101.71 591.75,94.82 591.88,98.10 592.01,96.79 592.14,95.42 592.27,93.05 592.40,97.08 592.53,97.32 592.66,92.59 592.79,96.62 592.92,97.66 593.05,94.35 593.18,96.66 593.31,97.23 593.44,96.60 593.57,98.44 593.70,97.99 593.83,100.08 593.96,94.49 594.09,101.34 594.22,95.63 594.35,98.79 594.48,93.51 594.61,100.01 594.74,100.30 594.87,95.11 595.00,94.41 595.13,98.67 595.26,98.09 595.39,96.95 595.52,94.17 595.65,95.09 595.78,100.51 595.91,99.67 596.04,92.98 596.17,99.13 596.30,93.87 596.43,97.83 596.56,106.86 596.69,95.14 596.82,93.28 596.95,102.91 597.08,101.99 597.21,99.83 597.34,100.71 597.47,97.45 597.60,97.65 597.73,103.59 597.86,96.74 597.99,98.09 598.12,94.62 598.25,94.26 598.38,98.21 598.51,97.07 598.64,94.20 598.77,98.44 598.90,98.10 599.03,96.92 599.16,99.55 599.29,99.03 599.42,95.80 599.55,94.38 599.68,95.31 599.81,99.37 599.94,97.10 600.07,101.90 600.20,100.72 600.33,100.02 600.46,102.69 600.59,101.62 600.72,94.23 600.85,97.69 600.98,96.55 601.11,98.06 601.24,94.23 601.37,93.33 601.50,98.87 601.63,97.49 601.76,102.30 601.89,94.69 602.02,97.84 602.15,99.73 602.28,95.68 602.41,99.65 602.54,99.48 602.67,101.72 602.80,94.66 602.93,95.88 603.06,99.67 603.19,96.44 603.32,97.03 603.45,92.75 603.58,97.04 603.71,98.19 603.84,99.86 603.97,100.42 604.10,92.93 604.23,100.91 604.36,96.03 604.49,99.98 604.62,95.77 604.75,98.73 604.88,99.58 605.01,98.75 605.14,94.64 605.27,96.85 605.40,97.56 605.53,95.96 605.66,98.94 605.79,98.45 605.92,99.25 606.05,93.72 606.18,95.30 606.31,97.27 606.44,97.93 606.57,99.02 606.70,99.23 606.83,98.00 606.96,94.79 607.09,92.78 607.22,101.10 607.35,97.71 607.48,95.37 607.61,96.79 607.74,97.16 607.87,91.10 608.00,97.44 608.13,94.95 608.26,104.45 608.39,99.02 608.52,96.75 608.65,94.71 608.78,97.87 608.91,100.72 609.04,92.45 609.17,90.31 609.30,95.05 609.43,100.43 609.56,94.87 609.69,92.84 609.82,97.94 609.95,101.40 610.08,97.60 610.21,95.08 610.34,102.19 610.47,101.53 610.60,92.83 610.73,96.92 610.86,97.63 610.99,96.05 611.12,101.09 611.25,94.95 611.38,93.72 611.51,98.67 611.64,98.32 611.77,97.20 611.90,96.95 612.03,94.35 612.16,95.20 612.29,102.56 612.42,100.07 612.55,99.11 612.68,102.09 612.81,94.05 612.94,99.92 613.07,92.12 613.20,96.78 613.33,95.50 613.46,95.39 613.59,97.58 613.72,96.93 613.85,101.31 613.98,95.91 614.11,98.75 614.24,95.33 614.37,95.01 614.50,98.45 614.63,91.82 614.76,97.33 614.89,98.75 615.02,95.14 615.15,98.25 615.28,98.14 615.41,99.50 615.54,91.56 615.67,96.27 615.80,97.28 615.93,93.91 616.06,100.31 616.19,99.93 616.32,98.97 616.45,104.46 616.58,97.56 616.71,97.58 616.84,96.18 616.97,98.20 617.10,95.66 617.23,95.27 617.36,95.68 617.49,97.45 617.62,94.59 617.75,96.81 617.88,96.41 618.01,96.20 618.14,98.91 618.27,93.00 618.40,95.88 618.53,100.25 618.66,98.88 618.79,97.39 618.92,93.95 619.05,97.95 619.18,100.47 619.31,99.49 619.44,95.50 619.57,96.74 619.70,96.93 619.83,96.67 619.96,93.79 620.09,96.95 620.22,95.57 620.35,95.04 620.48,98.60 620.61,95.94 620.74,95.99 620.87,99.04 621.00,96.17 621.13,99.45 621.26,97.26 621.39,95.37 621.52,96.50 621.65,97.81 621.78,96.44 621.91,103.62 622.04,94.41 622.17,91.71 622.30,101.60 622.43,96.85 622.56,97.90 622.69,100.14 622.82,99.01 622.95,98.70 623.08,94.93 623.21,96.61 623.34,97.75 623.47,99.75 623.60,96.77 623.73,97.78 623.86,100.14 623.99,97.79 624.12,96.89 624.25,93.46 624.38,91.03 624.51,97.31 624.64,101.25 624.77,102.88 624.90,99.09 625.03,96.34 625.16,99.99 625.29,98.02 625.42,99.02 625.55,99.09 625.68,94.65 625.81,98.49 625.94,97.66 626.07,99.47 626.20,101.61 626.33,103.10 626.46,95.70 626.59,95.94 626.72,106.98 626.85,99.09 626.98,101.81 627.11,99.50 627.24,98.12 627.37,99.99 627.50,96.06 627.63,98.29 627.76,97.49 627.89,97.11 628.02,95.46 628.15,100.39 628.28,99.14 628.41,99.64 628.54,100.06 628.67,97.99 628.80,102.29 628.93,94.24 629.06,96.45 629.19,99.23 629.32,101.21 629.45,94.92 629.58,98.53 629.71,96.56 629.84,95.71 629.97,98.61 630.10,97.75 630.23,98.54 630.36,96.94 630.49,107.10 630.62,103.40 630.75,100.52 630.88,101.89 631.01,97.43 631.14,98.46 631.27,98.95 631.40,97.89 631.53,97.34 631.66,101.77 631.79,93.10 631.92,100.60 632.05,95.10 632.18,100.65 632.31,99.46 632.44,95.57 632.57,102.71 632.70,94.07 632.83,98.52 632.96,98.85 633.09,99.35 633.22,102.38 633.35,99.28 633.48,98.30 633.61,103.41 633.74,97.05 633.87,97.08 634.00,97.32 634.13,96.59 634.26,95.33 634.39,96.30 634.52,100.12 634.65,96.29 634.78,100.16 634.91,97.62 635.04,99.77 635.17,99.71 635.30,97.69 635.43,93.50 635.56,100.35 635.69,94.82 635.82,100.99 635.95,100.60 636.08,100.64 636.21,104.25 636.34,102.71 636.47,103.32 636.60,97.84 636.73,97.73 636.86,93.50 636.99,96.12 637.12,98.98 637.25,96.45 637.38,97.34 637.51,94.92 637.64,99.96 637.77,101.57 637.90,96.64 638.03,98.78 638.16,94.98 638.29,98.49 638.42,98.62 638.55,99.43 638.68,87.59 638.81,101.10 638.94,97.82 639.07,94.50 639.20,95.02 639.33,96.74 639.46,98.40 639.59,95.66 639.72,95.17 639.85,100.51 639.98,94.98 640.11,99.61 640.24,97.86 640.37,101.78 640.50,96.29 640.63,92.21 640.76,100.69 640.89,97.24 641.02,99.09 641.15,100.01 641.28,100.90 641.41,95.59 641.54,96.70 641.67,96.03 641.80,100.00 641.93,95.03 642.06,97.38 642.19,100.70 642.32,93.73 642.45,96.58 642.58,94.84 642.71,97.72 642.84,103.38 642.97,95.55 643.10,96.25 643.23,99.44 643.36,96.47 643.49,95.69 643.62,96.39 643.75,96.99 643.88,97.19 644.01,96.97 644.14,96.89 644.27,95.81 644.40,94.65 644.53,99.48 644.66,97.73 644.79,95.37 644.92,95.68 645.05,97.16 645.18,98.36 645.31,102.26 645.44,96.23 645.57,99.19 645.70,99.08 645.83,97.60 645.96,101.64 646.09,96.78 646.22,99.42 646.35,96.28 646.48,99.56 646.61,97.88 646.74,101.63 646.87,100.97 647.00,96.40 647.13,97.14 647.26,99.31 647.39,99.22 647.52,96.73 647.65,100.93 647.78,101.41 647.91,96.96 648.04,101.58 648.17,93.83 648.30,98.62 648.43,99.98 648.56,98.03 648.69,96.15 648.82,103.07 648.95,93.19 649.08,103.30 649.21,101.38 649.34,98.73 649.47,95.37 649.60,103.45 649.73,99.13 649.86,96.31 649.99,97.74 650.12,99.27 650.25,96.82 650.38,97.10 650.51,98.75 650.64,103.23 650.77,94.75 650.90,102.31 651.03,93.47 651.16,97.36 651.29,99.04 651.42,93.78 651.55,99.09 651.68,99.26 651.81,94.64 651.94,96.16 652.07,103.15 652.20,98.83 652.33,98.48 652.46,96.40 652.59,104.33 652.72,99.61 652.85,93.09 652.98,101.74 653.11,98.24 653.24,96.21 653.37,94.29 653.50,99.86 653.63,95.19 653.76,103.68 653.89,95.36 654.02,100.50 654.15,94.73 654.28,94.49 654.41,100.90 654.54,100.53 654.67,94.84 654.80,98.11 654.93,96.71 655.06,101.21 655.19,97.18 655.32,101.18 655.45,98.97 655.58,99.51 655.71,97.99 655.84,93.61 655.97,97.48 656.10,96.71 656.23,99.19 656.36,99.43 656.49,99.45 656.62,98.78 656.75,99.51 656.88,98.03 657.01,96.80 657.14,99.02 657.27,98.68 657.40,96.86 657.53,101.20 657.66,96.61 657.79,94.83 657.92,97.04 658.05,97.10 658.18,94.46 658.31,100.97 658.44,99.38 658.57,99.77 658.70,99.37 658.83,100.52 658.96,95.16 659.09,92.80 659.22,93.84 659.35,103.87 659.48,101.17 659.61,96.83 659.74,100.56 659.87,99.89 660.00,95.10 660.13,98.07 660.26,96.68 660.39,96.89 660.52,100.86 660.65,100.22 660.78,102.59 660.91,96.06 661.04,97.06 661.17,102.42 661.30,101.37 661.43,93.15 661.56,103.32 661.69,93.88 661.82,96.61 661.95,101.29 662.08,100.17 662.21,96.30 662.34,93.93 662.47,94.32 662.60,95.44 662.73,94.46 662.86,102.36 662.99,94.62 663.12,99.82 663.25,95.25 663.38,93.52 663.51,98.19 663.64,98.88 663.77,97.73 663.90,95.48 664.03,100.84 664.16,100.24 664.29,97.43 664.42,101.08 664.55,94.92 664.68,96.93 664.81,95.03 664.94,99.93 665.07,96.39 665.20,100.24 665.33,93.72 665.46,97.42 665.59,98.56 665.72,96.10 665.85,96.53 665.98,95.54 666.11,98.00 666.24,96.16 666.37,102.27 666.50,98.37 666.63,98.00 666.76,100.23 666.89,99.47 667.02,98.26 667.15,98.65 667.28,96.08 667.41,97.72 667.54,94.62 667.67,96.29 667.80,97.72 667.93,97.63 668.06,101.20 668.19,96.53 668.32,96.23 668.45,92.28 668.58,97.86 668.71,100.15 668.84,96.13 668.97,94.97 669.10,94.94 669.23,100.40 669.36,96.45 669.49,99.04 669.62,102.11 669.75,97.06 669.88,93.82 670.01,94.08 670.14,95.17 670.27,97.14 670.40,97.89 670.53,99.97 670.66,97.79 670.79,89.11 670.92,94.38 671.05,99.36 671.18,99.36 671.31,96.85 671.44,92.66 671.57,95.58 671.70,92.96 671.83,93.32 671.96,91.49 672.09,95.25 672.22,98.52 672.35,97.56 672.48,99.26 672.61,100.00 672.74,98.37 672.87,99.54 673.00,94.29 673.13,95.78 673.26,94.74 673.39,99.35 673.52,90.84 673.65,96.63 673.78,96.76 673.91,98.29 674.04,100.26 674.17,97.54 674.30,99.26 674.43,98.17 674.56,101.02 674.69,96.62 674.82,97.95 674.95,94.50 675.08,93.35 675.21,97.92 675.34,99.85 675.47,96.08 675.60,100.05 675.73,97.76 675.86,95.15 675.99,93.31 676.12,94.63 676.25,99.87 676.38,100.45 676.51,95.36 676.64,96.98 676.77,91.14 676.90,95.11 677.03,98.43 677.16,96.94 677.29,99.73 677.42,98.45 677.55,97.96 677.68,98.75 677.81,98.99 677.94,100.14 678.07,94.74 678.20,97.07 678.33,99.22 678.46,99.04 678.59,93.66 678.72,97.23 678.85,102.57 678.98,98.34 679.11,98.40 679.24,95.85 679.37,97.48 679.50,94.96 679.63,95.68 679.76,99.84 679.89,99.85 680.02,98.71 680.15,97.52 680.28,97.60 680.41,98.77 680.54,102.58 680.67,97.91 680.80,98.91 680.93,99.94 681.06,96.19 681.19,100.13 681.32,95.88 681.45,94.67 681.58,93.24 681.71,99.70 681.84,94.03 681.97,100.42 682.10,95.86 682.23,99.97 682.36,96.27 682.49,93.45 682.62,94.86 682.75,94.58 682.88,96.78 683.01,97.12 683.14,100.08 683.27,103.85 683.40,100.47 683.53,103.65 683.66,98.23 683.79,96.94 683.92,94.37" fill="none" stroke="#000" stroke-width="0.6" stroke-linejoin="round" stroke-linejoin="miter"/>
</g>
<rect x="460" y="18.8" width="223.5" height="1.4" fill="#000"/>
<text x="585.2" y="15.0" font-size="10" text-anchor="middle" font-weight="normal" font-style="normal" fill="#000">CNO</text>
<path d="M661.8,114 L661.8,128.2 L678.4,128.2" fill="none" stroke="#000" stroke-width="1.2"/>
<text x="658.4" y="121.8" font-size="10" text-anchor="middle" font-weight="normal" font-style="normal" fill="#000" transform="rotate(-90 658.4 121.8)">20 mV</text>
<text x="660.4" y="142.2" font-size="10" text-anchor="start" font-weight="normal" font-style="normal" fill="#000">50 s</text>
<line x1="53.2" y1="156.4" x2="53.2" y2="267.5" stroke="#000" stroke-width="1.25"/>
<line x1="45.0" y1="164.89999999999998" x2="53.2" y2="164.89999999999998" stroke="#000" stroke-width="1.1"/>
<text x="42.6" y="168.49999999999997" font-size="10" text-anchor="end" font-weight="normal" font-style="normal" fill="#000">39</text>
<line x1="45.0" y1="199.1" x2="53.2" y2="199.1" stroke="#000" stroke-width="1.1"/>
<text x="42.6" y="202.7" font-size="10" text-anchor="end" font-weight="normal" font-style="normal" fill="#000">35</text>
<line x1="45.0" y1="233.3" x2="53.2" y2="233.3" stroke="#000" stroke-width="1.1"/>
<text x="42.6" y="236.9" font-size="10" text-anchor="end" font-weight="normal" font-style="normal" fill="#000">31</text>
<line x1="45.0" y1="267.5" x2="53.2" y2="267.5" stroke="#000" stroke-width="1.1"/>
<text x="42.6" y="271.1" font-size="10" text-anchor="end" font-weight="normal" font-style="normal" fill="#000">27</text>
<line x1="53.2" y1="258.6" x2="241.6" y2="258.6" stroke="#000" stroke-width="1.25"/>
<line x1="53.2" y1="258.6" x2="53.2" y2="266.9" stroke="#000" stroke-width="1.1"/>
<text x="52.900000000000006" y="279.3" font-size="10" text-anchor="middle" font-weight="normal" font-style="normal" fill="#000">-1</text>
<line x1="72.01" y1="258.6" x2="72.01" y2="266.9" stroke="#000" stroke-width="1.1"/>
<text x="72.01" y="279.3" font-size="10" text-anchor="middle" font-weight="normal" font-style="normal" fill="#000">0</text>
<line x1="90.82" y1="258.6" x2="90.82" y2="266.9" stroke="#000" stroke-width="1.1"/>
<text x="90.82" y="279.3" font-size="10" text-anchor="middle" font-weight="normal" font-style="normal" fill="#000">1</text>
<line x1="109.63" y1="258.6" x2="109.63" y2="266.9" stroke="#000" stroke-width="1.1"/>
<text x="109.63" y="279.3" font-size="10" text-anchor="middle" font-weight="normal" font-style="normal" fill="#000">2</text>
<line x1="128.44" y1="258.6" x2="128.44" y2="266.9" stroke="#000" stroke-width="1.1"/>
<text x="128.44" y="279.3" font-size="10" text-anchor="middle" font-weight="normal" font-style="normal" fill="#000">3</text>
<line x1="147.25" y1="258.6" x2="147.25" y2="266.9" stroke="#000" stroke-width="1.1"/>
<text x="147.25" y="279.3" font-size="10" text-anchor="middle" font-weight="normal" font-style="normal" fill="#000">4</text>
<line x1="166.06" y1="258.6" x2="166.06" y2="266.9" stroke="#000" stroke-width="1.1"/>
<text x="166.06" y="279.3" font-size="10" text-anchor="middle" font-weight="normal" font-style="normal" fill="#000">5</text>
<line x1="184.87" y1="258.6" x2="184.87" y2="266.9" stroke="#000" stroke-width="1.1"/>
<text x="184.87" y="279.3" font-size="10" text-anchor="middle" font-weight="normal" font-style="normal" fill="#000">6</text>
<line x1="203.68" y1="258.6" x2="203.68" y2="266.9" stroke="#000" stroke-width="1.1"/>
<text x="203.68" y="279.3" font-size="10" text-anchor="middle" font-weight="normal" font-style="normal" fill="#000">7</text>
<line x1="222.49" y1="258.6" x2="222.49" y2="266.9" stroke="#000" stroke-width="1.1"/>
<text x="222.49" y="279.3" font-size="10" text-anchor="middle" font-weight="normal" font-style="normal" fill="#000">8</text>
<line x1="241.3" y1="258.6" x2="241.3" y2="266.9" stroke="#000" stroke-width="1.1"/>
<text x="241.3" y="279.3" font-size="10" text-anchor="middle" font-weight="normal" font-style="normal" fill="#000">9</text>
<text x="147.2" y="295.4" font-size="10" text-anchor="middle" font-weight="normal" font-style="normal" fill="#000">Time after injection (h)</text>
<text x="23.7" y="213.3" font-size="10" text-anchor="middle" font-weight="normal" font-style="normal" fill="#000" transform="rotate(-90 23.7 213.3)">Tcore (°C)</text>
<text x="57.0" y="154.3" font-size="10" text-anchor="start" font-weight="normal" font-style="normal" fill="#000">Saline/CNO</text>
<line x1="71.4" y1="160.7" x2="71.4" y2="258.6" stroke="#000" stroke-width="1.1" stroke-dasharray="3 2"/>
<polygon points="53.20,179.98 53.90,180.13 54.60,180.42 55.30,180.29 56.00,180.42 56.70,180.56 57.40,180.46 58.10,180.73 58.80,180.89 59.50,181.07 60.20,180.83 60.90,181.05 61.60,181.06 62.30,181.54 63.00,181.60 63.70,181.39 64.40,181.97 65.10,182.08 65.80,182.04 66.50,182.06 67.20,181.83 67.90,181.76 68.60,182.01 69.30,181.78 70.00,181.85 70.70,181.70 71.40,181.42 72.10,181.53 72.80,181.83 73.50,182.35 74.20,182.76 74.90,184.02 75.60,185.14 76.30,187.24 77.00,190.26 77.70,193.29 78.40,196.76 79.10,199.88 79.80,202.92 80.50,205.14 81.20,206.90 81.90,208.81 82.60,210.79 83.30,212.38 84.00,214.10 84.70,215.29 85.40,216.88 86.10,217.93 86.80,218.97 87.50,219.67 88.20,220.01 88.90,220.87 89.60,221.97 90.30,222.42 91.00,223.23 91.70,223.50 92.40,223.89 93.10,224.72 93.80,225.35 94.50,225.65 95.20,226.12 95.90,226.80 96.60,227.45 97.30,227.64 98.00,227.62 98.70,227.99 99.40,228.21 100.10,228.49 100.80,229.16 101.50,229.15 102.20,229.60 102.90,229.71 103.60,229.74 104.30,230.18 105.00,230.04 105.70,230.46 106.40,230.36 107.10,230.68 107.80,230.74 108.50,230.93 109.20,231.45 109.90,231.53 110.60,231.39 111.30,231.79 112.00,231.56 112.70,231.76 113.40,232.10 114.10,232.10 114.80,231.94 115.50,232.49 116.20,232.21 116.90,232.34 117.60,232.70 118.30,232.59 119.00,232.68 119.70,232.67 120.40,232.75 121.10,233.03 121.80,232.90 122.50,233.12 123.20,233.04 123.90,233.12 124.60,233.41 125.30,233.21 126.00,233.29 126.70,233.47 127.40,233.17 128.10,233.19 128.80,233.61 129.50,233.60 130.20,233.32 130.90,233.23 131.60,233.45 132.30,233.49 133.00,233.05 133.70,233.37 134.40,233.28 135.10,233.08 135.80,232.92 136.50,232.71 137.20,232.61 137.90,233.01 138.60,232.59 139.30,232.76 140.00,232.48 140.70,232.65 141.40,232.42 142.10,232.16 142.80,231.99 143.50,232.15 144.20,231.71 144.90,231.68 145.60,231.73 146.30,231.77 147.00,231.54 147.70,231.26 148.40,231.46 149.10,231.00 149.80,230.79 150.50,230.76 151.20,230.68 151.90,230.32 152.60,230.21 153.30,230.14 154.00,230.08 154.70,229.69 155.40,229.64 156.10,229.73 156.80,229.61 157.50,229.28 158.20,229.13 158.90,228.91 159.60,228.52 160.30,228.32 161.00,228.19 161.70,228.52 162.40,228.29 163.10,228.30 163.80,227.71 164.50,227.90 165.20,227.71 165.90,227.71 166.60,227.39 167.30,227.61 168.00,227.03 168.70,227.14 169.40,227.12 170.10,227.08 170.80,226.83 171.50,226.64 172.20,226.52 172.90,226.41 173.60,225.96 174.30,225.96 175.00,225.90 175.70,225.72 176.40,225.32 177.10,225.34 177.80,225.21 178.50,224.90 179.20,224.75 179.90,224.47 180.60,224.42 181.30,224.29 182.00,223.88 182.70,224.02 183.40,224.05 184.10,223.85 184.80,223.64 185.50,223.32 186.20,223.35 186.90,223.13 187.60,222.92 188.30,222.98 189.00,222.46 189.70,222.65 190.40,222.15 191.10,222.30 191.80,222.10 192.50,221.84 193.20,221.94 193.90,221.70 194.60,221.63 195.30,221.64 196.00,221.18 196.70,220.92 197.40,220.93 198.10,220.98 198.80,220.61 199.50,220.46 200.20,220.69 200.90,220.44 201.60,220.20 202.30,220.30 203.00,219.89 203.70,219.93 204.40,219.56 205.10,219.55 205.80,219.61 206.50,219.54 207.20,219.39 207.90,219.01 208.60,218.98 209.30,218.72 210.00,218.50 210.70,218.52 211.40,218.53 212.10,218.37 212.80,218.14 213.50,218.09 214.20,217.59 214.90,217.37 215.60,217.35 216.30,217.10 217.00,216.91 217.70,216.84 218.40,216.78 219.10,216.55 219.80,216.30 220.50,216.39 221.20,216.28 221.90,215.84 222.60,215.47 223.30,215.27 224.00,215.52 224.70,214.92 225.40,215.08 226.10,214.83 226.80,214.53 227.50,214.59 228.20,214.02 228.90,213.91 229.60,213.89 230.30,213.51 231.00,213.79 231.70,213.36 232.40,213.18 233.10,213.00 233.80,213.16 234.50,212.94 235.20,212.90 235.90,212.79 236.60,212.73 237.30,212.68 238.00,212.41 238.70,212.03 239.40,212.04 240.10,211.76 240.80,211.55 240.80,228.09 240.10,228.23 239.40,228.44 238.70,228.35 238.00,228.65 237.30,228.84 236.60,228.82 235.90,228.80 235.20,228.85 234.50,228.81 233.80,228.96 233.10,228.72 232.40,228.82 231.70,228.93 231.00,229.28 230.30,228.93 229.60,229.23 228.90,229.17 228.20,229.21 227.50,229.70 226.80,229.56 226.10,229.80 225.40,229.97 224.70,229.74 224.00,230.26 223.30,229.94 222.60,230.06 221.90,230.35 221.20,230.72 220.50,230.75 219.80,230.59 219.10,230.76 218.40,230.92 217.70,230.90 217.00,230.89 216.30,231.01 215.60,231.18 214.90,231.13 214.20,231.27 213.50,231.70 212.80,231.67 212.10,231.82 211.40,231.91 210.70,231.82 210.00,231.73 209.30,231.88 208.60,232.06 207.90,232.02 207.20,232.32 206.50,232.39 205.80,232.39 205.10,232.25 204.40,232.19 203.70,232.48 203.00,232.36 202.30,232.70 201.60,232.53 200.90,232.69 200.20,232.86 199.50,232.55 198.80,232.63 198.10,232.93 197.40,232.80 196.70,232.72 196.00,232.90 195.30,233.29 194.60,233.20 193.90,233.20 193.20,233.36 192.50,233.19 191.80,233.37 191.10,233.49 190.40,233.27 189.70,233.69 189.00,233.43 188.30,233.87 187.60,233.74 186.90,233.88 186.20,234.02 185.50,233.92 184.80,234.15 184.10,234.30 183.40,234.42 182.70,234.31 182.00,234.10 181.30,234.43 180.60,234.48 179.90,234.46 179.20,234.69 178.50,234.78 177.80,235.03 177.10,235.11 176.40,235.03 175.70,235.37 175.00,235.50 174.30,235.50 173.60,235.45 172.90,235.84 172.20,235.89 171.50,235.96 170.80,236.09 170.10,236.28 169.40,236.27 168.70,236.24 168.00,236.07 167.30,236.59 166.60,236.32 165.90,236.58 165.20,236.52 164.50,236.66 163.80,236.42 163.10,236.95 162.40,236.88 161.70,237.05 161.00,236.67 160.30,236.74 159.60,236.88 158.90,237.22 158.20,237.38 157.50,237.48 156.80,237.75 156.10,237.82 155.40,237.67 154.70,237.66 154.00,238.00 153.30,238.01 152.60,238.02 151.90,238.08 151.20,238.38 150.50,238.40 149.80,238.37 149.10,238.52 148.40,238.94 147.70,238.67 147.00,238.90 146.30,239.07 145.60,238.98 144.90,238.87 144.20,238.85 143.50,239.23 142.80,239.01 142.10,239.13 141.40,239.34 140.70,239.51 140.00,239.28 139.30,239.53 138.60,239.32 137.90,239.70 137.20,239.26 136.50,239.32 135.80,239.50 135.10,239.62 134.40,239.78 133.70,239.84 133.00,239.48 132.30,239.88 131.60,239.80 130.90,239.55 130.20,239.60 129.50,239.84 128.80,239.81 128.10,239.36 127.40,239.30 126.70,239.56 126.00,239.34 125.30,239.22 124.60,239.39 123.90,239.06 123.20,238.94 122.50,238.98 121.80,238.73 121.10,238.83 120.40,238.50 119.70,238.39 119.00,238.36 118.30,238.23 117.60,238.31 116.90,237.91 116.20,237.74 115.50,237.98 114.80,237.39 114.10,237.52 113.40,237.48 112.70,237.11 112.00,236.87 111.30,237.06 110.60,236.63 109.90,236.72 109.20,236.58 108.50,236.01 107.80,235.76 107.10,235.65 106.40,235.27 105.70,235.32 105.00,234.84 104.30,234.92 103.60,234.43 102.90,234.34 102.20,234.17 101.50,233.67 100.80,233.62 100.10,232.90 99.40,232.56 98.70,232.28 98.00,231.86 97.30,231.83 96.60,231.58 95.90,230.87 95.20,230.13 94.50,229.61 93.80,229.26 93.10,228.57 92.40,227.68 91.70,227.23 91.00,226.91 90.30,226.05 89.60,225.54 88.90,224.37 88.20,223.45 87.50,223.05 86.80,222.29 86.10,221.18 85.40,220.07 84.70,218.41 84.00,217.17 83.30,215.39 82.60,213.73 81.90,211.69 81.20,209.72 80.50,207.90 79.80,205.62 79.10,202.51 78.40,199.33 77.70,195.79 77.00,192.70 76.30,189.62 75.60,187.46 74.90,186.27 74.20,184.96 73.50,184.49 72.80,183.91 72.10,183.54 71.40,183.42 70.70,183.70 70.00,183.85 69.30,183.78 68.60,184.01 67.90,183.76 67.20,183.83 66.50,184.06 65.80,184.04 65.10,184.08 64.40,183.97 63.70,183.39 63.00,183.60 62.30,183.54 61.60,183.06 60.90,183.05 60.20,182.83 59.50,183.07 58.80,182.89 58.10,182.73 57.40,182.46 56.70,182.56 56.00,182.42 55.30,182.29 54.60,182.42 53.90,182.13 53.20,181.98" fill="#8e5cc0" fill-opacity="1.0" stroke="none"/>
<polyline points="53.20,179.98 53.90,180.13 54.60,180.42 55.30,180.29 56.00,180.42 56.70,180.56 57.40,180.46 58.10,180.73 58.80,180.89 59.50,181.07 60.20,180.83 60.90,181.05 61.60,181.06 62.30,181.54 63.00,181.60 63.70,181.39 64.40,181.97 65.10,182.08 65.80,182.04 66.50,182.06 67.20,181.83 67.90,181.76 68.60,182.01 69.30,181.78 70.00,181.85 70.70,181.70 71.40,181.42 72.10,181.53 72.80,181.83 73.50,182.35 74.20,182.76 74.90,184.02 75.60,185.14 76.30,187.24 77.00,190.26 77.70,193.29 78.40,196.76 79.10,199.88 79.80,202.92 80.50,205.14 81.20,206.90 81.90,208.81 82.60,210.79 83.30,212.38 84.00,214.10 84.70,215.29 85.40,216.88 86.10,217.93 86.80,218.97 87.50,219.67 88.20,220.01 88.90,220.87 89.60,221.97 90.30,222.42 91.00,223.23 91.70,223.50 92.40,223.89 93.10,224.72 93.80,225.35 94.50,225.65 95.20,226.12 95.90,226.80 96.60,227.45 97.30,227.64 98.00,227.62 98.70,227.99 99.40,228.21 100.10,228.49 100.80,229.16 101.50,229.15 102.20,229.60 102.90,229.71 103.60,229.74 104.30,230.18 105.00,230.04 105.70,230.46 106.40,230.36 107.10,230.68 107.80,230.74 108.50,230.93 109.20,231.45 109.90,231.53 110.60,231.39 111.30,231.79 112.00,231.56 112.70,231.76 113.40,232.10 114.10,232.10 114.80,231.94 115.50,232.49 116.20,232.21 116.90,232.34 117.60,232.70 118.30,232.59 119.00,232.68 119.70,232.67 120.40,232.75 121.10,233.03 121.80,232.90 122.50,233.12 123.20,233.04 123.90,233.12 124.60,233.41 125.30,233.21 126.00,233.29 126.70,233.47 127.40,233.17 128.10,233.19 128.80,233.61 129.50,233.60 130.20,233.32 130.90,233.23 131.60,233.45 132.30,233.49 133.00,233.05 133.70,233.37 134.40,233.28 135.10,233.08 135.80,232.92 136.50,232.71 137.20,232.61 137.90,233.01 138.60,232.59 139.30,232.76 140.00,232.48 140.70,232.65 141.40,232.42 142.10,232.16 142.80,231.99 143.50,232.15 144.20,231.71 144.90,231.68 145.60,231.73 146.30,231.77 147.00,231.54 147.70,231.26 148.40,231.46 149.10,231.00 149.80,230.79 150.50,230.76 151.20,230.68 151.90,230.32 152.60,230.21 153.30,230.14 154.00,230.08 154.70,229.69 155.40,229.64 156.10,229.73 156.80,229.61 157.50,229.28 158.20,229.13 158.90,228.91 159.60,228.52 160.30,228.32 161.00,228.19 161.70,228.52 162.40,228.29 163.10,228.30 163.80,227.71 164.50,227.90 165.20,227.71 165.90,227.71 166.60,227.39 167.30,227.61 168.00,227.03 168.70,227.14 169.40,227.12 170.10,227.08 170.80,226.83 171.50,226.64 172.20,226.52 172.90,226.41 173.60,225.96 174.30,225.96 175.00,225.90 175.70,225.72 176.40,225.32 177.10,225.34 177.80,225.21 178.50,224.90 179.20,224.75 179.90,224.47 180.60,224.42 181.30,224.29 182.00,223.88 182.70,224.02 183.40,224.05 184.10,223.85 184.80,223.64 185.50,223.32 186.20,223.35 186.90,223.13 187.60,222.92 188.30,222.98 189.00,222.46 189.70,222.65 190.40,222.15 191.10,222.30 191.80,222.10 192.50,221.84 193.20,221.94 193.90,221.70 194.60,221.63 195.30,221.64 196.00,221.18 196.70,220.92 197.40,220.93 198.10,220.98 198.80,220.61 199.50,220.46 200.20,220.69 200.90,220.44 201.60,220.20 202.30,220.30 203.00,219.89 203.70,219.93 204.40,219.56 205.10,219.55 205.80,219.61 206.50,219.54 207.20,219.39 207.90,219.01 208.60,218.98 209.30,218.72 210.00,218.50 210.70,218.52 211.40,218.53 212.10,218.37 212.80,218.14 213.50,218.09 214.20,217.59 214.90,217.37 215.60,217.35 216.30,217.10 217.00,216.91 217.70,216.84 218.40,216.78 219.10,216.55 219.80,216.30 220.50,216.39 221.20,216.28 221.90,215.84 222.60,215.47 223.30,215.27 224.00,215.52 224.70,214.92 225.40,215.08 226.10,214.83 226.80,214.53 227.50,214.59 228.20,214.02 228.90,213.91 229.60,213.89 230.30,213.51 231.00,213.79 231.70,213.36 232.40,213.18 233.10,213.00 233.80,213.16 234.50,212.94 235.20,212.90 235.90,212.79 236.60,212.73 237.30,212.68 238.00,212.41 238.70,212.03 239.40,212.04 240.10,211.76 240.80,211.55" fill="none" stroke="#6a34a6" stroke-width="0.9" stroke-linejoin="round" stroke-dasharray="1 1.2"/>
<polyline points="53.20,181.98 53.90,182.13 54.60,182.42 55.30,182.29 56.00,182.42 56.70,182.56 57.40,182.46 58.10,182.73 58.80,182.89 59.50,183.07 60.20,182.83 60.90,183.05 61.60,183.06 62.30,183.54 63.00,183.60 63.70,183.39 64.40,183.97 65.10,184.08 65.80,184.04 66.50,184.06 67.20,183.83 67.90,183.76 68.60,184.01 69.30,183.78 70.00,183.85 70.70,183.70 71.40,183.42 72.10,183.54 72.80,183.91 73.50,184.49 74.20,184.96 74.90,186.27 75.60,187.46 76.30,189.62 77.00,192.70 77.70,195.79 78.40,199.33 79.10,202.51 79.80,205.62 80.50,207.90 81.20,209.72 81.90,211.69 82.60,213.73 83.30,215.39 84.00,217.17 84.70,218.41 85.40,220.07 86.10,221.18 86.80,222.29 87.50,223.05 88.20,223.45 88.90,224.37 89.60,225.54 90.30,226.05 91.00,226.91 91.70,227.23 92.40,227.68 93.10,228.57 93.80,229.26 94.50,229.61 95.20,230.13 95.90,230.87 96.60,231.58 97.30,231.83 98.00,231.86 98.70,232.28 99.40,232.56 100.10,232.90 100.80,233.62 101.50,233.67 102.20,234.17 102.90,234.34 103.60,234.43 104.30,234.92 105.00,234.84 105.70,235.32 106.40,235.27 107.10,235.65 107.80,235.76 108.50,236.01 109.20,236.58 109.90,236.72 110.60,236.63 111.30,237.06 112.00,236.87 112.70,237.11 113.40,237.48 114.10,237.52 114.80,237.39 115.50,237.98 116.20,237.74 116.90,237.91 117.60,238.31 118.30,238.23 119.00,238.36 119.70,238.39 120.40,238.50 121.10,238.83 121.80,238.73 122.50,238.98 123.20,238.94 123.90,239.06 124.60,239.39 125.30,239.22 126.00,239.34 126.70,239.56 127.40,239.30 128.10,239.36 128.80,239.81 129.50,239.84 130.20,239.60 130.90,239.55 131.60,239.80 132.30,239.88 133.00,239.48 133.70,239.84 134.40,239.78 135.10,239.62 135.80,239.50 136.50,239.32 137.20,239.26 137.90,239.70 138.60,239.32 139.30,239.53 140.00,239.28 140.70,239.51 141.40,239.34 142.10,239.13 142.80,239.01 143.50,239.23 144.20,238.85 144.90,238.87 145.60,238.98 146.30,239.07 147.00,238.90 147.70,238.67 148.40,238.94 149.10,238.52 149.80,238.37 150.50,238.40 151.20,238.38 151.90,238.08 152.60,238.02 153.30,238.01 154.00,238.00 154.70,237.66 155.40,237.67 156.10,237.82 156.80,237.75 157.50,237.48 158.20,237.38 158.90,237.22 159.60,236.88 160.30,236.74 161.00,236.67 161.70,237.05 162.40,236.88 163.10,236.95 163.80,236.42 164.50,236.66 165.20,236.52 165.90,236.58 166.60,236.32 167.30,236.59 168.00,236.07 168.70,236.24 169.40,236.27 170.10,236.28 170.80,236.09 171.50,235.96 172.20,235.89 172.90,235.84 173.60,235.45 174.30,235.50 175.00,235.50 175.70,235.37 176.40,235.03 177.10,235.11 177.80,235.03 178.50,234.78 179.20,234.69 179.90,234.46 180.60,234.48 181.30,234.43 182.00,234.10 182.70,234.31 183.40,234.42 184.10,234.30 184.80,234.15 185.50,233.92 186.20,234.02 186.90,233.88 187.60,233.74 188.30,233.87 189.00,233.43 189.70,233.69 190.40,233.27 191.10,233.49 191.80,233.37 192.50,233.19 193.20,233.36 193.90,233.20 194.60,233.20 195.30,233.29 196.00,232.90 196.70,232.72 197.40,232.80 198.10,232.93 198.80,232.63 199.50,232.55 200.20,232.86 200.90,232.69 201.60,232.53 202.30,232.70 203.00,232.36 203.70,232.48 204.40,232.19 205.10,232.25 205.80,232.39 206.50,232.39 207.20,232.32 207.90,232.02 208.60,232.06 209.30,231.88 210.00,231.73 210.70,231.82 211.40,231.91 212.10,231.82 212.80,231.67 213.50,231.70 214.20,231.27 214.90,231.13 215.60,231.18 216.30,231.01 217.00,230.89 217.70,230.90 218.40,230.92 219.10,230.76 219.80,230.59 220.50,230.75 221.20,230.72 221.90,230.35 222.60,230.06 223.30,229.94 224.00,230.26 224.70,229.74 225.40,229.97 226.10,229.80 226.80,229.56 227.50,229.70 228.20,229.21 228.90,229.17 229.60,229.23 230.30,228.93 231.00,229.28 231.70,228.93 232.40,228.82 233.10,228.72 233.80,228.96 234.50,228.81 235.20,228.85 235.90,228.80 236.60,228.82 237.30,228.84 238.00,228.65 238.70,228.35 239.40,228.44 240.10,228.23 240.80,228.09" fill="none" stroke="#6a34a6" stroke-width="0.9" stroke-linejoin="round" stroke-dasharray="1 1.2"/>
<polygon points="53.20,182.59 53.90,182.89 54.60,182.80 55.30,183.04 56.00,183.11 56.70,182.71 57.40,182.72 58.10,183.43 58.80,183.02 59.50,183.05 60.20,183.73 60.90,183.43 61.60,183.84 62.30,183.66 63.00,183.91 63.70,183.64 64.40,184.14 65.10,184.44 65.80,184.29 66.50,184.43 67.20,184.29 67.90,183.71 68.60,184.18 69.30,183.96 70.00,183.64 70.70,182.02 71.40,181.29 72.10,179.54 72.80,178.10 73.50,176.58 74.20,174.80 74.90,173.32 75.60,171.26 76.30,170.91 77.00,171.26 77.70,172.28 78.40,172.86 79.10,172.87 79.80,173.53 80.50,174.22 81.20,175.45 81.90,175.66 82.60,176.44 83.30,176.81 84.00,177.61 84.70,178.14 85.40,178.65 86.10,179.29 86.80,179.69 87.50,180.34 88.20,180.56 88.90,181.15 89.60,181.49 90.30,182.00 91.00,182.14 91.70,181.45 92.40,181.73 93.10,181.53 93.80,181.20 94.50,180.66 95.20,180.53 95.90,179.99 96.60,180.19 97.30,179.65 98.00,179.09 98.70,178.59 99.40,178.90 100.10,178.74 100.80,178.11 101.50,178.77 102.20,178.51 102.90,178.25 103.60,178.32 104.30,178.64 105.00,178.67 105.70,177.96 106.40,178.36 107.10,177.85 107.80,178.34 108.50,177.98 109.20,178.36 109.90,178.39 110.60,177.88 111.30,178.14 112.00,177.45 112.70,177.12 113.40,177.40 114.10,176.81 114.80,176.80 115.50,177.26 116.20,177.89 116.90,177.99 117.60,178.37 118.30,179.22 119.00,178.60 119.70,178.94 120.40,178.72 121.10,178.13 121.80,178.02 122.50,178.02 123.20,178.12 123.90,178.08 124.60,178.05 125.30,178.10 126.00,178.35 126.70,177.66 127.40,177.24 128.10,177.13 128.80,176.39 129.50,176.09 130.20,176.30 130.90,175.64 131.60,175.37 132.30,174.65 133.00,174.68 133.70,174.52 134.40,173.78 135.10,173.97 135.80,173.69 136.50,173.61 137.20,174.70 137.90,175.21 138.60,176.03 139.30,176.41 140.00,177.33 140.70,178.00 141.40,178.08 142.10,178.73 142.80,179.66 143.50,180.34 144.20,180.21 144.90,180.82 145.60,181.37 146.30,181.59 147.00,182.07 147.70,182.47 148.40,182.96 149.10,183.59 149.80,183.79 150.50,183.93 151.20,184.19 151.90,183.53 152.60,183.89 153.30,183.96 154.00,183.56 154.70,183.42 155.40,183.82 156.10,183.31 156.80,183.20 157.50,183.34 158.20,183.48 158.90,182.94 159.60,183.05 160.30,183.09 161.00,183.63 161.70,183.46 162.40,183.94 163.10,183.54 163.80,183.82 164.50,184.21 165.20,184.55 165.90,184.35 166.60,184.31 167.30,184.37 168.00,184.84 168.70,184.72 169.40,185.36 170.10,185.50 170.80,184.95 171.50,185.00 172.20,185.39 172.90,185.23 173.60,185.33 174.30,184.93 175.00,184.73 175.70,184.83 176.40,185.20 177.10,184.75 177.80,184.79 178.50,184.81 179.20,184.79 179.90,184.75 180.60,185.13 181.30,184.49 182.00,184.34 182.70,185.06 183.40,184.98 184.10,185.03 184.80,184.56 185.50,184.94 186.20,184.90 186.90,184.30 187.60,184.69 188.30,184.74 189.00,184.57 189.70,184.42 190.40,184.11 191.10,183.95 191.80,183.65 192.50,183.32 193.20,183.53 193.90,183.09 194.60,183.30 195.30,182.48 196.00,182.97 196.70,182.59 197.40,182.57 198.10,182.35 198.80,182.14 199.50,181.68 200.20,181.21 200.90,182.22 201.60,182.18 202.30,182.71 203.00,183.43 203.70,183.74 204.40,184.08 205.10,184.88 205.80,184.69 206.50,184.55 207.20,184.55 207.90,185.12 208.60,184.88 209.30,185.20 210.00,184.93 210.70,184.89 211.40,185.23 212.10,185.53 212.80,185.09 213.50,185.66 214.20,185.84 214.90,185.83 215.60,185.80 216.30,185.08 217.00,185.51 217.70,185.63 218.40,184.92 219.10,185.03 219.80,184.97 220.50,185.11 221.20,184.96 221.90,184.94 222.60,185.11 223.30,184.43 224.00,184.41 224.70,184.40 225.40,184.35 226.10,184.28 226.80,184.98 227.50,184.85 228.20,184.21 228.90,184.51 229.60,184.33 230.30,184.30 231.00,184.30 231.70,184.51 232.40,184.43 233.10,184.22 233.80,184.05 234.50,184.13 235.20,183.95 235.90,184.30 236.60,184.44 237.30,184.17 238.00,183.94 238.70,184.02 239.40,184.18 240.10,184.37 240.80,184.52 240.80,186.93 240.10,186.79 239.40,186.61 238.70,186.46 238.00,186.39 237.30,186.64 236.60,186.91 235.90,186.79 235.20,186.45 234.50,186.64 233.80,186.57 233.10,186.75 232.40,186.97 231.70,187.06 231.00,186.86 230.30,186.87 229.60,186.92 228.90,187.10 228.20,186.81 227.50,187.47 226.80,187.60 226.10,186.92 225.40,187.01 224.70,187.06 224.00,187.08 223.30,187.11 222.60,187.81 221.90,187.64 221.20,187.68 220.50,187.84 219.80,187.70 219.10,187.78 218.40,187.68 217.70,188.41 217.00,188.29 216.30,187.87 215.60,188.60 214.90,188.64 214.20,188.67 213.50,188.50 212.80,187.94 212.10,188.39 211.40,188.10 210.70,187.77 210.00,187.83 209.30,188.11 208.60,187.80 207.90,188.04 207.20,187.49 206.50,187.50 205.80,187.65 205.10,187.85 204.40,187.06 203.70,186.74 203.00,186.43 202.30,185.73 201.60,185.21 200.90,185.26 200.20,184.26 199.50,184.74 198.80,185.22 198.10,185.43 197.40,185.67 196.70,185.70 196.00,186.08 195.30,185.61 194.60,186.44 193.90,186.23 193.20,186.69 192.50,186.49 191.80,186.83 191.10,187.14 190.40,187.31 189.70,187.64 189.00,187.79 188.30,187.97 187.60,187.94 186.90,187.56 186.20,188.17 185.50,188.23 184.80,187.85 184.10,188.34 183.40,188.29 182.70,188.38 182.00,187.67 181.30,187.83 180.60,188.49 179.90,188.12 179.20,188.17 178.50,188.20 177.80,188.19 177.10,188.17 176.40,188.63 175.70,188.27 175.00,188.18 174.30,188.39 173.60,188.80 172.90,188.71 172.20,188.88 171.50,188.50 170.80,188.46 170.10,189.03 169.40,188.89 168.70,188.27 168.00,188.40 167.30,187.94 166.60,187.89 165.90,187.94 165.20,188.15 164.50,187.83 163.80,187.44 163.10,187.17 162.40,187.59 161.70,187.12 161.00,187.30 160.30,186.77 159.60,186.74 158.90,186.64 158.20,187.19 157.50,187.06 156.80,186.94 156.10,187.05 155.40,187.58 154.70,187.19 154.00,187.34 153.30,187.75 152.60,187.70 151.90,187.34 151.20,188.01 150.50,187.77 149.80,187.64 149.10,187.44 148.40,186.83 147.70,186.35 147.00,185.96 146.30,185.49 145.60,185.28 144.90,184.74 144.20,184.14 143.50,184.28 142.80,183.62 142.10,182.69 141.40,182.06 140.70,181.99 140.00,181.33 139.30,180.41 138.60,180.03 137.90,179.21 137.20,178.70 136.50,177.61 135.80,177.69 135.10,177.97 134.40,177.78 133.70,178.52 133.00,178.68 132.30,178.65 131.60,179.37 130.90,179.64 130.20,180.30 129.50,180.09 128.80,180.39 128.10,181.13 127.40,181.24 126.70,181.66 126.00,182.35 125.30,182.10 124.60,182.05 123.90,182.08 123.20,182.12 122.50,182.02 121.80,182.02 121.10,182.13 120.40,182.72 119.70,182.94 119.00,182.60 118.30,183.22 117.60,182.37 116.90,181.99 116.20,181.89 115.50,181.26 114.80,180.80 114.10,180.81 113.40,181.40 112.70,181.12 112.00,181.45 111.30,182.14 110.60,181.88 109.90,182.42 109.20,182.56 108.50,182.35 107.80,182.89 107.10,182.58 106.40,183.26 105.70,183.03 105.00,183.92 104.30,184.07 103.60,183.92 102.90,184.03 102.20,184.46 101.50,185.11 100.80,184.91 100.10,186.01 99.40,186.63 98.70,186.79 98.00,187.76 97.30,188.79 96.60,189.79 95.90,190.11 95.20,191.49 94.50,192.46 93.80,193.84 93.10,195.01 92.40,196.05 91.70,196.61 91.00,198.14 90.30,197.16 89.60,195.81 88.90,194.63 88.20,193.20 87.50,192.14 86.80,190.65 86.10,189.41 85.40,188.05 84.70,186.84 84.00,185.61 83.30,184.11 82.60,183.04 81.90,181.56 81.20,180.65 80.50,178.72 79.80,177.49 79.10,176.69 78.40,176.54 77.70,175.82 77.00,174.66 76.30,174.17 75.60,174.38 74.90,176.30 74.20,177.64 73.50,179.28 72.80,180.66 72.10,181.96 71.40,183.69 70.70,184.42 70.00,186.04 69.30,186.36 68.60,186.58 67.90,186.11 67.20,186.69 66.50,186.83 65.80,186.69 65.10,186.84 64.40,186.54 63.70,186.04 63.00,186.31 62.30,186.06 61.60,186.24 60.90,185.83 60.20,186.13 59.50,185.45 58.80,185.42 58.10,185.83 57.40,185.12 56.70,185.11 56.00,185.51 55.30,185.44 54.60,185.20 53.90,185.29 53.20,184.99" fill="#555" fill-opacity="0.85" stroke="none"/>
<polygon points="53.20,182.52 53.90,182.54 54.60,182.49 55.30,182.53 56.00,182.23 56.70,182.31 57.40,181.31 58.10,181.65 58.80,182.02 59.50,181.62 60.20,181.87 60.90,181.31 61.60,181.90 62.30,181.91 63.00,182.44 63.70,182.71 64.40,182.38 65.10,182.82 65.80,183.11 66.50,183.69 67.20,183.37 67.90,182.58 68.60,183.05 69.30,182.21 70.00,182.52 70.70,181.15 71.40,180.15 72.10,180.15 72.80,178.61 73.50,177.74 74.20,177.75 74.90,177.17 75.60,176.12 76.30,176.33 77.00,175.44 77.70,175.81 78.40,175.57 79.10,176.54 79.80,176.52 80.50,177.27 81.20,177.75 81.90,177.72 82.60,178.34 83.30,178.71 84.00,179.25 84.70,179.73 85.40,180.36 86.10,180.94 86.80,180.62 87.50,181.58 88.20,181.52 88.90,181.77 89.60,182.56 90.30,182.38 91.00,182.22 91.70,182.38 92.40,182.60 93.10,181.96 93.80,182.88 94.50,181.92 95.20,182.69 95.90,182.92 96.60,182.24 97.30,183.15 98.00,182.87 98.70,183.22 99.40,182.79 100.10,182.97 100.80,183.24 101.50,184.16 102.20,183.54 102.90,184.24 103.60,184.55 104.30,184.70 105.00,184.24 105.70,184.25 106.40,184.42 107.10,184.68 107.80,184.01 108.50,184.65 109.20,184.70 109.90,184.76 110.60,183.97 111.30,184.91 112.00,184.09 112.70,184.38 113.40,184.68 114.10,185.02 114.80,184.48 115.50,185.10 116.20,184.76 116.90,184.56 117.60,184.60 118.30,184.49 119.00,184.43 119.70,184.53 120.40,185.11 121.10,185.45 121.80,184.65 122.50,184.57 123.20,185.55 123.90,185.13 124.60,185.04 125.30,184.90 126.00,185.29 126.70,185.56 127.40,185.23 128.10,185.23 128.80,184.90 129.50,185.79 130.20,184.95 130.90,185.48 131.60,185.90 132.30,185.26 133.00,185.93 133.70,186.22 134.40,185.97 135.10,186.20 135.80,185.59 136.50,185.98 137.20,185.77 137.90,186.53 138.60,186.05 139.30,186.28 140.00,186.90 140.70,186.68 141.40,186.74 142.10,186.14 142.80,186.11 143.50,186.28 144.20,185.96 144.90,185.70 145.60,185.74 146.30,185.42 147.00,185.58 147.70,186.12 148.40,186.02 149.10,185.62 149.80,185.42 150.50,185.24 151.20,184.99 151.90,185.17 152.60,185.68 153.30,185.77 154.00,185.26 154.70,185.69 155.40,185.67 156.10,185.59 156.80,185.56 157.50,185.66 158.20,185.26 158.90,185.60 159.60,185.18 160.30,185.42 161.00,185.77 161.70,185.76 162.40,185.43 163.10,186.16 163.80,185.93 164.50,185.93 165.20,185.43 165.90,186.04 166.60,185.81 167.30,186.30 168.00,186.16 168.70,186.59 169.40,186.49 170.10,186.69 170.80,186.21 171.50,186.47 172.20,186.53 172.90,186.58 173.60,186.07 174.30,186.53 175.00,186.52 175.70,186.30 176.40,186.56 177.10,186.50 177.80,186.03 178.50,186.00 179.20,185.61 179.90,186.24 180.60,186.28 181.30,185.75 182.00,185.89 182.70,185.85 183.40,185.79 184.10,185.16 184.80,185.70 185.50,185.43 186.20,185.45 186.90,185.13 187.60,185.26 188.30,185.34 189.00,185.14 189.70,185.15 190.40,184.41 191.10,184.51 191.80,184.75 192.50,184.93 193.20,184.46 193.90,184.89 194.60,184.80 195.30,184.18 196.00,184.57 196.70,184.29 197.40,184.08 198.10,184.13 198.80,184.28 199.50,184.11 200.20,184.11 200.90,184.03 201.60,184.53 202.30,184.51 203.00,184.81 203.70,184.86 204.40,184.58 205.10,185.31 205.80,184.48 206.50,184.96 207.20,184.90 207.90,185.10 208.60,184.88 209.30,185.66 210.00,185.27 210.70,184.97 211.40,185.58 212.10,185.10 212.80,185.59 213.50,185.41 214.20,185.69 214.90,186.10 215.60,186.00 216.30,185.63 217.00,186.06 217.70,185.93 218.40,185.69 219.10,185.50 219.80,185.99 220.50,185.89 221.20,186.18 221.90,186.08 222.60,185.62 223.30,185.26 224.00,185.69 224.70,184.70 225.40,184.70 226.10,185.05 226.80,185.00 227.50,184.42 228.20,184.80 228.90,184.96 229.60,184.34 230.30,184.31 231.00,184.04 231.70,184.04 232.40,184.66 233.10,184.01 233.80,184.52 234.50,184.42 235.20,184.04 235.90,183.64 236.60,184.30 237.30,183.75 238.00,183.61 238.70,183.45 239.40,184.05 240.10,183.50 240.80,183.23 240.80,186.43 240.10,186.70 239.40,187.25 238.70,186.65 238.00,186.81 237.30,186.95 236.60,187.50 235.90,186.84 235.20,187.24 234.50,187.62 233.80,187.72 233.10,187.21 232.40,187.86 231.70,187.24 231.00,187.24 230.30,187.51 229.60,187.54 228.90,188.16 228.20,188.00 227.50,187.62 226.80,188.20 226.10,188.25 225.40,187.90 224.70,187.90 224.00,188.89 223.30,188.46 222.60,188.82 221.90,189.28 221.20,189.38 220.50,189.09 219.80,189.19 219.10,188.70 218.40,188.89 217.70,189.13 217.00,189.26 216.30,188.83 215.60,189.20 214.90,189.30 214.20,188.89 213.50,188.61 212.80,188.79 212.10,188.30 211.40,188.78 210.70,188.17 210.00,188.47 209.30,188.86 208.60,188.08 207.90,188.30 207.20,188.10 206.50,188.16 205.80,187.68 205.10,188.51 204.40,187.78 203.70,188.06 203.00,188.01 202.30,187.71 201.60,187.73 200.90,187.23 200.20,187.31 199.50,187.31 198.80,187.48 198.10,187.33 197.40,187.28 196.70,187.49 196.00,187.77 195.30,187.38 194.60,188.00 193.90,188.09 193.20,187.66 192.50,188.13 191.80,187.95 191.10,187.71 190.40,187.61 189.70,188.35 189.00,188.34 188.30,188.54 187.60,188.46 186.90,188.33 186.20,188.65 185.50,188.63 184.80,188.90 184.10,188.36 183.40,188.99 182.70,189.05 182.00,189.09 181.30,188.95 180.60,189.48 179.90,189.44 179.20,188.81 178.50,189.20 177.80,189.23 177.10,189.70 176.40,189.76 175.70,189.50 175.00,189.72 174.30,189.73 173.60,189.27 172.90,189.78 172.20,189.73 171.50,189.67 170.80,189.41 170.10,189.89 169.40,189.69 168.70,189.79 168.00,189.36 167.30,189.50 166.60,189.01 165.90,189.24 165.20,188.63 164.50,189.13 163.80,189.13 163.10,189.36 162.40,188.63 161.70,188.96 161.00,188.97 160.30,188.62 159.60,188.38 158.90,188.80 158.20,188.46 157.50,188.86 156.80,188.76 156.10,188.79 155.40,188.87 154.70,188.89 154.00,188.46 153.30,188.97 152.60,188.88 151.90,188.37 151.20,188.19 150.50,188.44 149.80,188.62 149.10,188.82 148.40,189.22 147.70,189.32 147.00,188.78 146.30,188.62 145.60,188.94 144.90,188.90 144.20,189.16 143.50,189.48 142.80,189.31 142.10,189.34 141.40,189.94 140.70,189.88 140.00,190.10 139.30,189.48 138.60,189.25 137.90,189.73 137.20,188.97 136.50,189.18 135.80,188.79 135.10,189.40 134.40,189.17 133.70,189.42 133.00,189.13 132.30,188.46 131.60,189.10 130.90,188.68 130.20,188.15 129.50,188.99 128.80,188.10 128.10,188.43 127.40,188.43 126.70,188.76 126.00,188.49 125.30,188.10 124.60,188.24 123.90,188.33 123.20,188.75 122.50,187.77 121.80,187.85 121.10,188.65 120.40,188.31 119.70,187.73 119.00,187.63 118.30,187.69 117.60,187.80 116.90,187.76 116.20,187.96 115.50,188.30 114.80,187.68 114.10,188.22 113.40,187.88 112.70,187.58 112.00,187.29 111.30,188.11 110.60,187.17 109.90,187.96 109.20,187.90 108.50,187.85 107.80,187.21 107.10,187.88 106.40,187.62 105.70,187.45 105.00,187.44 104.30,187.90 103.60,187.75 102.90,187.44 102.20,186.74 101.50,187.36 100.80,186.44 100.10,186.17 99.40,185.99 98.70,186.42 98.00,186.07 97.30,186.35 96.60,185.44 95.90,186.12 95.20,185.89 94.50,185.12 93.80,186.08 93.10,185.16 92.40,185.80 91.70,185.58 91.00,185.42 90.30,185.58 89.60,185.76 88.90,184.97 88.20,184.72 87.50,184.78 86.80,183.82 86.10,184.14 85.40,183.56 84.70,182.93 84.00,182.45 83.30,181.91 82.60,181.54 81.90,180.92 81.20,180.95 80.50,180.47 79.80,179.72 79.10,179.74 78.40,178.77 77.70,179.01 77.00,178.64 76.30,179.53 75.60,179.32 74.90,180.37 74.20,180.95 73.50,180.94 72.80,181.81 72.10,183.35 71.40,183.35 70.70,184.35 70.00,185.72 69.30,185.41 68.60,186.25 67.90,185.78 67.20,186.57 66.50,186.89 65.80,186.31 65.10,186.02 64.40,185.58 63.70,185.91 63.00,185.64 62.30,185.11 61.60,185.10 60.90,184.51 60.20,185.07 59.50,184.82 58.80,185.22 58.10,184.85 57.40,184.51 56.70,185.51 56.00,185.43 55.30,185.73 54.60,185.69 53.90,185.74 53.20,185.72" fill="#168787" fill-opacity="0.85" stroke="none"/>
<polygon points="53.20,182.02 53.90,181.71 54.60,182.06 55.30,181.33 56.00,181.65 56.70,181.34 57.40,180.88 58.10,181.28 58.80,181.34 59.50,182.26 60.20,182.42 60.90,182.97 61.60,183.82 62.30,184.60 63.00,184.07 63.70,184.35 64.40,184.93 65.10,185.42 65.80,185.23 66.50,184.85 67.20,185.08 67.90,183.80 68.60,184.26 69.30,183.34 70.00,182.84 70.70,181.42 71.40,180.21 72.10,179.32 72.80,177.28 73.50,176.28 74.20,174.94 74.90,173.27 75.60,172.05 76.30,170.91 77.00,171.26 77.70,171.76 78.40,172.58 79.10,172.68 79.80,172.91 80.50,173.79 81.20,174.35 81.90,174.90 82.60,176.09 83.30,176.10 84.00,174.94 84.70,174.57 85.40,173.83 86.10,173.74 86.80,174.76 87.50,175.49 88.20,177.35 88.90,177.65 89.60,177.52 90.30,177.16 91.00,175.85 91.70,175.49 92.40,174.61 93.10,175.00 93.80,174.86 94.50,174.44 95.20,174.78 95.90,174.91 96.60,176.00 97.30,176.59 98.00,177.28 98.70,176.22 99.40,175.67 100.10,174.84 100.80,173.44 101.50,173.86 102.20,173.96 102.90,175.30 103.60,175.95 104.30,176.49 105.00,175.86 105.70,174.85 106.40,174.49 107.10,174.50 107.80,174.79 108.50,176.16 109.20,176.80 109.90,177.68 110.60,176.96 111.30,176.73 112.00,175.16 112.70,174.35 113.40,174.49 114.10,175.67 114.80,175.58 115.50,176.65 116.20,177.05 116.90,176.68 117.60,175.92 118.30,175.26 119.00,173.98 119.70,173.42 120.40,173.36 121.10,174.41 121.80,175.01 122.50,174.73 123.20,175.28 123.90,175.86 124.60,175.63 125.30,175.53 126.00,175.29 126.70,174.61 127.40,174.00 128.10,174.22 128.80,174.87 129.50,175.77 130.20,176.85 130.90,177.29 131.60,177.82 132.30,178.02 133.00,177.38 133.70,176.05 134.40,176.20 135.10,175.38 135.80,174.77 136.50,175.00 137.20,175.29 137.90,176.00 138.60,176.40 139.30,177.63 140.00,177.76 140.70,178.47 141.40,179.31 142.10,179.96 142.80,180.84 143.50,181.25 144.20,181.90 144.90,182.75 145.60,182.92 146.30,183.32 147.00,183.13 147.70,184.11 148.40,183.99 149.10,183.67 149.80,183.91 150.50,184.05 151.20,184.06 151.90,183.82 152.60,184.55 153.30,184.69 154.00,184.17 154.70,184.18 155.40,183.79 156.10,183.80 156.80,184.04 157.50,183.96 158.20,184.53 158.90,183.86 159.60,183.72 160.30,184.68 161.00,184.33 161.70,184.02 162.40,184.48 163.10,184.04 163.80,184.61 164.50,185.13 165.20,185.08 165.90,184.99 166.60,184.62 167.30,184.80 168.00,184.67 168.70,185.34 169.40,185.17 170.10,185.47 170.80,184.95 171.50,184.77 172.20,185.29 172.90,185.39 173.60,185.19 174.30,185.08 175.00,185.02 175.70,184.87 176.40,184.29 177.10,184.51 177.80,184.28 178.50,183.88 179.20,183.81 179.90,183.99 180.60,184.02 181.30,184.52 182.00,184.86 182.70,184.42 183.40,184.98 184.10,185.10 184.80,185.14 185.50,184.61 186.20,184.54 186.90,184.62 187.60,184.66 188.30,184.73 189.00,185.22 189.70,185.57 190.40,185.46 191.10,184.96 191.80,184.99 192.50,185.00 193.20,184.14 193.90,184.58 194.60,184.69 195.30,184.42 196.00,184.25 196.70,183.84 197.40,183.40 198.10,183.87 198.80,183.27 199.50,183.60 200.20,183.73 200.90,183.37 201.60,183.58 202.30,184.34 203.00,184.32 203.70,183.98 204.40,184.15 205.10,184.38 205.80,185.34 206.50,185.46 207.20,185.01 207.90,185.90 208.60,186.26 209.30,186.15 210.00,186.05 210.70,186.11 211.40,185.55 212.10,185.29 212.80,186.11 213.50,185.65 214.20,185.39 214.90,185.65 215.60,185.01 216.30,185.31 217.00,185.13 217.70,184.37 218.40,184.27 219.10,184.17 219.80,183.98 220.50,184.34 221.20,184.08 221.90,184.31 222.60,184.09 223.30,184.94 224.00,184.45 224.70,184.63 225.40,184.82 226.10,185.21 226.80,184.80 227.50,185.37 228.20,185.02 228.90,185.12 229.60,185.18 230.30,184.69 231.00,185.05 231.70,184.73 232.40,184.49 233.10,185.22 233.80,184.54 234.50,184.78 235.20,184.97 235.90,184.73 236.60,184.44 237.30,184.57 238.00,184.55 238.70,184.71 239.40,183.97 240.10,184.37 240.80,183.99 240.80,187.59 240.10,187.97 239.40,187.57 238.70,188.31 238.00,188.15 237.30,188.17 236.60,188.04 235.90,188.33 235.20,188.57 234.50,188.38 233.80,188.14 233.10,188.82 232.40,188.09 231.70,188.33 231.00,188.65 230.30,188.29 229.60,188.78 228.90,188.72 228.20,188.62 227.50,188.97 226.80,188.40 226.10,188.81 225.40,188.42 224.70,188.23 224.00,188.05 223.30,188.54 222.60,187.69 221.90,187.91 221.20,187.68 220.50,187.94 219.80,187.58 219.10,187.77 218.40,187.87 217.70,187.97 217.00,188.73 216.30,188.91 215.60,188.61 214.90,189.25 214.20,188.99 213.50,189.25 212.80,189.71 212.10,188.89 211.40,189.15 210.70,189.71 210.00,189.65 209.30,189.75 208.60,189.86 207.90,189.50 207.20,188.61 206.50,189.06 205.80,188.94 205.10,187.98 204.40,187.75 203.70,187.58 203.00,187.92 202.30,187.94 201.60,187.18 200.90,186.97 200.20,187.33 199.50,187.20 198.80,186.87 198.10,187.47 197.40,187.00 196.70,187.44 196.00,187.85 195.30,188.02 194.60,188.29 193.90,188.18 193.20,187.74 192.50,188.60 191.80,188.59 191.10,188.56 190.40,189.06 189.70,189.17 189.00,188.82 188.30,188.33 187.60,188.26 186.90,188.22 186.20,188.14 185.50,188.21 184.80,188.74 184.10,188.70 183.40,188.58 182.70,188.02 182.00,188.46 181.30,188.12 180.60,187.62 179.90,187.59 179.20,187.41 178.50,187.48 177.80,187.88 177.10,188.11 176.40,187.89 175.70,188.47 175.00,188.62 174.30,188.68 173.60,188.79 172.90,188.99 172.20,188.89 171.50,188.37 170.80,188.55 170.10,189.07 169.40,188.77 168.70,188.94 168.00,188.27 167.30,188.40 166.60,188.22 165.90,188.59 165.20,188.68 164.50,188.73 163.80,188.21 163.10,187.64 162.40,188.08 161.70,187.62 161.00,187.93 160.30,188.28 159.60,187.32 158.90,187.46 158.20,188.13 157.50,187.56 156.80,187.64 156.10,187.40 155.40,187.39 154.70,187.78 154.00,187.77 153.30,188.29 152.60,188.15 151.90,187.42 151.20,187.66 150.50,187.65 149.80,187.51 149.10,187.27 148.40,187.59 147.70,187.71 147.00,186.73 146.30,186.92 145.60,186.52 144.90,186.35 144.20,185.50 143.50,184.85 142.80,184.44 142.10,183.56 141.40,182.91 140.70,182.07 140.00,181.36 139.30,181.23 138.60,180.00 137.90,179.60 137.20,178.89 136.50,178.60 135.80,178.37 135.10,178.98 134.40,179.80 133.70,179.65 133.00,180.98 132.30,181.62 131.60,181.42 130.90,180.89 130.20,180.45 129.50,179.37 128.80,178.47 128.10,177.82 127.40,177.60 126.70,178.21 126.00,178.89 125.30,179.13 124.60,179.23 123.90,179.46 123.20,178.88 122.50,178.33 121.80,178.61 121.10,178.01 120.40,176.96 119.70,177.02 119.00,177.58 118.30,178.86 117.60,179.52 116.90,180.28 116.20,180.65 115.50,180.25 114.80,179.18 114.10,179.27 113.40,178.09 112.70,177.95 112.00,178.76 111.30,180.33 110.60,180.56 109.90,181.28 109.20,180.40 108.50,179.76 107.80,178.39 107.10,178.10 106.40,178.09 105.70,178.45 105.00,179.46 104.30,180.09 103.60,179.55 102.90,178.90 102.20,177.56 101.50,177.46 100.80,177.04 100.10,178.44 99.40,179.27 98.70,179.82 98.00,180.88 97.30,180.19 96.60,179.60 95.90,178.51 95.20,178.38 94.50,178.04 93.80,178.46 93.10,178.60 92.40,178.21 91.70,179.09 91.00,179.45 90.30,180.76 89.60,181.12 88.90,181.25 88.20,180.95 87.50,179.09 86.80,178.36 86.10,177.34 85.40,177.43 84.70,178.17 84.00,178.54 83.30,179.70 82.60,179.69 81.90,178.50 81.20,177.95 80.50,177.39 79.80,176.51 79.10,176.28 78.40,176.18 77.70,175.36 77.00,174.86 76.30,174.51 75.60,175.65 74.90,176.87 74.20,178.54 73.50,179.88 72.80,180.88 72.10,182.92 71.40,183.81 70.70,185.02 70.00,186.44 69.30,186.94 68.60,187.86 67.90,187.40 67.20,188.68 66.50,188.45 65.80,188.83 65.10,189.02 64.40,188.53 63.70,187.95 63.00,187.67 62.30,188.20 61.60,187.42 60.90,186.57 60.20,186.02 59.50,185.86 58.80,184.94 58.10,184.88 57.40,184.48 56.70,184.94 56.00,185.25 55.30,184.93 54.60,185.66 53.90,185.31 53.20,185.62" fill="#ff0a6c" fill-opacity="0.85" stroke="none"/>
<polyline points="53.20,184.12 53.90,184.14 54.60,184.09 55.30,184.13 56.00,183.83 56.70,183.91 57.40,182.91 58.10,183.25 58.80,183.62 59.50,183.22 60.20,183.47 60.90,182.91 61.60,183.50 62.30,183.51 63.00,184.04 63.70,184.31 64.40,183.98 65.10,184.42 65.80,184.71 66.50,185.29 67.20,184.97 67.90,184.18 68.60,184.65 69.30,183.81 70.00,184.12 70.70,182.75 71.40,181.75 72.10,181.75 72.80,180.21 73.50,179.34 74.20,179.35 74.90,178.77 75.60,177.72 76.30,177.93 77.00,177.04 77.70,177.41 78.40,177.17 79.10,178.14 79.80,178.12 80.50,178.87 81.20,179.35 81.90,179.32 82.60,179.94 83.30,180.31 84.00,180.85 84.70,181.33 85.40,181.96 86.10,182.54 86.80,182.22 87.50,183.18 88.20,183.12 88.90,183.37 89.60,184.16 90.30,183.98 91.00,183.82 91.70,183.98 92.40,184.20 93.10,183.56 93.80,184.48 94.50,183.52 95.20,184.29 95.90,184.52 96.60,183.84 97.30,184.75 98.00,184.47 98.70,184.82 99.40,184.39 100.10,184.57 100.80,184.84 101.50,185.76 102.20,185.14 102.90,185.84 103.60,186.15 104.30,186.30 105.00,185.84 105.70,185.85 106.40,186.02 107.10,186.28 107.80,185.61 108.50,186.25 109.20,186.30 109.90,186.36 110.60,185.57 111.30,186.51 112.00,185.69 112.70,185.98 113.40,186.28 114.10,186.62 114.80,186.08 115.50,186.70 116.20,186.36 116.90,186.16 117.60,186.20 118.30,186.09 119.00,186.03 119.70,186.13 120.40,186.71 121.10,187.05 121.80,186.25 122.50,186.17 123.20,187.15 123.90,186.73 124.60,186.64 125.30,186.50 126.00,186.89 126.70,187.16 127.40,186.83 128.10,186.83 128.80,186.50 129.50,187.39 130.20,186.55 130.90,187.08 131.60,187.50 132.30,186.86 133.00,187.53 133.70,187.82 134.40,187.57 135.10,187.80 135.80,187.19 136.50,187.58 137.20,187.37 137.90,188.13 138.60,187.65 139.30,187.88 140.00,188.50 140.70,188.28 141.40,188.34 142.10,187.74 142.80,187.71 143.50,187.88 144.20,187.56 144.90,187.30 145.60,187.34 146.30,187.02 147.00,187.18 147.70,187.72 148.40,187.62 149.10,187.22 149.80,187.02 150.50,186.84 151.20,186.59 151.90,186.77 152.60,187.28 153.30,187.37 154.00,186.86 154.70,187.29 155.40,187.27 156.10,187.19 156.80,187.16 157.50,187.26 158.20,186.86 158.90,187.20 159.60,186.78 160.30,187.02 161.00,187.37 161.70,187.36 162.40,187.03 163.10,187.76 163.80,187.53 164.50,187.53 165.20,187.03 165.90,187.64 166.60,187.41 167.30,187.90 168.00,187.76 168.70,188.19 169.40,188.09 170.10,188.29 170.80,187.81 171.50,188.07 172.20,188.13 172.90,188.18 173.60,187.67 174.30,188.13 175.00,188.12 175.70,187.90 176.40,188.16 177.10,188.10 177.80,187.63 178.50,187.60 179.20,187.21 179.90,187.84 180.60,187.88 181.30,187.35 182.00,187.49 182.70,187.45 183.40,187.39 184.10,186.76 184.80,187.30 185.50,187.03 186.20,187.05 186.90,186.73 187.60,186.86 188.30,186.94 189.00,186.74 189.70,186.75 190.40,186.01 191.10,186.11 191.80,186.35 192.50,186.53 193.20,186.06 193.90,186.49 194.60,186.40 195.30,185.78 196.00,186.17 196.70,185.89 197.40,185.68 198.10,185.73 198.80,185.88 199.50,185.71 200.20,185.71 200.90,185.63 201.60,186.13 202.30,186.11 203.00,186.41 203.70,186.46 204.40,186.18 205.10,186.91 205.80,186.08 206.50,186.56 207.20,186.50 207.90,186.70 208.60,186.48 209.30,187.26 210.00,186.87 210.70,186.57 211.40,187.18 212.10,186.70 212.80,187.19 213.50,187.01 214.20,187.29 214.90,187.70 215.60,187.60 216.30,187.23 217.00,187.66 217.70,187.53 218.40,187.29 219.10,187.10 219.80,187.59 220.50,187.49 221.20,187.78 221.90,187.68 222.60,187.22 223.30,186.86 224.00,187.29 224.70,186.30 225.40,186.30 226.10,186.65 226.80,186.60 227.50,186.02 228.20,186.40 228.90,186.56 229.60,185.94 230.30,185.91 231.00,185.64 231.70,185.64 232.40,186.26 233.10,185.61 233.80,186.12 234.50,186.02 235.20,185.64 235.90,185.24 236.60,185.90 237.30,185.35 238.00,185.21 238.70,185.05 239.40,185.65 240.10,185.10 240.80,184.83" fill="none" stroke="#0e6a6a" stroke-width="1.0" stroke-linejoin="round"/>
<polyline points="53.20,183.82 53.90,183.51 54.60,183.86 55.30,183.13 56.00,183.45 56.70,183.14 57.40,182.68 58.10,183.08 58.80,183.14 59.50,184.06 60.20,184.22 60.90,184.77 61.60,185.62 62.30,186.40 63.00,185.87 63.70,186.15 64.40,186.73 65.10,187.22 65.80,187.03 66.50,186.65 67.20,186.88 67.90,185.60 68.60,186.06 69.30,185.14 70.00,184.64 70.70,183.22 71.40,182.01 72.10,181.12 72.80,179.08 73.50,178.08 74.20,176.74 74.90,175.07 75.60,173.85 76.30,172.71 77.00,173.06 77.70,173.56 78.40,174.38 79.10,174.48 79.80,174.71 80.50,175.59 81.20,176.15 81.90,176.70 82.60,177.89 83.30,177.90 84.00,176.74 84.70,176.37 85.40,175.63 86.10,175.54 86.80,176.56 87.50,177.29 88.20,179.15 88.90,179.45 89.60,179.32 90.30,178.96 91.00,177.65 91.70,177.29 92.40,176.41 93.10,176.80 93.80,176.66 94.50,176.24 95.20,176.58 95.90,176.71 96.60,177.80 97.30,178.39 98.00,179.08 98.70,178.02 99.40,177.47 100.10,176.64 100.80,175.24 101.50,175.66 102.20,175.76 102.90,177.10 103.60,177.75 104.30,178.29 105.00,177.66 105.70,176.65 106.40,176.29 107.10,176.30 107.80,176.59 108.50,177.96 109.20,178.60 109.90,179.48 110.60,178.76 111.30,178.53 112.00,176.96 112.70,176.15 113.40,176.29 114.10,177.47 114.80,177.38 115.50,178.45 116.20,178.85 116.90,178.48 117.60,177.72 118.30,177.06 119.00,175.78 119.70,175.22 120.40,175.16 121.10,176.21 121.80,176.81 122.50,176.53 123.20,177.08 123.90,177.66 124.60,177.43 125.30,177.33 126.00,177.09 126.70,176.41 127.40,175.80 128.10,176.02 128.80,176.67 129.50,177.57 130.20,178.65 130.90,179.09 131.60,179.62 132.30,179.82 133.00,179.18 133.70,177.85 134.40,178.00 135.10,177.18 135.80,176.57 136.50,176.80 137.20,177.09 137.90,177.80 138.60,178.20 139.30,179.43 140.00,179.56 140.70,180.27 141.40,181.11 142.10,181.76 142.80,182.64 143.50,183.05 144.20,183.70 144.90,184.55 145.60,184.72 146.30,185.12 147.00,184.93 147.70,185.91 148.40,185.79 149.10,185.47 149.80,185.71 150.50,185.85 151.20,185.86 151.90,185.62 152.60,186.35 153.30,186.49 154.00,185.97 154.70,185.98 155.40,185.59 156.10,185.60 156.80,185.84 157.50,185.76 158.20,186.33 158.90,185.66 159.60,185.52 160.30,186.48 161.00,186.13 161.70,185.82 162.40,186.28 163.10,185.84 163.80,186.41 164.50,186.93 165.20,186.88 165.90,186.79 166.60,186.42 167.30,186.60 168.00,186.47 168.70,187.14 169.40,186.97 170.10,187.27 170.80,186.75 171.50,186.57 172.20,187.09 172.90,187.19 173.60,186.99 174.30,186.88 175.00,186.82 175.70,186.67 176.40,186.09 177.10,186.31 177.80,186.08 178.50,185.68 179.20,185.61 179.90,185.79 180.60,185.82 181.30,186.32 182.00,186.66 182.70,186.22 183.40,186.78 184.10,186.90 184.80,186.94 185.50,186.41 186.20,186.34 186.90,186.42 187.60,186.46 188.30,186.53 189.00,187.02 189.70,187.37 190.40,187.26 191.10,186.76 191.80,186.79 192.50,186.80 193.20,185.94 193.90,186.38 194.60,186.49 195.30,186.22 196.00,186.05 196.70,185.64 197.40,185.20 198.10,185.67 198.80,185.07 199.50,185.40 200.20,185.53 200.90,185.17 201.60,185.38 202.30,186.14 203.00,186.12 203.70,185.78 204.40,185.95 205.10,186.18 205.80,187.14 206.50,187.26 207.20,186.81 207.90,187.70 208.60,188.06 209.30,187.95 210.00,187.85 210.70,187.91 211.40,187.35 212.10,187.09 212.80,187.91 213.50,187.45 214.20,187.19 214.90,187.45 215.60,186.81 216.30,187.11 217.00,186.93 217.70,186.17 218.40,186.07 219.10,185.97 219.80,185.78 220.50,186.14 221.20,185.88 221.90,186.11 222.60,185.89 223.30,186.74 224.00,186.25 224.70,186.43 225.40,186.62 226.10,187.01 226.80,186.60 227.50,187.17 228.20,186.82 228.90,186.92 229.60,186.98 230.30,186.49 231.00,186.85 231.70,186.53 232.40,186.29 233.10,187.02 233.80,186.34 234.50,186.58 235.20,186.77 235.90,186.53 236.60,186.24 237.30,186.37 238.00,186.35 238.70,186.51 239.40,185.77 240.10,186.17 240.80,185.79" fill="none" stroke="#d0004f" stroke-width="1.0" stroke-linejoin="round"/>
<polyline points="53.20,183.79 53.90,184.09 54.60,184.00 55.30,184.24 56.00,184.31 56.70,183.91 57.40,183.92 58.10,184.63 58.80,184.22 59.50,184.25 60.20,184.93 60.90,184.63 61.60,185.04 62.30,184.86 63.00,185.11 63.70,184.84 64.40,185.34 65.10,185.64 65.80,185.49 66.50,185.63 67.20,185.49 67.90,184.91 68.60,185.38 69.30,185.16 70.00,184.84 70.70,183.22 71.40,182.49 72.10,180.75 72.80,179.38 73.50,177.93 74.20,176.22 74.90,174.81 75.60,172.82 76.30,172.54 77.00,172.96 77.70,174.05 78.40,174.70 79.10,174.78 79.80,175.51 80.50,176.47 81.20,178.05 81.90,178.61 82.60,179.74 83.30,180.46 84.00,181.61 84.70,182.49 85.40,183.35 86.10,184.35 86.80,185.17 87.50,186.24 88.20,186.88 88.90,187.89 89.60,188.65 90.30,189.58 91.00,190.14 91.70,189.03 92.40,188.89 93.10,188.27 93.80,187.52 94.50,186.56 95.20,186.01 95.90,185.05 96.60,184.99 97.30,184.22 98.00,183.43 98.70,182.69 99.40,182.76 100.10,182.37 100.80,181.51 101.50,181.94 102.20,181.49 102.90,181.14 103.60,181.12 104.30,181.36 105.00,181.30 105.70,180.50 106.40,180.81 107.10,180.22 107.80,180.61 108.50,180.16 109.20,180.46 109.90,180.40 110.60,179.88 111.30,180.14 112.00,179.45 112.70,179.12 113.40,179.40 114.10,178.81 114.80,178.80 115.50,179.26 116.20,179.89 116.90,179.99 117.60,180.37 118.30,181.22 119.00,180.60 119.70,180.94 120.40,180.72 121.10,180.13 121.80,180.02 122.50,180.02 123.20,180.12 123.90,180.08 124.60,180.05 125.30,180.10 126.00,180.35 126.70,179.66 127.40,179.24 128.10,179.13 128.80,178.39 129.50,178.09 130.20,178.30 130.90,177.64 131.60,177.37 132.30,176.65 133.00,176.68 133.70,176.52 134.40,175.78 135.10,175.97 135.80,175.69 136.50,175.61 137.20,176.70 137.90,177.21 138.60,178.03 139.30,178.41 140.00,179.33 140.70,180.00 141.40,180.07 142.10,180.71 142.80,181.64 143.50,182.31 144.20,182.18 144.90,182.78 145.60,183.32 146.30,183.54 147.00,184.02 147.70,184.41 148.40,184.90 149.10,185.51 149.80,185.72 150.50,185.85 151.20,186.10 151.90,185.43 152.60,185.80 153.30,185.86 154.00,185.45 154.70,185.31 155.40,185.70 156.10,185.18 156.80,185.07 157.50,185.20 158.20,185.34 158.90,184.79 159.60,184.90 160.30,184.93 161.00,185.47 161.70,185.29 162.40,185.76 163.10,185.36 163.80,185.63 164.50,186.02 165.20,186.35 165.90,186.14 166.60,186.10 167.30,186.16 168.00,186.62 168.70,186.49 169.40,187.13 170.10,187.27 170.80,186.71 171.50,186.75 172.20,187.14 172.90,186.97 173.60,187.07 174.30,186.66 175.00,186.45 175.70,186.55 176.40,186.92 177.10,186.46 177.80,186.49 178.50,186.51 179.20,186.48 179.90,186.43 180.60,186.81 181.30,186.16 182.00,186.00 182.70,186.72 183.40,186.63 184.10,186.68 184.80,186.21 185.50,186.59 186.20,186.53 186.90,185.93 187.60,186.32 188.30,186.35 189.00,186.18 189.70,186.03 190.40,185.71 191.10,185.54 191.80,185.24 192.50,184.90 193.20,185.11 193.90,184.66 194.60,184.87 195.30,184.05 196.00,184.52 196.70,184.14 197.40,184.12 198.10,183.89 198.80,183.68 199.50,183.21 200.20,182.73 200.90,183.74 201.60,183.70 202.30,184.22 203.00,184.93 203.70,185.24 204.40,185.57 205.10,186.36 205.80,186.17 206.50,186.02 207.20,186.02 207.90,186.58 208.60,186.34 209.30,186.66 210.00,186.38 210.70,186.33 211.40,186.67 212.10,186.96 212.80,186.52 213.50,187.08 214.20,187.26 214.90,187.23 215.60,187.20 216.30,186.48 217.00,186.90 217.70,187.02 218.40,186.30 219.10,186.41 219.80,186.33 220.50,186.47 221.20,186.32 221.90,186.29 222.60,186.46 223.30,185.77 224.00,185.74 224.70,185.73 225.40,185.68 226.10,185.60 226.80,186.29 227.50,186.16 228.20,185.51 228.90,185.81 229.60,185.62 230.30,185.59 231.00,185.58 231.70,185.78 232.40,185.70 233.10,185.48 233.80,185.31 234.50,185.39 235.20,185.20 235.90,185.54 236.60,185.67 237.30,185.40 238.00,185.16 238.70,185.24 239.40,185.40 240.10,185.58 240.80,185.73" fill="none" stroke="#000" stroke-width="1.1" stroke-linejoin="round"/>
<polyline points="53.20,180.98 53.90,181.13 54.60,181.42 55.30,181.29 56.00,181.42 56.70,181.56 57.40,181.46 58.10,181.73 58.80,181.89 59.50,182.07 60.20,181.83 60.90,182.05 61.60,182.06 62.30,182.54 63.00,182.60 63.70,182.39 64.40,182.97 65.10,183.08 65.80,183.04 66.50,183.06 67.20,182.83 67.90,182.76 68.60,183.01 69.30,182.78 70.00,182.85 70.70,182.70 71.40,182.42 72.10,182.53 72.80,182.87 73.50,183.42 74.20,183.86 74.90,185.15 75.60,186.30 76.30,188.43 77.00,191.48 77.70,194.54 78.40,198.05 79.10,201.20 79.80,204.27 80.50,206.52 81.20,208.31 81.90,210.25 82.60,212.26 83.30,213.89 84.00,215.63 84.70,216.85 85.40,218.47 86.10,219.56 86.80,220.63 87.50,221.36 88.20,221.73 88.90,222.62 89.60,223.76 90.30,224.23 91.00,225.07 91.70,225.37 92.40,225.79 93.10,226.65 93.80,227.31 94.50,227.63 95.20,228.13 95.90,228.83 96.60,229.51 97.30,229.74 98.00,229.74 98.70,230.13 99.40,230.39 100.10,230.69 100.80,231.39 101.50,231.41 102.20,231.88 102.90,232.02 103.60,232.09 104.30,232.55 105.00,232.44 105.70,232.89 106.40,232.82 107.10,233.16 107.80,233.25 108.50,233.47 109.20,234.02 109.90,234.12 110.60,234.01 111.30,234.43 112.00,234.22 112.70,234.43 113.40,234.79 114.10,234.81 114.80,234.66 115.50,235.23 116.20,234.97 116.90,235.12 117.60,235.50 118.30,235.41 119.00,235.52 119.70,235.53 120.40,235.63 121.10,235.93 121.80,235.82 122.50,236.05 123.20,235.99 123.90,236.09 124.60,236.40 125.30,236.22 126.00,236.32 126.70,236.52 127.40,236.23 128.10,236.28 128.80,236.71 129.50,236.72 130.20,236.46 130.90,236.39 131.60,236.62 132.30,236.68 133.00,236.27 133.70,236.60 134.40,236.53 135.10,236.35 135.80,236.21 136.50,236.01 137.20,235.94 137.90,236.36 138.60,235.95 139.30,236.14 140.00,235.88 140.70,236.08 141.40,235.88 142.10,235.64 142.80,235.50 143.50,235.69 144.20,235.28 144.90,235.28 145.60,235.36 146.30,235.42 147.00,235.22 147.70,234.97 148.40,235.20 149.10,234.76 149.80,234.58 150.50,234.58 151.20,234.53 151.90,234.20 152.60,234.12 153.30,234.07 154.00,234.04 154.70,233.68 155.40,233.65 156.10,233.78 156.80,233.68 157.50,233.38 158.20,233.26 158.90,233.06 159.60,232.70 160.30,232.53 161.00,232.43 161.70,232.78 162.40,232.59 163.10,232.63 163.80,232.07 164.50,232.28 165.20,232.12 165.90,232.15 166.60,231.85 167.30,232.10 168.00,231.55 168.70,231.69 169.40,231.70 170.10,231.68 170.80,231.46 171.50,231.30 172.20,231.21 172.90,231.13 173.60,230.71 174.30,230.73 175.00,230.70 175.70,230.55 176.40,230.18 177.10,230.23 177.80,230.12 178.50,229.84 179.20,229.72 179.90,229.46 180.60,229.45 181.30,229.36 182.00,228.99 182.70,229.16 183.40,229.24 184.10,229.07 184.80,228.89 185.50,228.62 186.20,228.69 186.90,228.51 187.60,228.33 188.30,228.42 189.00,227.94 189.70,228.17 190.40,227.71 191.10,227.90 191.80,227.74 192.50,227.52 193.20,227.65 193.90,227.45 194.60,227.41 195.30,227.47 196.00,227.04 196.70,226.82 197.40,226.86 198.10,226.96 198.80,226.62 199.50,226.50 200.20,226.78 200.90,226.56 201.60,226.36 202.30,226.50 203.00,226.12 203.70,226.20 204.40,225.88 205.10,225.90 205.80,226.00 206.50,225.96 207.20,225.85 207.90,225.52 208.60,225.52 209.30,225.30 210.00,225.12 210.70,225.17 211.40,225.22 212.10,225.10 212.80,224.90 213.50,224.90 214.20,224.43 214.90,224.25 215.60,224.27 216.30,224.05 217.00,223.90 217.70,223.87 218.40,223.85 219.10,223.66 219.80,223.44 220.50,223.57 221.20,223.50 221.90,223.10 222.60,222.77 223.30,222.61 224.00,222.89 224.70,222.33 225.40,222.52 226.10,222.32 226.80,222.04 227.50,222.15 228.20,221.62 228.90,221.54 229.60,221.56 230.30,221.22 231.00,221.53 231.70,221.14 232.40,221.00 233.10,220.86 233.80,221.06 234.50,220.88 235.20,220.87 235.90,220.79 236.60,220.78 237.30,220.76 238.00,220.53 238.70,220.19 239.40,220.24 240.10,220.00 240.80,219.82" fill="none" stroke="#4b0b8c" stroke-width="1.2" stroke-linejoin="round"/>
<line x1="58.5" y1="233.30" x2="240" y2="233.30" stroke="#000" stroke-width="1.9" stroke-dasharray="0.01 6.2" stroke-linecap="round"/>
<line x1="114.4" y1="128.8" x2="136.7" y2="128.8" stroke="#333" stroke-width="1.1"/>
<text x="149.9" y="132.4" font-size="10" text-anchor="start" font-weight="normal" font-style="normal" fill="#000">mCherry-Saline, n=5</text>
<line x1="114.4" y1="141.2" x2="136.7" y2="141.2" stroke="#ff0a6c" stroke-width="1.1"/>
<text x="149.9" y="144.79999999999998" font-size="10" text-anchor="start" font-weight="normal" font-style="normal" fill="#000">mCherry-CNO, n=5</text>
<line x1="114.4" y1="153.6" x2="136.7" y2="153.6" stroke="#168787" stroke-width="1.1"/>
<text x="149.9" y="157.2" font-size="10" text-anchor="start" font-weight="normal" font-style="normal" fill="#000">hM3Dq-Saline, n=11</text>
<line x1="114.4" y1="165.9" x2="136.7" y2="165.9" stroke="#4b0b8c" stroke-width="1.1"/>
<text x="149.9" y="169.5" font-size="10" text-anchor="start" font-weight="normal" font-style="normal" fill="#000">hM3Dq-CNO, n=11</text>
<line x1="250.9" y1="129.4" x2="250.9" y2="144.4" stroke="#222" stroke-width="1.1"/>
<text x="259.4" y="135.0" font-size="10" text-anchor="start" font-weight="normal" font-style="normal" fill="#000" transform="rotate(90 259.4 135.0)">ns</text>
<line x1="246.2" y1="153.3" x2="246.2" y2="168.0" stroke="#000" stroke-width="1.1"/>
<line x1="251.15" y1="155.0" x2="254.05" y2="155.0" stroke="#000" stroke-width="1.2" stroke-linecap="round"/>
<line x1="251.88" y1="153.74" x2="253.32" y2="156.26" stroke="#000" stroke-width="1.2" stroke-linecap="round"/>
<line x1="253.32" y1="153.74" x2="251.88" y2="156.26" stroke="#000" stroke-width="1.2" stroke-linecap="round"/>
<line x1="251.15" y1="158.75" x2="254.05" y2="158.75" stroke="#000" stroke-width="1.2" stroke-linecap="round"/>
<line x1="251.88" y1="157.49" x2="253.32" y2="160.01" stroke="#000" stroke-width="1.2" stroke-linecap="round"/>
<line x1="253.32" y1="157.49" x2="251.88" y2="160.01" stroke="#000" stroke-width="1.2" stroke-linecap="round"/>
<line x1="251.15" y1="162.5" x2="254.05" y2="162.5" stroke="#000" stroke-width="1.2" stroke-linecap="round"/>
<line x1="251.88" y1="161.24" x2="253.32" y2="163.76" stroke="#000" stroke-width="1.2" stroke-linecap="round"/>
<line x1="253.32" y1="161.24" x2="251.88" y2="163.76" stroke="#000" stroke-width="1.2" stroke-linecap="round"/>
<line x1="251.15" y1="166.25" x2="254.05" y2="166.25" stroke="#000" stroke-width="1.2" stroke-linecap="round"/>
<line x1="251.88" y1="164.99" x2="253.32" y2="167.51" stroke="#000" stroke-width="1.2" stroke-linecap="round"/>
<line x1="253.32" y1="164.99" x2="251.88" y2="167.51" stroke="#000" stroke-width="1.2" stroke-linecap="round"/>
<circle cx="280.40" cy="131.30" r="2.2" fill="#000"/>
<text x="304.59999999999997" y="134.9" font-size="10" text-anchor="start" font-weight="normal" font-style="normal" fill="#000">mCherry-Saline, n=4</text>
<circle cx="280.40" cy="143.60" r="2.2" fill="#ff0a6c"/>
<text x="304.59999999999997" y="147.2" font-size="10" text-anchor="start" font-weight="normal" font-style="normal" fill="#000">mCherry-CNO, n=5</text>
<circle cx="416.30" cy="131.00" r="2.2" fill="#168787"/>
<text x="440.5" y="134.6" font-size="10" text-anchor="start" font-weight="normal" font-style="normal" fill="#000">hM3Dq-Saline, n=11</text>
<circle cx="416.30" cy="143.30" r="2.2" fill="#4b0b8c"/>
<text x="440.5" y="146.9" font-size="10" text-anchor="start" font-weight="normal" font-style="normal" fill="#000">hM3Dq-CNO, n=11</text>
<line x1="318" y1="162.2" x2="318" y2="272.6" stroke="#000" stroke-width="1.25"/>
<line x1="310.7" y1="162.15" x2="318" y2="162.15" stroke="#000" stroke-width="1.1"/>
<text x="308.2" y="165.75" font-size="10" text-anchor="end" font-weight="normal" font-style="normal" fill="#000">5</text>
<line x1="310.7" y1="199.0" x2="318" y2="199.0" stroke="#000" stroke-width="1.1"/>
<text x="308.2" y="202.6" font-size="10" text-anchor="end" font-weight="normal" font-style="normal" fill="#000">0</text>
<line x1="310.7" y1="235.85" x2="318" y2="235.85" stroke="#000" stroke-width="1.1"/>
<text x="308.2" y="239.45" font-size="10" text-anchor="end" font-weight="normal" font-style="normal" fill="#000">&#8722;5</text>
<line x1="310.7" y1="272.7" x2="318" y2="272.7" stroke="#000" stroke-width="1.1"/>
<text x="308.2" y="276.3" font-size="10" text-anchor="end" font-weight="normal" font-style="normal" fill="#000">&#8722;10</text>
<line x1="318" y1="272.6" x2="392.4" y2="272.6" stroke="#000" stroke-width="1.25"/>
<text x="284.5" y="218.6" font-size="10" text-anchor="middle" font-weight="normal" font-style="normal" fill="#000" transform="rotate(-90 284.5 218.6)">ΔTave Core (&#160;°C)</text>
<path d="M375.85,238.00 L375.85,198.40 L385.45,198.40 L385.45,238.00" fill="none" stroke="#4b0b8c" stroke-width="1.1"/>
<circle cx="325.60" cy="196.20" r="2.3" fill="#000"/>
<circle cx="332.80" cy="196.40" r="2.3" fill="#000"/>
<circle cx="329.40" cy="204.20" r="2.3" fill="#000"/>
<circle cx="328.60" cy="198.60" r="2.3" fill="#000"/>
<line x1="325" y1="199" x2="334" y2="199" stroke="#000" stroke-width="1.25"/>
<circle cx="341.60" cy="196.00" r="2.3" fill="#ff0a6c"/>
<circle cx="346.80" cy="195.40" r="2.3" fill="#ff0a6c"/>
<circle cx="350.60" cy="197.40" r="2.3" fill="#ff0a6c"/>
<circle cx="343.40" cy="199.20" r="2.3" fill="#ff0a6c"/>
<circle cx="345.40" cy="204.80" r="2.3" fill="#ff0a6c"/>
<circle cx="348.60" cy="199.40" r="2.3" fill="#ff0a6c"/>
<circle cx="359.00" cy="198.00" r="2.3" fill="#168787"/>
<circle cx="362.00" cy="195.00" r="2.3" fill="#168787"/>
<circle cx="365.00" cy="196.00" r="2.3" fill="#168787"/>
<circle cx="367.00" cy="198.50" r="2.3" fill="#168787"/>
<circle cx="361.00" cy="200.50" r="2.3" fill="#168787"/>
<circle cx="364.00" cy="201.00" r="2.3" fill="#168787"/>
<circle cx="360.50" cy="196.50" r="2.3" fill="#168787"/>
<circle cx="363.50" cy="198.50" r="2.3" fill="#168787"/>
<circle cx="366.00" cy="200.50" r="2.3" fill="#168787"/>
<circle cx="362.50" cy="202.00" r="2.3" fill="#168787"/>
<circle cx="358.50" cy="200.50" r="2.3" fill="#168787"/>
<line x1="380.6" y1="233.8" x2="380.6" y2="242.2" stroke="#4b0b8c" stroke-width="1.1"/>
<line x1="378.0" y1="233.8" x2="383.20000000000005" y2="233.8" stroke="#4b0b8c" stroke-width="1.1"/>
<line x1="378.0" y1="242.2" x2="383.20000000000005" y2="242.2" stroke="#4b0b8c" stroke-width="1.1"/>
<circle cx="378.50" cy="216.80" r="2.3" fill="#4b0b8c"/>
<circle cx="382.20" cy="218.80" r="2.3" fill="#4b0b8c"/>
<circle cx="380.20" cy="225.40" r="2.3" fill="#4b0b8c"/>
<circle cx="383.00" cy="226.80" r="2.3" fill="#4b0b8c"/>
<circle cx="377.50" cy="242.80" r="2.3" fill="#4b0b8c"/>
<circle cx="381.50" cy="243.80" r="2.3" fill="#4b0b8c"/>
<circle cx="384.20" cy="245.20" r="2.3" fill="#4b0b8c"/>
<circle cx="379.50" cy="247.50" r="2.3" fill="#4b0b8c"/>
<circle cx="383.50" cy="251.50" r="2.3" fill="#4b0b8c"/>
<circle cx="380.80" cy="252.50" r="2.3" fill="#4b0b8c"/>
<circle cx="380.60" cy="258.00" r="2.3" fill="#4b0b8c"/>
<path d="M331.2,186.8 L331.2,179.3 L344.8,179.3 L344.8,186.8" fill="none" stroke="#000" stroke-width="1.2"/>
<text x="339.1" y="175.8" font-size="10" text-anchor="middle" font-weight="normal" font-style="normal" fill="#000">ns</text>
<path d="M367.7,188.8 L367.7,182.0 L381.7,182.0 L381.7,188.8" fill="none" stroke="#000" stroke-width="1.2"/>
<text x="355.62" y="176.8" font-size="9.99" font-style="italic">P</text>
<path d="M371.14,169.82 L364.15,173.31 L371.14,176.80" fill="none" stroke="#000" stroke-width="0.85"/>
<text x="371.91" y="176.8" font-size="9.99">0.001</text>
<line x1="449.1" y1="163.0" x2="449.1" y2="274.0" stroke="#000" stroke-width="1.25"/>
<line x1="441.6" y1="170.8" x2="449.1" y2="170.8" stroke="#000" stroke-width="1.1"/>
<text x="439.4" y="174.4" font-size="10" text-anchor="end" font-weight="normal" font-style="normal" fill="#000">3</text>
<line x1="441.6" y1="205.2" x2="449.1" y2="205.2" stroke="#000" stroke-width="1.1"/>
<text x="439.4" y="208.79999999999998" font-size="10" text-anchor="end" font-weight="normal" font-style="normal" fill="#000">2</text>
<line x1="441.6" y1="239.6" x2="449.1" y2="239.6" stroke="#000" stroke-width="1.1"/>
<text x="439.4" y="243.2" font-size="10" text-anchor="end" font-weight="normal" font-style="normal" fill="#000">1</text>
<line x1="441.6" y1="274.0" x2="449.1" y2="274.0" stroke="#000" stroke-width="1.1"/>
<text x="439.4" y="277.6" font-size="10" text-anchor="end" font-weight="normal" font-style="normal" fill="#000">0</text>
<line x1="449.1" y1="274.0" x2="522.7" y2="274.0" stroke="#000" stroke-width="1.25"/>
<text x="424.0" y="220.7" font-size="10" text-anchor="middle" font-weight="normal" font-style="normal" fill="#000" transform="rotate(-90 424.0 220.7)">StdDev Tcore</text>
<path d="M455.15,274.00 L455.15,250.40 L465.05,250.40 L465.05,274.00" fill="none" stroke="#000" stroke-width="1.1"/>
<path d="M472.45,274.00 L472.45,253.00 L482.35,253.00 L482.35,274.00" fill="none" stroke="#ff0a6c" stroke-width="1.1"/>
<path d="M489.75,274.00 L489.75,256.70 L499.05,256.70 L499.05,274.00" fill="none" stroke="#168787" stroke-width="1.1"/>
<path d="M506.55,274.00 L506.55,218.40 L516.45,218.40 L516.45,274.00" fill="none" stroke="#4b0b8c" stroke-width="1.1"/>
<circle cx="459.80" cy="233.60" r="2.3" fill="#000"/>
<circle cx="458.40" cy="243.70" r="2.3" fill="#000"/>
<circle cx="456.30" cy="251.50" r="2.3" fill="#000"/>
<circle cx="457.00" cy="259.00" r="2.3" fill="#000"/>
<circle cx="464.10" cy="259.00" r="2.3" fill="#000"/>
<line x1="460.1" y1="245.5" x2="460.1" y2="255.3" stroke="#000" stroke-width="1.1"/>
<line x1="457.5" y1="245.5" x2="462.70000000000005" y2="245.5" stroke="#000" stroke-width="1.1"/>
<line x1="457.5" y1="255.3" x2="462.70000000000005" y2="255.3" stroke="#000" stroke-width="1.1"/>
<circle cx="475.10" cy="246.00" r="2.3" fill="#ff0a6c"/>
<circle cx="479.40" cy="248.00" r="2.3" fill="#ff0a6c"/>
<circle cx="476.00" cy="253.00" r="2.3" fill="#ff0a6c"/>
<circle cx="478.00" cy="256.80" r="2.3" fill="#ff0a6c"/>
<circle cx="480.60" cy="254.40" r="2.3" fill="#ff0a6c"/>
<line x1="477.4" y1="249.2" x2="477.4" y2="256.8" stroke="#ff0a6c" stroke-width="1.1"/>
<line x1="474.79999999999995" y1="249.2" x2="480.0" y2="249.2" stroke="#ff0a6c" stroke-width="1.1"/>
<line x1="474.79999999999995" y1="256.8" x2="480.0" y2="256.8" stroke="#ff0a6c" stroke-width="1.1"/>
<circle cx="494.40" cy="231.60" r="2.3" fill="#168787"/>
<circle cx="493.00" cy="253.00" r="2.3" fill="#168787"/>
<circle cx="497.00" cy="251.50" r="2.3" fill="#168787"/>
<circle cx="492.00" cy="257.00" r="2.3" fill="#168787"/>
<circle cx="495.00" cy="259.00" r="2.3" fill="#168787"/>
<circle cx="491.50" cy="262.00" r="2.3" fill="#168787"/>
<circle cx="496.50" cy="262.00" r="2.3" fill="#168787"/>
<circle cx="494.00" cy="266.50" r="2.3" fill="#168787"/>
<circle cx="498.00" cy="255.50" r="2.3" fill="#168787"/>
<circle cx="493.50" cy="260.00" r="2.3" fill="#168787"/>
<circle cx="496.00" cy="256.50" r="2.3" fill="#168787"/>
<line x1="494.4" y1="252.0" x2="494.4" y2="261.4" stroke="#168787" stroke-width="1.1"/>
<line x1="491.79999999999995" y1="252.0" x2="497.0" y2="252.0" stroke="#168787" stroke-width="1.1"/>
<line x1="491.79999999999995" y1="261.4" x2="497.0" y2="261.4" stroke="#168787" stroke-width="1.1"/>
<circle cx="510.30" cy="185.50" r="2.3" fill="#4b0b8c"/>
<circle cx="509.00" cy="207.00" r="2.3" fill="#4b0b8c"/>
<circle cx="512.50" cy="205.00" r="2.3" fill="#4b0b8c"/>
<circle cx="508.00" cy="216.00" r="2.3" fill="#4b0b8c"/>
<circle cx="514.00" cy="214.00" r="2.3" fill="#4b0b8c"/>
<circle cx="510.50" cy="222.00" r="2.3" fill="#4b0b8c"/>
<circle cx="507.50" cy="226.00" r="2.3" fill="#4b0b8c"/>
<circle cx="513.00" cy="225.50" r="2.3" fill="#4b0b8c"/>
<circle cx="509.50" cy="230.50" r="2.3" fill="#4b0b8c"/>
<circle cx="515.00" cy="230.50" r="2.3" fill="#4b0b8c"/>
<circle cx="511.50" cy="219.00" r="2.3" fill="#4b0b8c"/>
<line x1="511.5" y1="213.0" x2="511.5" y2="223.8" stroke="#4b0b8c" stroke-width="1.1"/>
<line x1="508.9" y1="213.0" x2="514.1" y2="213.0" stroke="#4b0b8c" stroke-width="1.1"/>
<line x1="508.9" y1="223.8" x2="514.1" y2="223.8" stroke="#4b0b8c" stroke-width="1.1"/>
<path d="M460.7,228.5 L460.7,221.5 L474.2,221.5 L474.2,228.5" fill="none" stroke="#000" stroke-width="1.2"/>
<text x="467.4" y="219.4" font-size="10" text-anchor="middle" font-weight="normal" font-style="normal" fill="#000">ns</text>
<path d="M496.7,181.2 L496.7,174.5 L510.3,174.5 L510.3,181.2" fill="none" stroke="#000" stroke-width="1.2"/>
<text x="483.00" y="170.2" font-size="10.30" font-style="italic">P</text>
<path d="M499.00,163.00 L491.80,166.60 L499.00,170.20" fill="none" stroke="#000" stroke-width="0.85"/>
<text x="499.80" y="170.2" font-size="10.30">0.001</text>
<line x1="574.5" y1="159.0" x2="574.5" y2="271.1" stroke="#000" stroke-width="1.25"/>
<line x1="567.0" y1="161.50000000000003" x2="574.5" y2="161.50000000000003" stroke="#000" stroke-width="1.1"/>
<text x="564.8" y="165.10000000000002" font-size="10" text-anchor="end" font-weight="normal" font-style="normal" fill="#000">40</text>
<line x1="567.0" y1="188.90000000000003" x2="574.5" y2="188.90000000000003" stroke="#000" stroke-width="1.1"/>
<text x="564.8" y="192.50000000000003" font-size="10" text-anchor="end" font-weight="normal" font-style="normal" fill="#000">36</text>
<line x1="567.0" y1="216.3" x2="574.5" y2="216.3" stroke="#000" stroke-width="1.1"/>
<text x="564.8" y="219.9" font-size="10" text-anchor="end" font-weight="normal" font-style="normal" fill="#000">32</text>
<line x1="567.0" y1="243.70000000000002" x2="574.5" y2="243.70000000000002" stroke="#000" stroke-width="1.1"/>
<text x="564.8" y="247.3" font-size="10" text-anchor="end" font-weight="normal" font-style="normal" fill="#000">28</text>
<line x1="567.0" y1="271.1" x2="574.5" y2="271.1" stroke="#000" stroke-width="1.1"/>
<text x="564.8" y="274.70000000000005" font-size="10" text-anchor="end" font-weight="normal" font-style="normal" fill="#000">24</text>
<line x1="574.5" y1="271.1" x2="648.0" y2="271.1" stroke="#000" stroke-width="1.25"/>
<text x="544.4" y="218.0" font-size="10" text-anchor="middle" font-weight="normal" font-style="normal" fill="#000" transform="rotate(-90 544.4 218.0)">Min.Tcore(°C)</text>
<path d="M580.85,271.10 L580.85,195.60 L590.45,195.60 L590.45,271.10" fill="none" stroke="#000" stroke-width="1.1"/>
<path d="M598.15,271.10 L598.15,191.80 L607.15,191.80 L607.15,271.10" fill="none" stroke="#ff0a6c" stroke-width="1.1"/>
<path d="M614.55,271.10 L614.55,191.80 L624.45,191.80 L624.45,271.10" fill="none" stroke="#168787" stroke-width="1.1"/>
<path d="M631.85,271.10 L631.85,233.60 L641.15,233.60 L641.15,271.10" fill="none" stroke="#4b0b8c" stroke-width="1.1"/>
<circle cx="582.30" cy="188.40" r="2.3" fill="#000"/>
<circle cx="586.90" cy="190.40" r="2.3" fill="#000"/>
<circle cx="589.50" cy="189.00" r="2.3" fill="#000"/>
<circle cx="586.00" cy="214.90" r="2.3" fill="#000"/>
<line x1="585.6" y1="189.5" x2="585.6" y2="201.5" stroke="#000" stroke-width="1.1"/>
<line x1="583.0" y1="189.5" x2="588.2" y2="189.5" stroke="#000" stroke-width="1.1"/>
<line x1="583.0" y1="201.5" x2="588.2" y2="201.5" stroke="#000" stroke-width="1.1"/>
<circle cx="599.50" cy="191.00" r="2.3" fill="#ff0a6c"/>
<circle cx="602.00" cy="190.20" r="2.3" fill="#ff0a6c"/>
<circle cx="604.50" cy="191.00" r="2.3" fill="#ff0a6c"/>
<circle cx="606.00" cy="192.50" r="2.3" fill="#ff0a6c"/>
<circle cx="601.00" cy="193.00" r="2.3" fill="#ff0a6c"/>
<circle cx="603.50" cy="192.60" r="2.3" fill="#ff0a6c"/>
<circle cx="616.00" cy="189.00" r="2.3" fill="#168787"/>
<circle cx="619.00" cy="187.50" r="2.3" fill="#168787"/>
<circle cx="622.00" cy="189.50" r="2.3" fill="#168787"/>
<circle cx="617.50" cy="191.50" r="2.3" fill="#168787"/>
<circle cx="620.50" cy="193.00" r="2.3" fill="#168787"/>
<circle cx="623.50" cy="192.00" r="2.3" fill="#168787"/>
<circle cx="616.50" cy="194.50" r="2.3" fill="#168787"/>
<circle cx="619.50" cy="196.50" r="2.3" fill="#168787"/>
<circle cx="622.50" cy="195.50" r="2.3" fill="#168787"/>
<circle cx="618.00" cy="190.00" r="2.3" fill="#168787"/>
<circle cx="621.00" cy="191.00" r="2.3" fill="#168787"/>
<circle cx="632.20" cy="223.60" r="2.3" fill="#4b0b8c"/>
<circle cx="639.40" cy="223.60" r="2.3" fill="#4b0b8c"/>
<circle cx="636.20" cy="226.50" r="2.3" fill="#4b0b8c"/>
<circle cx="633.50" cy="230.00" r="2.3" fill="#4b0b8c"/>
<circle cx="640.20" cy="231.50" r="2.3" fill="#4b0b8c"/>
<circle cx="634.50" cy="235.00" r="2.3" fill="#4b0b8c"/>
<circle cx="637.80" cy="237.00" r="2.3" fill="#4b0b8c"/>
<circle cx="636.00" cy="247.50" r="2.3" fill="#4b0b8c"/>
<circle cx="636.00" cy="266.80" r="2.3" fill="#4b0b8c"/>
<circle cx="635.50" cy="240.50" r="2.3" fill="#4b0b8c"/>
<circle cx="638.20" cy="228.60" r="2.3" fill="#4b0b8c"/>
<line x1="636.5" y1="229.0" x2="636.5" y2="238.2" stroke="#4b0b8c" stroke-width="1.1"/>
<line x1="633.9" y1="229.0" x2="639.1" y2="229.0" stroke="#4b0b8c" stroke-width="1.1"/>
<line x1="633.9" y1="238.2" x2="639.1" y2="238.2" stroke="#4b0b8c" stroke-width="1.1"/>
<path d="M585.5,182.3 L585.5,175.4 L604.0,175.4 L604.0,182.3" fill="none" stroke="#000" stroke-width="1.2"/>
<text x="593.0" y="169.9" font-size="10" text-anchor="middle" font-weight="normal" font-style="normal" fill="#000">ns</text>
<path d="M621.9,180.3 L621.9,172.7 L640.0,172.7 L640.0,180.3" fill="none" stroke="#000" stroke-width="1.2"/>
<text x="613.24" y="167.0" font-size="9.58" font-style="italic">P</text>
<path d="M628.12,160.30 L621.43,163.65 L628.12,167.00" fill="none" stroke="#000" stroke-width="0.85"/>
<text x="628.87" y="167.0" font-size="9.58">0.001</text>
<line x1="53.0" y1="303.6" x2="53.0" y2="414.3" stroke="#000" stroke-width="1.25"/>
<line x1="45.3" y1="303.6" x2="53.0" y2="303.6" stroke="#000" stroke-width="1.1"/>
<text x="42.8" y="307.20000000000005" font-size="10" text-anchor="end" font-weight="normal" font-style="normal" fill="#000">150</text>
<line x1="45.3" y1="340.5" x2="53.0" y2="340.5" stroke="#000" stroke-width="1.1"/>
<text x="42.8" y="344.1" font-size="10" text-anchor="end" font-weight="normal" font-style="normal" fill="#000">100</text>
<line x1="45.3" y1="377.40000000000003" x2="53.0" y2="377.40000000000003" stroke="#000" stroke-width="1.1"/>
<text x="42.8" y="381.00000000000006" font-size="10" text-anchor="end" font-weight="normal" font-style="normal" fill="#000">50</text>
<line x1="45.3" y1="414.3" x2="53.0" y2="414.3" stroke="#000" stroke-width="1.1"/>
<text x="42.8" y="417.90000000000003" font-size="10" text-anchor="end" font-weight="normal" font-style="normal" fill="#000">0</text>
<line x1="53.0" y1="414.3" x2="241.2" y2="414.3" stroke="#000" stroke-width="1.25"/>
<line x1="53.0" y1="414.3" x2="53.0" y2="422.2" stroke="#000" stroke-width="1.1"/>
<text x="52.7" y="434.9" font-size="10" text-anchor="middle" font-weight="normal" font-style="normal" fill="#000">-1</text>
<line x1="71.8" y1="414.3" x2="71.8" y2="422.2" stroke="#000" stroke-width="1.1"/>
<text x="71.8" y="434.9" font-size="10" text-anchor="middle" font-weight="normal" font-style="normal" fill="#000">0</text>
<line x1="90.6" y1="414.3" x2="90.6" y2="422.2" stroke="#000" stroke-width="1.1"/>
<text x="90.6" y="434.9" font-size="10" text-anchor="middle" font-weight="normal" font-style="normal" fill="#000">1</text>
<line x1="109.4" y1="414.3" x2="109.4" y2="422.2" stroke="#000" stroke-width="1.1"/>
<text x="109.4" y="434.9" font-size="10" text-anchor="middle" font-weight="normal" font-style="normal" fill="#000">2</text>
<line x1="128.2" y1="414.3" x2="128.2" y2="422.2" stroke="#000" stroke-width="1.1"/>
<text x="128.2" y="434.9" font-size="10" text-anchor="middle" font-weight="normal" font-style="normal" fill="#000">3</text>
<line x1="147.0" y1="414.3" x2="147.0" y2="422.2" stroke="#000" stroke-width="1.1"/>
<text x="147.0" y="434.9" font-size="10" text-anchor="middle" font-weight="normal" font-style="normal" fill="#000">4</text>
<line x1="165.8" y1="414.3" x2="165.8" y2="422.2" stroke="#000" stroke-width="1.1"/>
<text x="165.8" y="434.9" font-size="10" text-anchor="middle" font-weight="normal" font-style="normal" fill="#000">5</text>
<line x1="184.6" y1="414.3" x2="184.6" y2="422.2" stroke="#000" stroke-width="1.1"/>
<text x="184.6" y="434.9" font-size="10" text-anchor="middle" font-weight="normal" font-style="normal" fill="#000">6</text>
<line x1="203.4" y1="414.3" x2="203.4" y2="422.2" stroke="#000" stroke-width="1.1"/>
<text x="203.4" y="434.9" font-size="10" text-anchor="middle" font-weight="normal" font-style="normal" fill="#000">7</text>
<line x1="222.20000000000002" y1="414.3" x2="222.20000000000002" y2="422.2" stroke="#000" stroke-width="1.1"/>
<text x="222.20000000000002" y="434.9" font-size="10" text-anchor="middle" font-weight="normal" font-style="normal" fill="#000">8</text>
<line x1="241.0" y1="414.3" x2="241.0" y2="422.2" stroke="#000" stroke-width="1.1"/>
<text x="241.0" y="434.9" font-size="10" text-anchor="middle" font-weight="normal" font-style="normal" fill="#000">9</text>
<text x="147.4" y="449.6" font-size="10" text-anchor="middle" font-weight="normal" font-style="normal" fill="#000">Time after injection (h)</text>
<text x="17.2" y="361.7" font-size="10" text-anchor="middle" font-weight="normal" font-style="normal" fill="#000" transform="rotate(-90 17.2 361.7)">Activity&#160; (AU)</text>
<line x1="71.4" y1="302.5" x2="71.4" y2="414.3" stroke="#000" stroke-width="1.1" stroke-dasharray="3 2"/>
<polygon points="53.00,377.82 53.50,377.18 54.00,368.95 54.50,359.69 55.00,364.02 55.50,363.27 56.00,359.99 56.50,351.57 57.00,347.73 57.50,353.16 58.00,359.36 58.50,361.58 59.00,364.86 59.50,372.07 60.00,374.84 60.50,378.20 61.00,382.70 61.50,385.70 62.00,389.58 62.50,383.50 63.00,389.92 63.50,383.67 64.00,387.28 64.50,385.32 65.00,382.92 65.50,383.05 66.00,381.90 66.50,380.86 67.00,381.01 67.50,380.14 68.00,376.32 68.50,377.98 69.00,365.01 69.50,370.76 70.00,377.87 70.50,379.58 71.00,373.47 71.50,364.33 72.00,359.52 72.50,344.17 73.00,351.46 73.50,351.23 74.00,363.86 74.50,360.67 75.00,364.16 75.50,361.46 76.00,364.02 76.50,367.95 77.00,376.82 77.50,383.39 78.00,383.60 78.50,382.15 79.00,390.15 79.50,385.41 80.00,387.10 80.50,389.65 81.00,389.95 81.50,392.51 82.00,395.99 82.50,395.73 83.00,397.25 83.50,393.43 84.00,392.73 84.50,390.69 85.00,392.12 85.50,395.82 86.00,395.66 86.50,398.35 87.00,398.97 87.50,399.77 88.00,399.34 88.50,397.79 89.00,398.49 89.50,402.20 90.00,400.39 90.50,404.57 91.00,399.23 91.50,404.33 92.00,400.48 92.50,401.37 93.00,404.71 93.50,400.96 94.00,398.40 94.50,399.08 95.00,398.15 95.50,395.65 96.00,398.32 96.50,392.36 97.00,387.26 97.50,394.89 98.00,400.11 98.50,399.76 99.00,402.42 99.50,400.30 100.00,401.26 100.50,403.36 101.00,401.61 101.50,396.19 102.00,405.36 102.50,404.47 103.00,401.03 103.50,400.06 104.00,400.31 104.50,400.14 105.00,397.98 105.50,400.63 106.00,398.42 106.50,400.58 107.00,398.16 107.50,400.20 108.00,403.02 108.50,397.76 109.00,398.47 109.50,395.96 110.00,397.69 110.50,399.37 111.00,395.44 111.50,395.88 112.00,398.99 112.50,399.03 113.00,399.70 113.50,394.49 114.00,400.66 114.50,396.60 115.00,393.44 115.50,399.90 116.00,398.13 116.50,397.26 117.00,392.85 117.50,396.26 118.00,395.07 118.50,397.32 119.00,395.72 119.50,393.67 120.00,397.17 120.50,398.03 121.00,397.60 121.50,397.58 122.00,397.18 122.50,399.51 123.00,394.68 123.50,400.74 124.00,400.54 124.50,395.54 125.00,397.68 125.50,397.10 126.00,400.84 126.50,396.79 127.00,399.77 127.50,399.67 128.00,396.82 128.50,394.75 129.00,394.99 129.50,393.83 130.00,394.74 130.50,393.95 131.00,397.31 131.50,395.37 132.00,395.78 132.50,399.23 133.00,397.76 133.50,400.47 134.00,400.33 134.50,394.91 135.00,398.29 135.50,399.04 136.00,402.88 136.50,402.44 137.00,406.89 137.50,403.45 138.00,403.31 138.50,399.19 139.00,396.08 139.50,395.77 140.00,391.83 140.50,392.20 141.00,387.92 141.50,394.80 142.00,394.72 142.50,395.25 143.00,391.79 143.50,392.93 144.00,396.38 144.50,397.59 145.00,396.05 145.50,394.53 146.00,398.68 146.50,393.62 147.00,397.35 147.50,400.58 148.00,398.91 148.50,399.41 149.00,403.12 149.50,403.07 150.00,404.04 150.50,401.79 151.00,400.16 151.50,407.98 152.00,403.06 152.50,403.75 153.00,406.50 153.50,403.35 154.00,404.26 154.50,401.47 155.00,401.30 155.50,402.53 156.00,400.66 156.50,400.41 157.00,399.53 157.50,400.18 158.00,400.54 158.50,401.81 159.00,402.01 159.50,402.56 160.00,399.90 160.50,402.75 161.00,403.11 161.50,394.37 162.00,396.34 162.50,399.96 163.00,397.84 163.50,398.75 164.00,393.57 164.50,391.89 165.00,399.11 165.50,400.77 166.00,397.07 166.50,399.77 167.00,402.40 167.50,400.59 168.00,395.96 168.50,398.06 169.00,400.57 169.50,398.95 170.00,402.24 170.50,397.98 171.00,400.73 171.50,404.35 172.00,396.83 172.50,398.37 173.00,394.77 173.50,389.71 174.00,391.03 174.50,390.55 175.00,389.63 175.50,393.50 176.00,390.77 176.50,393.57 177.00,394.37 177.50,395.89 178.00,393.70 178.50,400.68 179.00,400.75 179.50,399.05 180.00,406.39 180.50,404.98 181.00,400.57 181.50,399.05 182.00,393.08 182.50,399.04 183.00,395.78 183.50,393.53 184.00,393.92 184.50,393.69 185.00,391.62 185.50,396.16 186.00,393.10 186.50,395.05 187.00,392.19 187.50,391.26 188.00,387.56 188.50,390.69 189.00,393.13 189.50,392.18 190.00,390.24 190.50,391.77 191.00,393.91 191.50,398.93 192.00,397.72 192.50,396.20 193.00,402.73 193.50,405.55 194.00,407.59 194.50,404.63 195.00,405.90 195.50,404.78 196.00,405.97 196.50,405.06 197.00,406.43 197.50,404.65 198.00,405.20 198.50,402.74 199.00,406.59 199.50,403.79 200.00,404.39 200.50,405.95 201.00,401.34 201.50,403.17 202.00,403.36 202.50,406.23 203.00,407.42 203.50,401.39 204.00,404.16 204.50,406.50 205.00,403.94 205.50,407.69 206.00,404.04 206.50,403.64 207.00,402.68 207.50,401.25 208.00,403.97 208.50,401.23 209.00,404.13 209.50,400.37 210.00,401.11 210.50,402.39 211.00,396.84 211.50,390.21 212.00,391.03 212.50,388.93 213.00,386.84 213.50,376.54 214.00,372.86 214.50,378.76 215.00,386.30 215.50,386.91 216.00,393.12 216.50,394.05 217.00,395.26 217.50,399.54 218.00,397.24 218.50,398.66 219.00,400.23 219.50,402.33 220.00,399.93 220.50,398.30 221.00,401.07 221.50,401.86 222.00,404.18 222.50,400.16 223.00,401.22 223.50,397.29 224.00,399.49 224.50,403.41 225.00,398.80 225.50,402.64 226.00,401.33 226.50,404.27 227.00,403.54 227.50,401.17 228.00,404.02 228.50,403.47 229.00,405.90 229.50,405.20 230.00,403.40 230.50,402.30 231.00,402.87 231.50,401.21 232.00,402.04 232.50,400.46 233.00,403.74 233.50,405.83 234.00,403.46 234.50,397.56 235.00,399.11 235.50,397.76 236.00,395.68 236.50,390.97 237.00,388.39 237.50,390.06 238.00,392.26 238.50,393.04 239.00,398.00 239.50,394.45 240.00,395.30 240.50,399.30 241.00,399.02 241.00,408.22 240.50,407.68 240.00,403.86 239.50,403.36 239.00,406.10 238.50,401.92 238.00,402.90 237.50,399.11 237.00,398.10 236.50,401.00 236.00,405.65 235.50,405.92 235.00,407.15 234.50,405.26 234.00,412.30 233.50,412.24 233.00,409.97 232.50,408.42 232.00,409.36 231.50,408.83 231.00,411.17 230.50,412.16 230.00,411.57 229.50,412.95 229.00,411.85 228.50,412.21 228.00,412.16 227.50,408.56 227.00,410.66 226.50,410.14 226.00,408.76 225.50,409.49 225.00,411.08 224.50,409.60 224.00,409.08 223.50,407.66 223.00,409.88 222.50,410.65 222.00,410.21 221.50,408.67 221.00,407.16 220.50,406.48 220.00,407.43 219.50,409.49 219.00,408.21 218.50,406.00 218.00,407.34 217.50,406.53 217.00,404.81 216.50,404.14 216.00,403.51 215.50,398.22 215.00,396.52 214.50,393.14 214.00,389.29 213.50,390.40 213.00,396.98 212.50,398.23 212.00,400.01 211.50,400.28 211.00,405.80 210.50,408.56 210.00,411.42 209.50,410.39 209.00,410.50 208.50,408.94 208.00,411.53 207.50,407.38 207.00,412.30 206.50,410.86 206.00,412.05 205.50,414.20 205.00,413.05 204.50,413.70 204.00,412.30 203.50,409.91 203.00,414.30 202.50,412.45 202.00,412.32 201.50,413.36 201.00,407.95 200.50,413.03 200.00,412.07 199.50,410.84 199.00,411.59 198.50,409.10 198.00,411.35 197.50,411.91 197.00,412.55 196.50,412.87 196.00,412.26 195.50,410.03 195.00,413.63 194.50,412.26 194.00,414.30 193.50,412.63 193.00,409.52 192.50,407.01 192.00,405.28 191.50,406.04 191.00,404.36 190.50,404.11 190.00,399.09 189.50,401.08 189.00,403.15 188.50,400.94 188.00,398.21 187.50,401.47 187.00,401.73 186.50,403.36 186.00,402.68 185.50,406.17 185.00,401.39 184.50,401.85 184.00,404.03 183.50,401.62 183.00,404.17 182.50,407.24 182.00,404.82 181.50,405.69 181.00,408.56 180.50,411.96 180.00,411.57 179.50,409.13 179.00,408.16 178.50,410.65 178.00,404.50 177.50,406.75 177.00,403.48 176.50,402.77 176.00,400.67 175.50,401.44 175.00,398.60 174.50,402.86 174.00,403.11 173.50,399.34 173.00,406.45 172.50,407.18 172.00,405.94 171.50,411.34 171.00,407.97 170.50,407.36 170.00,409.54 169.50,408.84 169.00,408.53 168.50,406.79 168.00,406.46 167.50,407.68 167.00,409.88 166.50,406.39 166.00,405.48 165.50,409.04 165.00,405.81 164.50,401.69 164.00,403.72 163.50,407.75 163.00,405.22 162.50,406.72 162.00,407.19 161.50,407.00 161.00,409.63 160.50,410.40 160.00,407.63 159.50,408.79 159.00,410.77 158.50,408.00 158.00,407.06 157.50,407.19 157.00,408.01 156.50,406.79 156.00,407.66 155.50,408.95 155.00,408.63 154.50,408.03 154.00,412.07 153.50,411.29 153.00,413.63 152.50,410.10 152.00,413.26 151.50,414.30 151.00,407.92 150.50,411.58 150.00,412.56 149.50,410.46 149.00,411.58 148.50,408.49 148.00,407.65 147.50,408.55 147.00,404.87 146.50,402.94 146.00,405.53 145.50,404.47 145.00,404.83 144.50,405.15 144.00,405.22 143.50,403.16 143.00,401.52 142.50,402.51 142.00,404.53 141.50,404.05 141.00,400.94 140.50,401.64 140.00,401.62 139.50,405.51 139.00,405.74 138.50,408.82 138.00,410.03 137.50,412.51 137.00,413.52 136.50,411.05 136.00,410.82 135.50,406.37 135.00,408.83 134.50,404.87 134.00,409.14 133.50,406.98 133.00,407.51 132.50,408.40 132.00,404.07 131.50,407.72 131.00,405.11 130.50,405.26 130.00,402.88 129.50,403.50 129.00,403.26 128.50,405.30 128.00,406.15 127.50,409.31 127.00,407.78 126.50,406.87 126.00,407.99 125.50,407.17 125.00,407.38 124.50,406.28 124.00,407.90 123.50,410.65 123.00,403.29 122.50,405.79 122.00,406.56 121.50,404.72 121.00,406.55 120.50,408.13 120.00,407.59 119.50,401.55 119.00,403.55 118.50,404.48 118.00,404.33 117.50,404.48 117.00,403.21 116.50,404.54 116.00,406.41 115.50,407.16 115.00,405.12 114.50,408.75 114.00,407.24 113.50,404.46 113.00,408.43 112.50,408.40 112.00,406.57 111.50,404.95 111.00,405.42 110.50,410.21 110.00,407.37 109.50,405.00 109.00,406.08 108.50,405.13 108.00,412.27 107.50,407.62 107.00,408.08 106.50,407.98 106.00,407.22 105.50,408.91 105.00,408.92 104.50,409.63 104.00,407.76 103.50,406.30 103.00,409.06 102.50,410.07 102.00,411.29 101.50,408.07 101.00,411.17 100.50,409.60 100.00,409.12 99.50,408.59 99.00,408.89 98.50,409.30 98.00,409.22 97.50,405.76 97.00,400.13 96.50,404.34 96.00,408.00 95.50,406.27 95.00,407.26 94.50,406.31 94.00,409.38 93.50,410.34 93.00,411.71 92.50,408.78 92.00,408.96 91.50,410.41 91.00,409.03 90.50,411.77 90.00,407.79 89.50,409.81 89.00,408.37 88.50,407.37 88.00,407.32 87.50,410.42 87.00,407.38 86.50,407.43 86.00,403.13 85.50,404.27 85.00,402.14 84.50,400.13 84.00,403.40 83.50,404.00 83.00,404.05 82.50,402.99 82.00,404.50 81.50,400.71 81.00,399.17 80.50,400.93 80.00,397.83 79.50,397.09 79.00,400.31 78.50,393.55 78.00,395.44 77.50,393.88 77.00,390.57 76.50,383.29 76.00,379.09 75.50,376.97 75.00,379.25 74.50,375.81 74.00,378.96 73.50,369.21 73.00,369.39 72.50,366.09 72.00,375.90 71.50,383.36 71.00,386.77 70.50,390.59 70.00,391.45 69.50,388.73 69.00,379.63 68.50,389.70 68.00,390.90 67.50,393.47 67.00,393.39 66.50,391.98 66.00,395.97 65.50,394.27 65.00,393.68 64.50,396.06 64.00,396.60 63.50,394.63 63.00,399.14 62.50,398.12 62.00,400.29 61.50,395.26 61.00,394.28 60.50,389.44 60.00,389.40 59.50,384.33 59.00,379.52 58.50,376.84 58.00,376.74 57.50,369.90 57.00,368.54 56.50,368.25 56.00,376.79 55.50,382.30 55.00,377.95 54.50,380.68 54.00,384.06 53.50,390.90 53.00,391.07" fill="#ff4a4a" fill-opacity="0.72" stroke="none"/>
<polygon points="53.00,384.28 53.50,380.29 54.00,389.38 54.50,382.69 55.00,378.27 55.50,378.03 56.00,377.88 56.50,379.92 57.00,383.73 57.50,378.46 58.00,384.01 58.50,378.35 59.00,371.80 59.50,372.83 60.00,380.56 60.50,376.84 61.00,386.31 61.50,384.67 62.00,388.13 62.50,382.47 63.00,381.58 63.50,385.51 64.00,387.29 64.50,382.79 65.00,389.75 65.50,387.42 66.00,394.66 66.50,386.22 67.00,386.45 67.50,379.53 68.00,378.67 68.50,391.51 69.00,384.93 69.50,390.70 70.00,396.41 70.50,385.49 71.00,381.59 71.50,378.74 72.00,363.19 72.50,351.08 73.00,350.26 73.50,346.45 74.00,356.90 74.50,351.26 75.00,341.19 75.50,347.04 76.00,342.03 76.50,352.58 77.00,356.71 77.50,353.99 78.00,348.58 78.50,362.82 79.00,359.70 79.50,367.54 80.00,360.76 80.50,359.86 81.00,364.57 81.50,363.64 82.00,379.24 82.50,383.43 83.00,376.16 83.50,375.28 84.00,372.14 84.50,381.84 85.00,383.06 85.50,384.08 86.00,383.46 86.50,384.17 87.00,389.27 87.50,386.64 88.00,385.86 88.50,387.16 89.00,388.00 89.50,393.95 90.00,394.64 90.50,392.27 91.00,389.86 91.50,393.19 92.00,393.13 92.50,394.51 93.00,394.83 93.50,397.91 94.00,391.48 94.50,397.44 95.00,401.33 95.50,396.63 96.00,397.15 96.50,390.92 97.00,385.97 97.50,388.37 98.00,396.45 98.50,397.50 99.00,393.04 99.50,396.10 100.00,393.38 100.50,391.80 101.00,391.82 101.50,383.69 102.00,387.70 102.50,391.53 103.00,399.01 103.50,397.49 104.00,391.03 104.50,390.51 105.00,392.16 105.50,397.19 106.00,390.91 106.50,394.15 107.00,400.95 107.50,399.96 108.00,394.96 108.50,396.16 109.00,397.12 109.50,398.18 110.00,394.04 110.50,393.71 111.00,388.88 111.50,390.58 112.00,386.68 112.50,387.17 113.00,384.59 113.50,391.42 114.00,401.32 114.50,387.21 115.00,388.99 115.50,383.46 116.00,376.81 116.50,379.19 117.00,382.96 117.50,388.58 118.00,381.82 118.50,383.23 119.00,375.02 119.50,367.57 120.00,374.75 120.50,382.26 121.00,385.21 121.50,379.68 122.00,372.51 122.50,366.47 123.00,372.31 123.50,370.73 124.00,381.95 124.50,377.19 125.00,368.09 125.50,360.75 126.00,360.39 126.50,363.98 127.00,366.88 127.50,363.98 128.00,363.80 128.50,357.84 129.00,363.42 129.50,358.45 130.00,357.57 130.50,356.62 131.00,354.90 131.50,366.30 132.00,370.01 132.50,373.35 133.00,374.24 133.50,385.62 134.00,389.26 134.50,395.02 135.00,396.00 135.50,391.43 136.00,389.33 136.50,396.04 137.00,390.15 137.50,392.49 138.00,395.00 138.50,393.44 139.00,396.69 139.50,389.57 140.00,391.70 140.50,385.54 141.00,386.68 141.50,388.05 142.00,377.80 142.50,386.83 143.00,382.00 143.50,382.75 144.00,384.83 144.50,388.41 145.00,393.50 145.50,395.29 146.00,391.45 146.50,394.50 147.00,386.47 147.50,389.08 148.00,392.01 148.50,391.56 149.00,390.39 149.50,382.52 150.00,379.97 150.50,383.21 151.00,393.49 151.50,386.83 152.00,382.07 152.50,381.67 153.00,386.65 153.50,384.59 154.00,387.14 154.50,386.92 155.00,374.78 155.50,380.37 156.00,382.70 156.50,380.49 157.00,374.82 157.50,373.51 158.00,368.00 158.50,383.66 159.00,385.71 159.50,379.51 160.00,383.29 160.50,377.53 161.00,374.34 161.50,369.48 162.00,379.18 162.50,389.18 163.00,399.47 163.50,398.22 164.00,395.72 164.50,397.96 165.00,397.70 165.50,396.41 166.00,399.03 166.50,399.25 167.00,400.84 167.50,401.23 168.00,398.39 168.50,400.66 169.00,403.29 169.50,399.41 170.00,396.39 170.50,398.12 171.00,402.32 171.50,401.19 172.00,406.62 172.50,404.36 173.00,400.97 173.50,398.01 174.00,401.48 174.50,402.45 175.00,399.55 175.50,397.95 176.00,405.15 176.50,401.08 177.00,396.26 177.50,392.43 178.00,386.30 178.50,389.38 179.00,392.94 179.50,395.83 180.00,396.76 180.50,402.10 181.00,402.44 181.50,401.60 182.00,400.28 182.50,403.74 183.00,404.51 183.50,406.61 184.00,404.83 184.50,402.18 185.00,402.37 185.50,406.12 186.00,407.09 186.50,405.94 187.00,407.61 187.50,406.49 188.00,406.88 188.50,404.55 189.00,402.17 189.50,401.73 190.00,402.32 190.50,402.55 191.00,405.43 191.50,401.80 192.00,402.10 192.50,398.30 193.00,400.71 193.50,395.81 194.00,397.99 194.50,401.21 195.00,396.73 195.50,396.84 196.00,392.07 196.50,396.41 197.00,388.95 197.50,387.96 198.00,389.22 198.50,394.87 199.00,390.29 199.50,390.04 200.00,388.66 200.50,388.94 201.00,384.22 201.50,386.71 202.00,385.29 202.50,389.01 203.00,382.56 203.50,389.08 204.00,384.08 204.50,390.81 205.00,392.32 205.50,391.65 206.00,392.97 206.50,393.36 207.00,394.84 207.50,393.23 208.00,389.72 208.50,388.42 209.00,390.30 209.50,388.94 210.00,387.04 210.50,384.27 211.00,388.51 211.50,392.98 212.00,391.58 212.50,396.21 213.00,392.98 213.50,395.56 214.00,388.83 214.50,391.94 215.00,395.78 215.50,395.99 216.00,388.43 216.50,389.08 217.00,392.21 217.50,393.14 218.00,390.51 218.50,391.34 219.00,397.69 219.50,399.30 220.00,399.78 220.50,402.66 221.00,397.19 221.50,404.02 222.00,403.81 222.50,403.71 223.00,405.09 223.50,407.59 224.00,406.70 224.50,404.28 225.00,405.12 225.50,404.05 226.00,394.31 226.50,394.56 227.00,390.00 227.50,391.67 228.00,389.51 228.50,394.86 229.00,395.13 229.50,398.08 230.00,394.20 230.50,392.10 231.00,384.13 231.50,388.64 232.00,387.06 232.50,390.53 233.00,384.06 233.50,382.88 234.00,387.44 234.50,383.12 235.00,377.84 235.50,381.48 236.00,385.28 236.50,376.74 237.00,371.52 237.50,376.59 238.00,381.97 238.50,380.86 239.00,383.97 239.50,380.38 240.00,379.61 240.50,389.26 241.00,386.42 241.00,402.55 240.50,400.00 240.00,394.12 239.50,392.94 239.00,396.90 238.50,396.38 238.00,395.51 237.50,392.05 237.00,389.65 236.50,391.71 236.00,400.54 235.50,395.43 235.00,394.61 234.50,396.38 234.00,400.69 233.50,396.18 233.00,400.22 232.50,401.56 232.00,399.91 231.50,399.46 231.00,398.71 230.50,401.71 230.00,405.07 229.50,409.38 229.00,403.77 228.50,406.18 228.00,400.45 227.50,403.46 227.00,404.83 226.50,404.97 226.00,408.96 225.50,412.60 225.00,412.71 224.50,411.74 224.00,414.16 223.50,414.30 223.00,412.83 222.50,414.21 222.00,412.21 221.50,412.54 221.00,410.09 220.50,410.67 220.00,408.00 219.50,409.03 219.00,409.15 218.50,404.49 218.00,402.33 217.50,403.61 217.00,403.26 216.50,400.12 216.00,399.94 215.50,409.07 215.00,404.31 214.50,405.00 214.00,401.74 213.50,406.05 213.00,407.24 212.50,409.28 212.00,402.60 211.50,404.76 211.00,401.46 210.50,399.02 210.00,399.87 209.50,399.21 209.00,401.46 208.50,401.86 208.00,402.73 207.50,403.82 207.00,404.80 206.50,405.19 206.00,404.62 205.50,401.82 205.00,401.70 204.50,404.53 204.00,397.95 203.50,403.05 203.00,396.37 202.50,403.85 202.00,400.03 201.50,399.20 201.00,399.70 200.50,402.57 200.00,401.58 199.50,402.45 199.00,405.14 198.50,406.01 198.00,401.98 197.50,402.04 197.00,402.70 196.50,407.33 196.00,403.71 195.50,406.69 195.00,408.28 194.50,409.55 194.00,406.57 193.50,406.58 193.00,410.32 192.50,410.89 192.00,410.34 191.50,411.65 191.00,412.44 190.50,410.88 190.00,412.39 189.50,412.86 189.00,409.50 188.50,410.87 188.00,414.07 187.50,414.30 187.00,414.30 186.50,414.25 186.00,414.30 185.50,413.55 185.00,412.67 184.50,413.80 184.00,413.58 183.50,413.70 183.00,414.30 182.50,411.71 182.00,408.76 181.50,411.80 181.00,413.38 180.50,410.32 180.00,407.22 179.50,406.04 179.00,404.60 178.50,402.50 178.00,398.56 177.50,402.30 177.00,405.63 176.50,409.55 176.00,412.48 175.50,410.72 175.00,410.03 174.50,410.31 174.00,410.78 173.50,410.70 173.00,409.78 172.50,411.78 172.00,413.60 171.50,409.46 171.00,410.17 170.50,407.87 170.00,406.77 169.50,409.47 169.00,410.37 168.50,410.63 168.00,408.75 167.50,411.59 167.00,410.46 166.50,408.18 166.00,407.65 165.50,409.86 165.00,407.77 164.50,406.33 164.00,405.74 163.50,407.63 163.00,407.57 162.50,401.15 162.00,392.55 161.50,386.36 161.00,391.09 160.50,392.57 160.00,397.03 159.50,393.69 159.00,398.27 158.50,396.34 158.00,387.60 157.50,388.13 157.00,392.39 156.50,394.16 156.00,397.55 155.50,393.53 155.00,391.36 154.50,398.25 154.00,400.51 153.50,397.07 153.00,398.35 152.50,396.85 152.00,401.65 151.50,402.27 151.00,404.36 150.50,396.68 150.00,394.39 149.50,398.99 149.00,402.54 148.50,403.73 148.00,402.87 147.50,401.22 147.00,398.88 146.50,404.11 146.00,404.36 145.50,404.52 145.00,405.14 144.50,402.58 144.00,398.40 143.50,395.35 143.00,395.80 142.50,398.03 142.00,394.79 141.50,399.26 141.00,401.25 140.50,401.10 140.00,401.20 139.50,401.78 139.00,406.31 138.50,405.65 138.00,403.80 137.50,403.95 137.00,404.60 136.50,406.37 136.00,401.81 135.50,403.97 135.00,406.63 134.50,404.79 134.00,401.72 133.50,397.52 133.00,393.02 132.50,389.99 132.00,386.87 131.50,384.53 131.00,375.62 130.50,378.38 130.00,377.11 129.50,379.40 129.00,382.27 128.50,376.72 128.00,381.83 127.50,384.47 127.00,385.09 126.50,382.98 126.00,380.50 125.50,382.69 125.00,388.23 124.50,391.41 124.00,394.45 123.50,389.98 123.00,389.50 122.50,382.95 122.00,389.02 121.50,395.06 121.00,398.08 120.50,395.04 120.00,389.57 119.50,386.20 119.00,390.42 118.50,395.98 118.00,397.22 117.50,399.46 117.00,395.65 116.50,395.47 116.00,394.58 115.50,398.23 115.00,401.72 114.50,402.65 114.00,409.02 113.50,406.80 113.00,400.56 112.50,402.21 112.00,399.45 111.50,405.35 111.00,403.80 110.50,404.29 110.00,407.51 109.50,408.18 109.00,407.55 108.50,408.04 108.00,408.22 107.50,408.99 107.00,410.29 106.50,405.16 106.00,404.57 105.50,405.77 105.00,402.37 104.50,402.51 104.00,403.89 103.50,406.20 103.00,407.88 102.50,401.83 102.00,400.63 101.50,400.22 101.00,402.50 100.50,402.27 100.00,403.68 99.50,407.07 99.00,405.26 98.50,407.73 98.00,407.50 97.50,400.31 97.00,397.35 96.50,401.81 96.00,407.07 95.50,405.73 95.00,411.47 94.50,409.28 94.00,404.25 93.50,405.94 93.00,406.53 92.50,405.00 92.00,405.06 91.50,403.67 91.00,403.88 90.50,404.32 90.00,403.92 89.50,406.37 89.00,400.71 88.50,400.12 88.00,398.22 87.50,400.51 87.00,400.01 86.50,397.82 86.00,397.96 85.50,395.92 85.00,397.24 84.50,394.59 84.00,388.16 83.50,392.85 83.00,391.66 82.50,395.46 82.00,395.10 81.50,380.78 81.00,381.96 80.50,380.38 80.00,379.15 79.50,385.57 79.00,379.24 78.50,380.63 78.00,373.42 77.50,375.63 77.00,376.46 76.50,372.96 76.00,367.34 75.50,369.09 75.00,364.49 74.50,372.06 74.00,376.97 73.50,370.82 73.00,371.41 72.50,372.20 72.00,382.18 71.50,391.92 71.00,397.01 70.50,399.30 70.00,406.65 69.50,404.74 69.00,401.01 68.50,404.04 68.00,397.04 67.50,396.41 67.00,398.78 66.50,402.58 66.00,405.02 65.50,399.63 65.00,403.22 64.50,397.94 64.00,401.20 63.50,398.24 63.00,395.90 62.50,396.99 62.00,400.16 61.50,398.86 61.00,398.73 60.50,393.14 60.00,396.22 59.50,394.39 59.00,390.86 58.50,394.95 58.00,397.43 57.50,395.59 57.00,399.43 56.50,392.95 56.00,394.24 55.50,393.42 55.00,394.45 54.50,396.17 54.00,402.24 53.50,395.09 53.00,397.08" fill="#303030" fill-opacity="0.75" stroke="none"/>
<polyline points="53.00,384.28 53.50,380.29 54.00,389.38 54.50,382.69 55.00,378.27 55.50,378.03 56.00,377.88 56.50,379.92 57.00,383.73 57.50,378.46 58.00,384.01 58.50,378.35 59.00,371.80 59.50,372.83 60.00,380.56 60.50,376.84 61.00,386.31 61.50,384.67 62.00,388.13 62.50,382.47 63.00,381.58 63.50,385.51 64.00,387.29 64.50,382.79 65.00,389.75 65.50,387.42 66.00,394.66 66.50,386.22 67.00,386.45 67.50,379.53 68.00,378.67 68.50,391.51 69.00,384.93 69.50,390.70 70.00,396.41 70.50,385.49 71.00,381.59 71.50,378.74 72.00,363.19 72.50,351.08 73.00,350.26 73.50,346.45 74.00,356.90 74.50,351.26 75.00,341.19 75.50,347.04 76.00,342.03 76.50,352.58 77.00,356.71 77.50,353.99 78.00,348.58 78.50,362.82 79.00,359.70 79.50,367.54 80.00,360.76 80.50,359.86 81.00,364.57 81.50,363.64 82.00,379.24 82.50,383.43 83.00,376.16 83.50,375.28 84.00,372.14 84.50,381.84 85.00,383.06 85.50,384.08 86.00,383.46 86.50,384.17 87.00,389.27 87.50,386.64 88.00,385.86 88.50,387.16 89.00,388.00 89.50,393.95 90.00,394.64 90.50,392.27 91.00,389.86 91.50,393.19 92.00,393.13 92.50,394.51 93.00,394.83 93.50,397.91 94.00,391.48 94.50,397.44 95.00,401.33 95.50,396.63 96.00,397.15 96.50,390.92 97.00,385.97 97.50,388.37 98.00,396.45 98.50,397.50 99.00,393.04 99.50,396.10 100.00,393.38 100.50,391.80 101.00,391.82 101.50,383.69 102.00,387.70 102.50,391.53 103.00,399.01 103.50,397.49 104.00,391.03 104.50,390.51 105.00,392.16 105.50,397.19 106.00,390.91 106.50,394.15 107.00,400.95 107.50,399.96 108.00,394.96 108.50,396.16 109.00,397.12 109.50,398.18 110.00,394.04 110.50,393.71 111.00,388.88 111.50,390.58 112.00,386.68 112.50,387.17 113.00,384.59 113.50,391.42 114.00,401.32 114.50,387.21 115.00,388.99 115.50,383.46 116.00,376.81 116.50,379.19 117.00,382.96 117.50,388.58 118.00,381.82 118.50,383.23 119.00,375.02 119.50,367.57 120.00,374.75 120.50,382.26 121.00,385.21 121.50,379.68 122.00,372.51 122.50,366.47 123.00,372.31 123.50,370.73 124.00,381.95 124.50,377.19 125.00,368.09 125.50,360.75 126.00,360.39 126.50,363.98 127.00,366.88 127.50,363.98 128.00,363.80 128.50,357.84 129.00,363.42 129.50,358.45 130.00,357.57 130.50,356.62 131.00,354.90 131.50,366.30 132.00,370.01 132.50,373.35 133.00,374.24 133.50,385.62 134.00,389.26 134.50,395.02 135.00,396.00 135.50,391.43 136.00,389.33 136.50,396.04 137.00,390.15 137.50,392.49 138.00,395.00 138.50,393.44 139.00,396.69 139.50,389.57 140.00,391.70 140.50,385.54 141.00,386.68 141.50,388.05 142.00,377.80 142.50,386.83 143.00,382.00 143.50,382.75 144.00,384.83 144.50,388.41 145.00,393.50 145.50,395.29 146.00,391.45 146.50,394.50 147.00,386.47 147.50,389.08 148.00,392.01 148.50,391.56 149.00,390.39 149.50,382.52 150.00,379.97 150.50,383.21 151.00,393.49 151.50,386.83 152.00,382.07 152.50,381.67 153.00,386.65 153.50,384.59 154.00,387.14 154.50,386.92 155.00,374.78 155.50,380.37 156.00,382.70 156.50,380.49 157.00,374.82 157.50,373.51 158.00,368.00 158.50,383.66 159.00,385.71 159.50,379.51 160.00,383.29 160.50,377.53 161.00,374.34 161.50,369.48 162.00,379.18 162.50,389.18 163.00,399.47 163.50,398.22 164.00,395.72 164.50,397.96 165.00,397.70 165.50,396.41 166.00,399.03 166.50,399.25 167.00,400.84 167.50,401.23 168.00,398.39 168.50,400.66 169.00,403.29 169.50,399.41 170.00,396.39 170.50,398.12 171.00,402.32 171.50,401.19 172.00,406.62 172.50,404.36 173.00,400.97 173.50,398.01 174.00,401.48 174.50,402.45 175.00,399.55 175.50,397.95 176.00,405.15 176.50,401.08 177.00,396.26 177.50,392.43 178.00,386.30 178.50,389.38 179.00,392.94 179.50,395.83 180.00,396.76 180.50,402.10 181.00,402.44 181.50,401.60 182.00,400.28 182.50,403.74 183.00,404.51 183.50,406.61 184.00,404.83 184.50,402.18 185.00,402.37 185.50,406.12 186.00,407.09 186.50,405.94 187.00,407.61 187.50,406.49 188.00,406.88 188.50,404.55 189.00,402.17 189.50,401.73 190.00,402.32 190.50,402.55 191.00,405.43 191.50,401.80 192.00,402.10 192.50,398.30 193.00,400.71 193.50,395.81 194.00,397.99 194.50,401.21 195.00,396.73 195.50,396.84 196.00,392.07 196.50,396.41 197.00,388.95 197.50,387.96 198.00,389.22 198.50,394.87 199.00,390.29 199.50,390.04 200.00,388.66 200.50,388.94 201.00,384.22 201.50,386.71 202.00,385.29 202.50,389.01 203.00,382.56 203.50,389.08 204.00,384.08 204.50,390.81 205.00,392.32 205.50,391.65 206.00,392.97 206.50,393.36 207.00,394.84 207.50,393.23 208.00,389.72 208.50,388.42 209.00,390.30 209.50,388.94 210.00,387.04 210.50,384.27 211.00,388.51 211.50,392.98 212.00,391.58 212.50,396.21 213.00,392.98 213.50,395.56 214.00,388.83 214.50,391.94 215.00,395.78 215.50,395.99 216.00,388.43 216.50,389.08 217.00,392.21 217.50,393.14 218.00,390.51 218.50,391.34 219.00,397.69 219.50,399.30 220.00,399.78 220.50,402.66 221.00,397.19 221.50,404.02 222.00,403.81 222.50,403.71 223.00,405.09 223.50,407.59 224.00,406.70 224.50,404.28 225.00,405.12 225.50,404.05 226.00,394.31 226.50,394.56 227.00,390.00 227.50,391.67 228.00,389.51 228.50,394.86 229.00,395.13 229.50,398.08 230.00,394.20 230.50,392.10 231.00,384.13 231.50,388.64 232.00,387.06 232.50,390.53 233.00,384.06 233.50,382.88 234.00,387.44 234.50,383.12 235.00,377.84 235.50,381.48 236.00,385.28 236.50,376.74 237.00,371.52 237.50,376.59 238.00,381.97 238.50,380.86 239.00,383.97 239.50,380.38 240.00,379.61 240.50,389.26 241.00,386.42" fill="none" stroke="#000" stroke-width="0.7" stroke-linejoin="round" stroke-dasharray="0.7 0.7"/>
<polyline points="53.00,397.08 53.50,395.09 54.00,402.24 54.50,396.17 55.00,394.45 55.50,393.42 56.00,394.24 56.50,392.95 57.00,399.43 57.50,395.59 58.00,397.43 58.50,394.95 59.00,390.86 59.50,394.39 60.00,396.22 60.50,393.14 61.00,398.73 61.50,398.86 62.00,400.16 62.50,396.99 63.00,395.90 63.50,398.24 64.00,401.20 64.50,397.94 65.00,403.22 65.50,399.63 66.00,405.02 66.50,402.58 67.00,398.78 67.50,396.41 68.00,397.04 68.50,404.04 69.00,401.01 69.50,404.74 70.00,406.65 70.50,399.30 71.00,397.01 71.50,391.92 72.00,382.18 72.50,372.20 73.00,371.41 73.50,370.82 74.00,376.97 74.50,372.06 75.00,364.49 75.50,369.09 76.00,367.34 76.50,372.96 77.00,376.46 77.50,375.63 78.00,373.42 78.50,380.63 79.00,379.24 79.50,385.57 80.00,379.15 80.50,380.38 81.00,381.96 81.50,380.78 82.00,395.10 82.50,395.46 83.00,391.66 83.50,392.85 84.00,388.16 84.50,394.59 85.00,397.24 85.50,395.92 86.00,397.96 86.50,397.82 87.00,400.01 87.50,400.51 88.00,398.22 88.50,400.12 89.00,400.71 89.50,406.37 90.00,403.92 90.50,404.32 91.00,403.88 91.50,403.67 92.00,405.06 92.50,405.00 93.00,406.53 93.50,405.94 94.00,404.25 94.50,409.28 95.00,411.47 95.50,405.73 96.00,407.07 96.50,401.81 97.00,397.35 97.50,400.31 98.00,407.50 98.50,407.73 99.00,405.26 99.50,407.07 100.00,403.68 100.50,402.27 101.00,402.50 101.50,400.22 102.00,400.63 102.50,401.83 103.00,407.88 103.50,406.20 104.00,403.89 104.50,402.51 105.00,402.37 105.50,405.77 106.00,404.57 106.50,405.16 107.00,410.29 107.50,408.99 108.00,408.22 108.50,408.04 109.00,407.55 109.50,408.18 110.00,407.51 110.50,404.29 111.00,403.80 111.50,405.35 112.00,399.45 112.50,402.21 113.00,400.56 113.50,406.80 114.00,409.02 114.50,402.65 115.00,401.72 115.50,398.23 116.00,394.58 116.50,395.47 117.00,395.65 117.50,399.46 118.00,397.22 118.50,395.98 119.00,390.42 119.50,386.20 120.00,389.57 120.50,395.04 121.00,398.08 121.50,395.06 122.00,389.02 122.50,382.95 123.00,389.50 123.50,389.98 124.00,394.45 124.50,391.41 125.00,388.23 125.50,382.69 126.00,380.50 126.50,382.98 127.00,385.09 127.50,384.47 128.00,381.83 128.50,376.72 129.00,382.27 129.50,379.40 130.00,377.11 130.50,378.38 131.00,375.62 131.50,384.53 132.00,386.87 132.50,389.99 133.00,393.02 133.50,397.52 134.00,401.72 134.50,404.79 135.00,406.63 135.50,403.97 136.00,401.81 136.50,406.37 137.00,404.60 137.50,403.95 138.00,403.80 138.50,405.65 139.00,406.31 139.50,401.78 140.00,401.20 140.50,401.10 141.00,401.25 141.50,399.26 142.00,394.79 142.50,398.03 143.00,395.80 143.50,395.35 144.00,398.40 144.50,402.58 145.00,405.14 145.50,404.52 146.00,404.36 146.50,404.11 147.00,398.88 147.50,401.22 148.00,402.87 148.50,403.73 149.00,402.54 149.50,398.99 150.00,394.39 150.50,396.68 151.00,404.36 151.50,402.27 152.00,401.65 152.50,396.85 153.00,398.35 153.50,397.07 154.00,400.51 154.50,398.25 155.00,391.36 155.50,393.53 156.00,397.55 156.50,394.16 157.00,392.39 157.50,388.13 158.00,387.60 158.50,396.34 159.00,398.27 159.50,393.69 160.00,397.03 160.50,392.57 161.00,391.09 161.50,386.36 162.00,392.55 162.50,401.15 163.00,407.57 163.50,407.63 164.00,405.74 164.50,406.33 165.00,407.77 165.50,409.86 166.00,407.65 166.50,408.18 167.00,410.46 167.50,411.59 168.00,408.75 168.50,410.63 169.00,410.37 169.50,409.47 170.00,406.77 170.50,407.87 171.00,410.17 171.50,409.46 172.00,413.60 172.50,411.78 173.00,409.78 173.50,410.70 174.00,410.78 174.50,410.31 175.00,410.03 175.50,410.72 176.00,412.48 176.50,409.55 177.00,405.63 177.50,402.30 178.00,398.56 178.50,402.50 179.00,404.60 179.50,406.04 180.00,407.22 180.50,410.32 181.00,413.38 181.50,411.80 182.00,408.76 182.50,411.71 183.00,414.00 183.50,413.70 184.00,413.58 184.50,413.80 185.00,412.67 185.50,413.55 186.00,414.00 186.50,414.00 187.00,414.00 187.50,414.00 188.00,414.00 188.50,410.87 189.00,409.50 189.50,412.86 190.00,412.39 190.50,410.88 191.00,412.44 191.50,411.65 192.00,410.34 192.50,410.89 193.00,410.32 193.50,406.58 194.00,406.57 194.50,409.55 195.00,408.28 195.50,406.69 196.00,403.71 196.50,407.33 197.00,402.70 197.50,402.04 198.00,401.98 198.50,406.01 199.00,405.14 199.50,402.45 200.00,401.58 200.50,402.57 201.00,399.70 201.50,399.20 202.00,400.03 202.50,403.85 203.00,396.37 203.50,403.05 204.00,397.95 204.50,404.53 205.00,401.70 205.50,401.82 206.00,404.62 206.50,405.19 207.00,404.80 207.50,403.82 208.00,402.73 208.50,401.86 209.00,401.46 209.50,399.21 210.00,399.87 210.50,399.02 211.00,401.46 211.50,404.76 212.00,402.60 212.50,409.28 213.00,407.24 213.50,406.05 214.00,401.74 214.50,405.00 215.00,404.31 215.50,409.07 216.00,399.94 216.50,400.12 217.00,403.26 217.50,403.61 218.00,402.33 218.50,404.49 219.00,409.15 219.50,409.03 220.00,408.00 220.50,410.67 221.00,410.09 221.50,412.54 222.00,412.21 222.50,414.00 223.00,412.83 223.50,414.00 224.00,414.00 224.50,411.74 225.00,412.71 225.50,412.60 226.00,408.96 226.50,404.97 227.00,404.83 227.50,403.46 228.00,400.45 228.50,406.18 229.00,403.77 229.50,409.38 230.00,405.07 230.50,401.71 231.00,398.71 231.50,399.46 232.00,399.91 232.50,401.56 233.00,400.22 233.50,396.18 234.00,400.69 234.50,396.38 235.00,394.61 235.50,395.43 236.00,400.54 236.50,391.71 237.00,389.65 237.50,392.05 238.00,395.51 238.50,396.38 239.00,396.90 239.50,392.94 240.00,394.12 240.50,400.00 241.00,402.55" fill="none" stroke="#000" stroke-width="0.7" stroke-linejoin="round" stroke-dasharray="0.7 0.7"/>
<polyline points="53.00,386.09 53.50,385.47 54.00,377.41 54.50,372.14 55.00,372.17 55.50,375.21 56.00,370.31 56.50,361.35 57.00,360.00 57.50,363.27 58.00,368.53 58.50,370.27 59.00,373.94 59.50,379.23 60.00,383.61 60.50,384.97 61.00,389.52 61.50,391.03 62.00,395.05 62.50,392.85 63.00,394.73 63.50,390.18 64.00,392.59 64.50,391.52 65.00,389.17 65.50,389.22 66.00,391.15 66.50,386.72 67.00,387.12 67.50,387.24 68.00,386.24 68.50,384.55 69.00,373.87 69.50,382.17 70.00,386.62 70.50,386.21 71.00,381.38 71.50,376.19 72.00,369.63 72.50,358.76 73.00,362.05 73.50,361.61 74.00,372.45 74.50,369.78 75.00,372.43 75.50,370.18 76.00,372.67 76.50,377.63 77.00,385.78 77.50,388.96 78.00,389.88 78.50,389.10 79.00,395.68 79.50,392.50 80.00,392.97 80.50,396.23 81.00,394.82 81.50,397.48 82.00,400.33 82.50,399.79 83.00,401.06 83.50,401.10 84.00,400.16 84.50,395.65 85.00,398.10 85.50,401.52 86.00,400.21 86.50,402.06 87.00,404.41 87.50,407.24 88.00,403.87 88.50,404.32 89.00,405.94 89.50,407.19 90.00,404.73 90.50,408.85 91.00,405.80 91.50,407.74 92.00,406.17 92.50,406.51 93.00,408.62 93.50,407.64 94.00,406.19 94.50,403.63 95.00,403.20 95.50,400.53 96.00,405.01 96.50,399.29 97.00,394.43 97.50,402.35 98.00,405.03 98.50,403.69 99.00,406.04 99.50,404.73 100.00,405.46 100.50,406.89 101.00,407.10 101.50,405.64 102.00,408.47 102.50,407.87 103.00,406.53 103.50,403.70 104.00,404.82 104.50,404.32 105.00,404.43 105.50,405.86 106.00,403.85 106.50,404.49 107.00,405.52 107.50,404.99 108.00,408.12 108.50,401.93 109.00,402.62 109.50,400.72 110.00,401.94 110.50,407.18 111.00,401.59 111.50,402.11 112.00,404.05 112.50,403.78 113.00,405.21 113.50,401.37 114.00,404.58 114.50,402.34 115.00,401.15 115.50,403.40 116.00,403.74 116.50,401.36 117.00,400.03 117.50,400.41 118.00,400.59 118.50,401.31 119.00,400.53 119.50,398.48 120.00,404.74 120.50,405.40 121.00,403.75 121.50,401.97 122.00,402.59 122.50,403.05 123.00,399.99 123.50,404.87 124.00,404.65 124.50,403.02 125.00,403.42 125.50,403.29 126.00,404.64 126.50,403.33 127.00,404.79 127.50,405.72 128.00,402.47 128.50,400.94 129.00,399.47 129.50,400.05 130.00,399.19 130.50,400.83 131.00,402.26 131.50,403.48 132.00,401.14 132.50,404.67 133.00,403.71 133.50,404.04 134.00,403.78 134.50,401.63 135.00,405.11 135.50,403.38 136.00,407.89 136.50,408.12 137.00,410.97 137.50,408.56 138.00,406.63 138.50,406.05 139.00,402.02 139.50,402.49 140.00,398.14 140.50,398.58 141.00,397.22 141.50,399.57 142.00,400.98 142.50,399.55 143.00,397.95 143.50,400.16 144.00,402.15 144.50,402.13 145.00,401.02 145.50,401.28 146.00,402.45 146.50,398.95 147.00,401.59 147.50,406.26 148.00,403.44 148.50,404.54 149.00,408.37 149.50,408.29 150.00,408.85 150.50,407.16 151.00,404.63 151.50,410.66 152.00,408.53 152.50,407.69 153.00,409.69 153.50,409.03 154.00,407.56 154.50,405.14 155.00,405.85 155.50,405.92 156.00,404.94 156.50,404.15 157.00,403.51 157.50,404.65 158.00,404.12 158.50,405.51 159.00,406.91 159.50,406.09 160.00,405.17 160.50,407.40 161.00,406.49 161.50,402.32 162.00,402.05 162.50,403.44 163.00,401.90 163.50,404.15 164.00,400.32 164.50,398.55 165.00,403.03 165.50,404.49 166.00,401.50 166.50,403.79 167.00,407.11 167.50,404.44 168.00,403.79 168.50,403.92 169.00,404.74 169.50,404.22 170.00,406.40 170.50,404.02 171.00,404.78 171.50,408.00 172.00,402.56 172.50,403.32 173.00,403.32 173.50,395.67 174.00,396.87 174.50,396.22 175.00,394.44 175.50,397.82 176.00,397.14 176.50,399.26 177.00,399.26 177.50,400.50 178.00,400.48 178.50,406.76 179.00,405.45 179.50,403.95 180.00,409.29 180.50,409.28 181.00,405.67 181.50,402.94 182.00,401.18 182.50,403.57 183.00,400.90 183.50,398.57 184.00,400.18 184.50,398.18 185.00,397.45 185.50,400.89 186.00,399.45 186.50,399.33 187.00,397.08 187.50,397.76 188.00,394.32 188.50,397.00 189.00,398.82 189.50,397.12 190.00,395.56 190.50,399.47 191.00,400.29 191.50,402.71 192.00,402.08 192.50,404.20 193.00,406.13 193.50,409.64 194.00,410.25 194.50,408.55 195.00,410.11 195.50,407.77 196.00,410.26 196.50,409.16 197.00,410.58 197.50,409.44 198.00,408.07 198.50,406.76 199.00,409.35 199.50,408.28 200.00,408.88 200.50,409.03 201.00,405.27 201.50,408.32 202.00,408.04 202.50,409.30 203.00,410.06 203.50,407.04 204.00,408.43 204.50,409.48 205.00,410.69 205.50,411.29 206.00,408.70 206.50,408.09 207.00,408.86 207.50,404.85 208.00,409.02 208.50,405.56 209.00,407.74 209.50,406.19 210.00,408.29 210.50,406.01 211.00,402.02 211.50,396.04 212.00,396.30 212.50,394.69 213.00,392.88 213.50,386.06 214.00,382.72 214.50,386.19 215.00,392.09 215.50,393.75 216.00,398.13 216.50,401.23 217.00,400.14 217.50,403.59 218.00,403.25 218.50,402.59 219.00,405.25 219.50,405.54 220.00,404.74 220.50,403.90 221.00,404.66 221.50,405.71 222.00,407.55 222.50,406.84 223.00,405.22 223.50,403.60 224.00,405.80 224.50,406.92 225.00,408.64 225.50,406.63 226.00,404.81 226.50,407.75 227.00,407.26 227.50,405.53 228.00,409.64 228.50,409.95 229.00,408.87 229.50,408.95 230.00,407.50 230.50,409.28 231.00,407.41 231.50,406.48 232.00,406.15 232.50,404.41 233.00,407.13 233.50,408.95 234.00,407.84 234.50,402.41 235.00,403.24 235.50,401.77 236.00,402.26 236.50,396.87 237.00,393.97 237.50,395.41 238.00,398.07 238.50,398.00 239.00,403.37 239.50,399.80 240.00,400.93 240.50,403.50 241.00,405.16" fill="none" stroke="#ff0000" stroke-width="0.9" stroke-linejoin="round"/>
<polyline points="53.00,391.08 53.50,388.32 54.00,397.40 54.50,390.83 55.00,386.58 55.50,388.26 56.00,387.22 56.50,387.67 57.00,392.70 57.50,389.99 58.00,391.98 58.50,389.09 59.00,382.67 59.50,384.41 60.00,387.74 60.50,387.29 61.00,393.56 61.50,392.85 62.00,394.95 62.50,389.78 63.00,388.71 63.50,392.35 64.00,394.78 64.50,391.59 65.00,398.00 65.50,395.38 66.00,399.82 66.50,396.00 67.00,393.49 67.50,389.52 68.00,390.31 68.50,399.15 69.00,394.88 69.50,399.86 70.00,401.76 70.50,392.16 71.00,389.51 71.50,386.31 72.00,373.97 72.50,363.54 73.00,362.65 73.50,361.01 74.00,368.74 74.50,363.12 75.00,355.32 75.50,358.98 76.00,356.17 76.50,365.08 77.00,368.98 77.50,366.65 78.00,365.06 78.50,372.19 79.00,370.10 79.50,376.37 80.00,370.46 80.50,372.78 81.00,373.84 81.50,373.73 82.00,388.11 82.50,390.05 83.00,383.91 83.50,387.39 84.00,381.34 84.50,389.59 85.00,392.68 85.50,390.39 86.00,390.48 86.50,393.07 87.00,395.37 87.50,394.37 88.00,393.34 88.50,395.06 89.00,395.80 89.50,399.55 90.00,399.70 90.50,400.47 91.00,396.82 91.50,398.95 92.00,400.11 92.50,400.69 93.00,402.20 93.50,402.53 94.00,400.39 94.50,405.04 95.00,406.86 95.50,402.24 96.00,401.70 96.50,396.45 97.00,392.19 97.50,396.01 98.00,402.59 98.50,402.09 99.00,400.05 99.50,401.25 100.00,399.06 100.50,397.09 101.00,398.13 101.50,395.51 102.00,395.67 102.50,397.60 103.00,404.67 103.50,402.77 104.00,399.38 104.50,396.79 105.00,398.01 105.50,401.70 106.00,399.05 106.50,401.28 107.00,407.45 107.50,405.16 108.00,402.18 108.50,402.49 109.00,401.98 109.50,402.94 110.00,402.46 110.50,399.19 111.00,398.11 111.50,398.15 112.00,394.71 112.50,397.11 113.00,396.38 113.50,402.03 114.00,405.39 114.50,397.42 115.00,396.75 115.50,392.72 116.00,388.98 116.50,388.74 117.00,390.84 117.50,394.29 118.00,389.87 118.50,390.41 119.00,384.22 119.50,376.45 120.00,382.85 120.50,389.71 121.00,392.45 121.50,388.57 122.00,382.20 122.50,376.09 123.00,383.66 123.50,381.44 124.00,388.66 124.50,384.80 125.00,379.06 125.50,374.89 126.00,370.85 126.50,373.68 127.00,375.93 127.50,377.67 128.00,373.36 128.50,367.94 129.00,373.42 129.50,370.28 130.00,367.88 130.50,370.14 131.00,367.70 131.50,377.60 132.00,379.68 132.50,383.15 133.00,385.06 133.50,392.20 134.00,395.67 134.50,400.33 135.00,401.89 135.50,398.27 136.00,396.49 136.50,402.40 137.00,400.28 137.50,400.25 138.00,399.93 138.50,401.11 139.00,401.45 139.50,397.69 140.00,397.06 140.50,392.72 141.00,395.82 141.50,394.17 142.00,388.50 142.50,392.92 143.00,390.71 143.50,390.41 144.00,393.83 144.50,396.45 145.00,400.77 145.50,400.87 146.00,398.70 146.50,399.83 147.00,392.66 147.50,395.03 148.00,397.86 148.50,398.98 149.00,398.45 149.50,392.91 150.00,388.57 150.50,391.46 151.00,399.59 151.50,397.47 152.00,394.48 152.50,390.20 153.00,392.97 153.50,391.98 154.00,393.76 154.50,393.16 155.00,385.55 155.50,388.23 156.00,391.19 156.50,387.64 157.00,383.93 157.50,382.05 158.00,380.19 158.50,391.25 159.00,393.01 159.50,387.89 160.00,392.36 160.50,384.81 161.00,382.57 161.50,379.97 162.00,386.96 162.50,395.09 163.00,404.26 163.50,403.52 164.00,401.98 164.50,402.66 165.00,402.69 165.50,404.56 166.00,403.34 166.50,405.05 167.00,406.20 167.50,407.69 168.00,404.93 168.50,406.53 169.00,406.96 169.50,405.20 170.00,402.56 170.50,404.02 171.00,407.12 171.50,405.89 172.00,410.24 172.50,408.36 173.00,405.09 173.50,405.02 174.00,405.97 174.50,406.23 175.00,404.78 175.50,404.48 176.00,408.93 176.50,405.45 177.00,401.74 177.50,398.11 178.00,392.79 178.50,397.73 179.00,399.12 179.50,401.44 180.00,402.25 180.50,406.21 181.00,409.08 181.50,406.70 182.00,404.97 182.50,407.74 183.00,410.87 183.50,410.53 184.00,410.82 184.50,408.04 185.00,408.82 185.50,410.62 186.00,410.78 186.50,410.08 187.00,410.70 187.50,411.28 188.00,410.05 188.50,408.11 189.00,406.09 189.50,408.06 190.00,407.97 190.50,407.62 191.00,409.58 191.50,406.83 192.00,406.32 192.50,407.62 193.00,404.95 193.50,401.33 194.00,402.86 194.50,405.80 195.00,403.83 195.50,402.66 196.00,398.00 196.50,402.04 197.00,396.11 197.50,395.55 198.00,395.66 198.50,401.74 199.00,399.80 199.50,397.52 200.00,395.31 200.50,395.85 201.00,393.04 201.50,392.73 202.00,393.54 202.50,396.16 203.00,390.18 203.50,396.52 204.00,391.20 204.50,400.01 205.00,397.73 205.50,397.84 206.00,398.14 206.50,400.30 207.00,400.89 207.50,399.29 208.00,397.26 208.50,396.25 209.00,396.71 209.50,394.83 210.00,393.15 210.50,392.39 211.00,396.52 211.50,399.80 212.00,398.35 212.50,403.09 213.00,403.30 213.50,401.96 214.00,396.65 214.50,399.10 215.00,400.71 215.50,402.21 216.00,395.67 216.50,395.68 217.00,397.99 217.50,398.60 218.00,396.35 218.50,398.71 219.00,402.60 219.50,404.03 220.00,404.31 220.50,407.61 221.00,405.09 221.50,408.82 222.00,409.32 222.50,408.78 223.00,410.17 223.50,411.94 224.00,409.94 224.50,408.25 225.00,410.07 225.50,408.26 226.00,401.11 226.50,400.95 227.00,400.03 227.50,398.94 228.00,395.98 228.50,399.86 229.00,400.01 229.50,403.44 230.00,399.92 230.50,397.48 231.00,392.98 231.50,394.50 232.00,394.45 232.50,396.55 233.00,395.62 233.50,391.08 234.00,394.53 234.50,390.16 235.00,389.59 235.50,388.55 236.00,393.56 236.50,386.02 237.00,381.14 237.50,384.81 238.00,389.49 238.50,389.94 239.00,390.71 239.50,387.70 240.00,388.65 240.50,395.70 241.00,396.71" fill="none" stroke="#000" stroke-width="1.0" stroke-linejoin="round"/>
<line x1="101.7" y1="317.5" x2="123.9" y2="317.5" stroke="#444" stroke-width="1.1"/>
<text x="136.7" y="321.8" font-size="10" text-anchor="start" font-weight="normal" font-style="normal" fill="#000">hM3Dq-saline, n=11</text>
<line x1="101.7" y1="333.9" x2="123.9" y2="333.9" stroke="#ff0000" stroke-width="1.1"/>
<text x="136.7" y="337.6" font-size="10" text-anchor="start" font-weight="normal" font-style="normal" fill="#000">hM3Dq-CNO, n=11</text>
<line x1="231.4" y1="318.7" x2="231.4" y2="333.2" stroke="#000" stroke-width="1.1"/>
<line x1="235.65" y1="324.6" x2="238.55" y2="324.6" stroke="#000" stroke-width="1.2" stroke-linecap="round"/>
<line x1="236.38" y1="323.34" x2="237.82" y2="325.86" stroke="#000" stroke-width="1.2" stroke-linecap="round"/>
<line x1="237.82" y1="323.34" x2="236.38" y2="325.86" stroke="#000" stroke-width="1.2" stroke-linecap="round"/>
<line x1="235.65" y1="328.2" x2="238.55" y2="328.2" stroke="#000" stroke-width="1.2" stroke-linecap="round"/>
<line x1="236.38" y1="326.94" x2="237.82" y2="329.46" stroke="#000" stroke-width="1.2" stroke-linecap="round"/>
<line x1="237.82" y1="326.94" x2="236.38" y2="329.46" stroke="#000" stroke-width="1.2" stroke-linecap="round"/>
<line x1="320.8" y1="321.0" x2="320.8" y2="412.2" stroke="#000" stroke-width="1.25"/>
<line x1="313.0" y1="323.4" x2="320.8" y2="323.4" stroke="#000" stroke-width="1.1"/>
<text x="310.6" y="327.2" font-size="10.6" text-anchor="end" font-weight="normal" font-style="normal" fill="#000">10000</text>
<line x1="313.0" y1="341.15999999999997" x2="320.8" y2="341.15999999999997" stroke="#000" stroke-width="1.1"/>
<text x="310.6" y="344.96" font-size="10.6" text-anchor="end" font-weight="normal" font-style="normal" fill="#000">8000</text>
<line x1="313.0" y1="358.91999999999996" x2="320.8" y2="358.91999999999996" stroke="#000" stroke-width="1.1"/>
<text x="310.6" y="362.71999999999997" font-size="10.6" text-anchor="end" font-weight="normal" font-style="normal" fill="#000">6000</text>
<line x1="313.0" y1="376.68" x2="320.8" y2="376.68" stroke="#000" stroke-width="1.1"/>
<text x="310.6" y="380.48" font-size="10.6" text-anchor="end" font-weight="normal" font-style="normal" fill="#000">4000</text>
<line x1="313.0" y1="394.44" x2="320.8" y2="394.44" stroke="#000" stroke-width="1.1"/>
<text x="310.6" y="398.24" font-size="10.6" text-anchor="end" font-weight="normal" font-style="normal" fill="#000">2000</text>
<line x1="313.0" y1="412.2" x2="320.8" y2="412.2" stroke="#000" stroke-width="1.1"/>
<text x="310.6" y="416.0" font-size="10.6" text-anchor="end" font-weight="normal" font-style="normal" fill="#000">0</text>
<line x1="320.8" y1="412.2" x2="398.0" y2="412.2" stroke="#000" stroke-width="1.25"/>
<text x="280.4" y="370.7" font-size="10.9" text-anchor="middle" font-weight="normal" font-style="normal" fill="#000" transform="rotate(-90 280.4 370.7)">Activity (AU)</text>
<path d="M328.85,412.20 L328.85,374.20 L338.85,374.20 L338.85,412.20" fill="none" stroke="#000" stroke-width="1.1"/>
<path d="M345.95,412.20 L345.95,371.80 L356.15,371.80 L356.15,412.20" fill="none" stroke="#ff0a6c" stroke-width="1.1"/>
<path d="M363.85,412.20 L363.85,378.40 L373.55,378.40 L373.55,412.20" fill="none" stroke="#168787" stroke-width="1.1"/>
<path d="M381.25,412.20 L381.25,389.10 L391.45,389.10 L391.45,412.20" fill="none" stroke="#4b0b8c" stroke-width="1.1"/>
<circle cx="329.80" cy="370.30" r="2.3" fill="#000"/>
<circle cx="335.80" cy="370.30" r="2.3" fill="#000"/>
<circle cx="333.40" cy="385.20" r="2.3" fill="#000"/>
<circle cx="332.20" cy="372.40" r="2.3" fill="#000"/>
<line x1="333.8" y1="368.5" x2="333.8" y2="380.5" stroke="#000" stroke-width="1.1"/>
<line x1="331.2" y1="368.5" x2="336.40000000000003" y2="368.5" stroke="#000" stroke-width="1.1"/>
<line x1="331.2" y1="380.5" x2="336.40000000000003" y2="380.5" stroke="#000" stroke-width="1.1"/>
<circle cx="347.50" cy="372.80" r="2.3" fill="#ff0a6c"/>
<circle cx="350.50" cy="371.80" r="2.3" fill="#ff0a6c"/>
<circle cx="353.80" cy="371.00" r="2.3" fill="#ff0a6c"/>
<circle cx="349.80" cy="373.80" r="2.3" fill="#ff0a6c"/>
<circle cx="352.50" cy="373.50" r="2.3" fill="#ff0a6c"/>
<circle cx="368.10" cy="359.20" r="2.3" fill="#168787"/>
<circle cx="366.00" cy="368.00" r="2.3" fill="#168787"/>
<circle cx="371.00" cy="367.00" r="2.3" fill="#168787"/>
<circle cx="365.00" cy="373.00" r="2.3" fill="#168787"/>
<circle cx="372.00" cy="375.00" r="2.3" fill="#168787"/>
<circle cx="368.00" cy="378.00" r="2.3" fill="#168787"/>
<circle cx="366.00" cy="382.00" r="2.3" fill="#168787"/>
<circle cx="371.00" cy="383.00" r="2.3" fill="#168787"/>
<circle cx="369.00" cy="386.00" r="2.3" fill="#168787"/>
<circle cx="365.50" cy="388.00" r="2.3" fill="#168787"/>
<circle cx="372.50" cy="389.00" r="2.3" fill="#168787"/>
<line x1="368.7" y1="372.5" x2="368.7" y2="384.5" stroke="#168787" stroke-width="1.1"/>
<line x1="366.09999999999997" y1="372.5" x2="371.3" y2="372.5" stroke="#168787" stroke-width="1.1"/>
<line x1="366.09999999999997" y1="384.5" x2="371.3" y2="384.5" stroke="#168787" stroke-width="1.1"/>
<circle cx="382.20" cy="377.80" r="2.3" fill="#4b0b8c"/>
<circle cx="390.00" cy="378.00" r="2.3" fill="#4b0b8c"/>
<circle cx="383.00" cy="383.00" r="2.3" fill="#4b0b8c"/>
<circle cx="388.00" cy="386.00" r="2.3" fill="#4b0b8c"/>
<circle cx="385.00" cy="388.00" r="2.3" fill="#4b0b8c"/>
<circle cx="391.00" cy="389.00" r="2.3" fill="#4b0b8c"/>
<circle cx="383.00" cy="392.00" r="2.3" fill="#4b0b8c"/>
<circle cx="387.00" cy="394.00" r="2.3" fill="#4b0b8c"/>
<circle cx="390.00" cy="395.00" r="2.3" fill="#4b0b8c"/>
<circle cx="384.00" cy="396.00" r="2.3" fill="#4b0b8c"/>
<circle cx="387.00" cy="398.00" r="2.3" fill="#4b0b8c"/>
<line x1="386.4" y1="385.0" x2="386.4" y2="393.0" stroke="#4b0b8c" stroke-width="1.1"/>
<line x1="383.79999999999995" y1="385.0" x2="389.0" y2="385.0" stroke="#4b0b8c" stroke-width="1.1"/>
<line x1="383.79999999999995" y1="393.0" x2="389.0" y2="393.0" stroke="#4b0b8c" stroke-width="1.1"/>
<path d="M329.8,363.0 L329.8,354.6 L354.3,354.6 L354.3,363.0" fill="none" stroke="#000" stroke-width="1.2"/>
<text x="344.7" y="349.9" font-size="10.6" text-anchor="middle" font-weight="normal" font-style="normal" fill="#000">ns</text>
<path d="M368.1,351.4 L368.1,343.3 L392.6,343.3 L392.6,351.4" fill="none" stroke="#000" stroke-width="1.2"/>
<text x="356.5" y="338.2" font-size="10.6"><tspan font-style="italic">P</tspan>=0.0032</text>
<line x1="469.2" y1="306.0" x2="469.2" y2="419.0" stroke="#000" stroke-width="1.25"/>
<line x1="461.6" y1="308.3" x2="469.2" y2="308.3" stroke="#000" stroke-width="1.1"/>
<text x="458.9" y="312.1" font-size="10.6" text-anchor="end" font-weight="normal" font-style="normal" fill="#000">600</text>
<line x1="461.6" y1="345.2" x2="469.2" y2="345.2" stroke="#000" stroke-width="1.1"/>
<text x="458.9" y="349.0" font-size="10.6" text-anchor="end" font-weight="normal" font-style="normal" fill="#000">400</text>
<line x1="461.6" y1="382.1" x2="469.2" y2="382.1" stroke="#000" stroke-width="1.1"/>
<text x="458.9" y="385.90000000000003" font-size="10.6" text-anchor="end" font-weight="normal" font-style="normal" fill="#000">200</text>
<line x1="461.6" y1="419.0" x2="469.2" y2="419.0" stroke="#000" stroke-width="1.1"/>
<text x="458.9" y="422.8" font-size="10.6" text-anchor="end" font-weight="normal" font-style="normal" fill="#000">0</text>
<line x1="469.2" y1="419.0" x2="543.0" y2="419.0" stroke="#000" stroke-width="1.25"/>
<text x="432.0" y="365.7" font-size="10" text-anchor="middle" font-weight="normal" font-style="normal" fill="#000" transform="rotate(-90 432.0 365.7)">Torpor duration (min)</text>
<path d="M526.95,419.00 L526.95,383.10 L536.85,383.10 L536.85,419.00" fill="none" stroke="#4b0b8c" stroke-width="1.1"/>
<circle cx="477.20" cy="419.00" r="2.3" fill="#000"/>
<circle cx="479.60" cy="419.00" r="2.3" fill="#000"/>
<circle cx="482.00" cy="419.00" r="2.3" fill="#000"/>
<circle cx="484.20" cy="419.00" r="2.3" fill="#000"/>
<circle cx="494.20" cy="419.00" r="2.3" fill="#ff0a6c"/>
<circle cx="496.60" cy="419.00" r="2.3" fill="#ff0a6c"/>
<circle cx="499.00" cy="419.00" r="2.3" fill="#ff0a6c"/>
<circle cx="501.20" cy="419.00" r="2.3" fill="#ff0a6c"/>
<circle cx="511.20" cy="419.00" r="2.3" fill="#168787"/>
<circle cx="513.60" cy="419.00" r="2.3" fill="#168787"/>
<circle cx="516.00" cy="419.00" r="2.3" fill="#168787"/>
<circle cx="518.20" cy="419.00" r="2.3" fill="#168787"/>
<circle cx="531.80" cy="330.30" r="2.3" fill="#4b0b8c"/>
<circle cx="529.70" cy="336.60" r="2.3" fill="#4b0b8c"/>
<circle cx="533.10" cy="336.30" r="2.3" fill="#4b0b8c"/>
<circle cx="531.30" cy="372.30" r="2.3" fill="#4b0b8c"/>
<circle cx="530.80" cy="376.80" r="2.3" fill="#4b0b8c"/>
<circle cx="531.60" cy="380.20" r="2.3" fill="#4b0b8c"/>
<circle cx="531.30" cy="402.60" r="2.3" fill="#4b0b8c"/>
<circle cx="531.30" cy="408.40" r="2.3" fill="#4b0b8c"/>
<circle cx="527.80" cy="419.00" r="2.3" fill="#4b0b8c"/>
<circle cx="530.30" cy="419.00" r="2.3" fill="#4b0b8c"/>
<circle cx="532.80" cy="419.00" r="2.3" fill="#4b0b8c"/>
<circle cx="535.30" cy="419.00" r="2.3" fill="#4b0b8c"/>
<line x1="531.6" y1="373.5" x2="531.6" y2="392.0" stroke="#4b0b8c" stroke-width="1.1"/>
<line x1="529.0" y1="373.5" x2="534.2" y2="373.5" stroke="#4b0b8c" stroke-width="1.1"/>
<line x1="529.0" y1="392.0" x2="534.2" y2="392.0" stroke="#4b0b8c" stroke-width="1.1"/>
<path d="M478.8,403.0 L478.8,396.4 L492.5,396.4 L492.5,403.0" fill="none" stroke="#000" stroke-width="1.2"/>
<text x="485.5" y="393.3" font-size="10" text-anchor="middle" font-weight="normal" font-style="normal" fill="#000">ns</text>
<path d="M517.1,325.4 L517.1,318.4 L530.7,318.4 L530.7,325.4" fill="none" stroke="#000" stroke-width="1.2"/>
<text x="524.7" y="315.1" font-size="10" text-anchor="middle"><tspan font-style="italic">P</tspan>=0.002</text>
<line x1="576.6" y1="306.0" x2="576.6" y2="419.0" stroke="#000" stroke-width="1.25"/>
<line x1="568.6" y1="308.28" x2="576.6" y2="308.28" stroke="#000" stroke-width="1.1"/>
<text x="566.0" y="312.08" font-size="10.6" text-anchor="end" font-weight="normal" font-style="normal" fill="#000">4</text>
<line x1="568.6" y1="335.96000000000004" x2="576.6" y2="335.96000000000004" stroke="#000" stroke-width="1.1"/>
<text x="566.0" y="339.76000000000005" font-size="10.6" text-anchor="end" font-weight="normal" font-style="normal" fill="#000">3</text>
<line x1="568.6" y1="363.64" x2="576.6" y2="363.64" stroke="#000" stroke-width="1.1"/>
<text x="566.0" y="367.44" font-size="10.6" text-anchor="end" font-weight="normal" font-style="normal" fill="#000">2</text>
<line x1="568.6" y1="391.32" x2="576.6" y2="391.32" stroke="#000" stroke-width="1.1"/>
<text x="566.0" y="395.12" font-size="10.6" text-anchor="end" font-weight="normal" font-style="normal" fill="#000">1</text>
<line x1="568.6" y1="419.0" x2="576.6" y2="419.0" stroke="#000" stroke-width="1.1"/>
<text x="566.0" y="422.8" font-size="10.6" text-anchor="end" font-weight="normal" font-style="normal" fill="#000">0</text>
<line x1="576.6" y1="419.0" x2="650.8" y2="419.0" stroke="#000" stroke-width="1.25"/>
<text x="553.3" y="367.1" font-size="10" text-anchor="middle" font-weight="normal" font-style="normal" fill="#000" transform="rotate(-90 553.3 367.1)">torpor bouts</text>
<path d="M633.65,419.00 L633.65,379.10 L643.55,379.10 L643.55,419.00" fill="none" stroke="#4b0b8c" stroke-width="1.1"/>
<circle cx="584.00" cy="419.00" r="2.3" fill="#000"/>
<circle cx="586.40" cy="419.00" r="2.3" fill="#000"/>
<circle cx="588.80" cy="419.00" r="2.3" fill="#000"/>
<circle cx="591.00" cy="419.00" r="2.3" fill="#000"/>
<circle cx="601.40" cy="419.00" r="2.3" fill="#ff0a6c"/>
<circle cx="603.80" cy="419.00" r="2.3" fill="#ff0a6c"/>
<circle cx="606.20" cy="419.00" r="2.3" fill="#ff0a6c"/>
<circle cx="608.40" cy="419.00" r="2.3" fill="#ff0a6c"/>
<circle cx="618.60" cy="419.00" r="2.3" fill="#168787"/>
<circle cx="621.00" cy="419.00" r="2.3" fill="#168787"/>
<circle cx="623.40" cy="419.00" r="2.3" fill="#168787"/>
<circle cx="625.60" cy="419.00" r="2.3" fill="#168787"/>
<circle cx="638.80" cy="335.90" r="2.3" fill="#4b0b8c"/>
<circle cx="638.80" cy="363.80" r="2.3" fill="#4b0b8c"/>
<circle cx="635.30" cy="391.40" r="2.3" fill="#4b0b8c"/>
<circle cx="637.50" cy="391.40" r="2.3" fill="#4b0b8c"/>
<circle cx="639.70" cy="391.40" r="2.3" fill="#4b0b8c"/>
<circle cx="641.90" cy="391.40" r="2.3" fill="#4b0b8c"/>
<line x1="638.6" y1="371.5" x2="638.6" y2="386.4" stroke="#4b0b8c" stroke-width="1.1"/>
<line x1="636.0" y1="371.5" x2="641.2" y2="371.5" stroke="#4b0b8c" stroke-width="1.1"/>
<line x1="636.0" y1="386.4" x2="641.2" y2="386.4" stroke="#4b0b8c" stroke-width="1.1"/>
<path d="M589.2,409.0 L589.2,402.4 L603.2,402.4 L603.2,409.0" fill="none" stroke="#000" stroke-width="1.2"/>
<text x="596.9" y="399.9" font-size="10" text-anchor="middle" font-weight="normal" font-style="normal" fill="#000">ns</text>
<path d="M624.8,325.9 L624.8,319.2 L638.1,319.2 L638.1,325.9" fill="none" stroke="#000" stroke-width="1.2"/>
<text x="610.90" y="315.6" font-size="10.30" font-style="italic">P</text>
<path d="M626.90,308.40 L619.70,312.00 L626.90,315.60" fill="none" stroke="#000" stroke-width="0.85"/>
<text x="627.70" y="315.6" font-size="10.30">0.001</text>
</svg></body></html>
